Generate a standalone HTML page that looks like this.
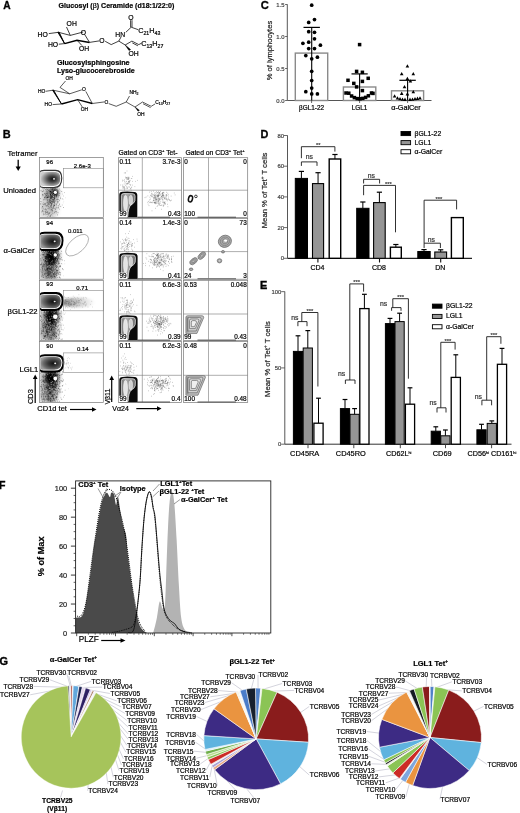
<!DOCTYPE html>
<html><head><meta charset="utf-8"><style>
html,body{margin:0;padding:0;background:#fff;width:520px;height:813px;overflow:hidden}
svg{display:block;filter:blur(0.35px)}
text{font-family:"Liberation Sans", sans-serif}
</style></head><body>
<svg width="520" height="813" viewBox="0 0 520 813">
<defs><filter id="gs" filterUnits="userSpaceOnUse" x="0" y="0" width="520" height="813"><feColorMatrix type="saturate" values="0"/></filter></defs>
<rect width="520" height="813" fill="#fff"/>
<path d="M58.50 32.30 L70.30 35.40 L83.20 32.00" fill="none" stroke="#000" stroke-width="0.75"/>
<line x1="84.70" y1="34.50" x2="89.50" y2="42.40" stroke="#000" stroke-width="0.75"/>
<path d="M89.50 42.40 L77.00 40.20 L64.60 43.60" fill="none" stroke="#000" stroke-width="1.5"/>
<path d="M64.6 43.6 L57.9 32.3 L59.1 32.3 Z" fill="#000" stroke="#000" stroke-width="1.0"/>
<path d="M70.30 35.40 L66.50 27.00" fill="none" stroke="#000" stroke-width="0.75"/>
<line x1="58.50" y1="32.30" x2="48.80" y2="33.60" stroke="#000" stroke-width="0.75"/>
<line x1="64.60" y1="43.60" x2="58.80" y2="44.20" stroke="#000" stroke-width="0.75"/>
<line x1="77.00" y1="40.20" x2="82.00" y2="45.60" stroke="#000" stroke-width="0.75"/>
<line x1="89.50" y1="42.40" x2="99.20" y2="40.90" stroke="#000" stroke-width="0.75"/>
<path d="M105.20 41.30 L111.20 44.60 L118.80 41.10" fill="none" stroke="#000" stroke-width="0.75"/>
<line x1="118.80" y1="41.10" x2="121.00" y2="37.00" stroke="#000" stroke-width="0.75"/>
<line x1="125.80" y1="32.30" x2="131.20" y2="27.20" stroke="#000" stroke-width="0.75"/>
<line x1="130.60" y1="27.20" x2="130.60" y2="20.20" stroke="#000" stroke-width="0.75"/>
<line x1="132.00" y1="27.20" x2="132.00" y2="20.20" stroke="#000" stroke-width="0.75"/>
<line x1="131.20" y1="27.20" x2="138.00" y2="29.60" stroke="#000" stroke-width="0.75"/>
<line x1="118.80" y1="41.10" x2="125.20" y2="45.00" stroke="#000" stroke-width="0.75"/>
<path d="M125.2 45.0 L129.0 50.5 L130.6 49.6 Z" fill="#000" stroke="#000" stroke-width="0.5"/>
<path d="M125.20 45.00 L131.90 41.10 L138.80 44.60 L141.50 43.20" fill="none" stroke="#000" stroke-width="0.75"/>
<line x1="132.30" y1="42.90" x2="137.90" y2="45.80" stroke="#000" stroke-width="0.75"/>
<path d="M53.10 90.20 L69.70 93.80 L81.80 89.80" fill="none" stroke="#000" stroke-width="0.65"/>
<line x1="85.80" y1="91.40" x2="92.30" y2="103.50" stroke="#000" stroke-width="0.65"/>
<path d="M92.30 103.50 L77.70 99.70 L61.50 104.00" fill="none" stroke="#000" stroke-width="1.3"/>
<path d="M61.5 104.0 L52.6 90.2 L53.6 90.2 Z" fill="#000" stroke="#000" stroke-width="0.9"/>
<path d="M69.70 93.80 L60.00 87.40 L65.50 81.00" fill="none" stroke="#000" stroke-width="0.65"/>
<line x1="53.10" y1="90.20" x2="45.60" y2="91.30" stroke="#000" stroke-width="0.65"/>
<line x1="61.50" y1="104.00" x2="52.60" y2="104.60" stroke="#000" stroke-width="0.65"/>
<line x1="77.70" y1="99.70" x2="82.30" y2="107.00" stroke="#000" stroke-width="0.65"/>
<line x1="92.30" y1="103.50" x2="104.50" y2="101.90" stroke="#000" stroke-width="0.65"/>
<path d="M108.70 103.60 L116.20 106.30 L126.20 102.00" fill="none" stroke="#000" stroke-width="0.65"/>
<line x1="126.20" y1="102.00" x2="129.50" y2="96.00" stroke="#000" stroke-width="0.65"/>
<line x1="126.20" y1="102.00" x2="135.00" y2="107.00" stroke="#000" stroke-width="0.65"/>
<path d="M135.0 107.0 L138.0 111.2 L139.4 110.3 Z" fill="#000" stroke="#000" stroke-width="0.4"/>
<path d="M135.00 107.00 L142.50 102.00 L151.20 106.30 L155.00 104.00" fill="none" stroke="#000" stroke-width="0.65"/>
<line x1="143.00" y1="103.70" x2="150.60" y2="107.60" stroke="#000" stroke-width="0.65"/>
<line x1="18.20" y1="159.80" x2="18.20" y2="167.50" stroke="#000" stroke-width="1.3"/>
<path d="M15.6 166.5 L20.8 166.5 L18.2 171.0 Z" fill="#000" stroke="none" stroke-width="0.8"/>
<defs><filter id="bl3" x="-50%" y="-50%" width="200%" height="200%"><feGaussianBlur stdDeviation="2.6"/></filter><filter id="bl1" x="-50%" y="-50%" width="200%" height="200%"><feGaussianBlur stdDeviation="0.9"/></filter><radialGradient id="blobg" cx="0.6" cy="0.5" r="0.62"><stop offset="0" stop-color="#111"/><stop offset="0.4" stop-color="#3a3a3a"/><stop offset="0.75" stop-color="#6a6a6a"/><stop offset="1" stop-color="#9a9a9a"/></radialGradient><radialGradient id="blobg1" cx="0.6" cy="0.5" r="0.6"><stop offset="0" stop-color="#111"/><stop offset="0.35" stop-color="#444"/><stop offset="0.75" stop-color="#999"/><stop offset="1" stop-color="#ccc"/></radialGradient><linearGradient id="c2g" x1="0" x2="1" y1="0" y2="0"><stop offset="0" stop-color="#7a7a7a"/><stop offset="0.4" stop-color="#a8a8a8"/><stop offset="1" stop-color="#6a6a6a"/></linearGradient></defs>
<clipPath id="cp0"><rect x="39.9" y="157.9" width="63.0" height="59.3"/></clipPath>
<g clip-path="url(#cp0)">
<ellipse cx="54.5" cy="192.5" rx="4" ry="3.5" fill="#000" opacity="0.7" filter="url(#bl1)"/>
<ellipse cx="51.5" cy="193.0" rx="7" ry="8" fill="#000" opacity="0.45" filter="url(#bl3)"/>
<ellipse cx="50" cy="207.0" rx="7.5" ry="13" fill="#000" opacity="0.23" filter="url(#bl3)"/>
<rect x="39.5" y="188.0" width="4" height="29.599999999999994" fill="#000" opacity="0.09" filter="url(#bl1)"/>
<path d="M49.8 200.6h0.6M50.0 191.5h0.6M46.8 192.7h0.6M56.0 199.7h0.6M55.7 197.7h0.6M52.8 197.0h0.6M43.5 204.4h0.6M53.3 200.5h0.6M47.0 189.8h0.6M52.4 194.5h0.6M53.3 187.9h0.6M52.4 199.3h0.6M48.0 213.9h0.6M53.5 208.2h0.6M49.5 193.8h0.6M53.8 197.7h0.6M48.7 208.4h0.6M47.4 197.7h0.6M51.2 209.4h0.6M41.9 191.5h0.6M53.2 194.3h0.6M44.4 204.1h0.6M54.0 205.4h0.6M57.5 199.0h0.6M53.8 188.3h0.6M46.6 189.2h0.6M44.4 197.6h0.6M57.5 201.4h0.6M46.0 205.8h0.6M56.0 196.7h0.6M52.1 199.8h0.6M58.2 201.8h0.6M53.3 201.0h0.6M43.9 209.1h0.6M55.3 200.8h0.6M42.1 188.0h0.6M50.2 206.2h0.6M45.1 212.7h0.6M53.5 193.3h0.6M52.5 202.1h0.6M51.5 207.6h0.6M48.0 190.4h0.6M55.7 195.3h0.6M47.0 205.4h0.6M57.6 190.1h0.6M44.8 193.5h0.6M50.3 191.7h0.6M47.5 201.9h0.6M56.1 204.4h0.6M52.6 196.6h0.6M51.7 201.3h0.6M50.2 198.1h0.6M53.6 195.0h0.6M54.4 201.2h0.6M60.0 198.6h0.6M49.1 190.9h0.6M50.9 205.2h0.6M49.5 199.2h0.6M45.9 197.7h0.6M52.8 197.6h0.6M49.1 202.2h0.6M52.3 189.3h0.6M61.9 198.9h0.6M48.5 193.9h0.6M50.0 194.3h0.6M50.7 205.5h0.6M54.9 211.4h0.6M43.3 191.1h0.6M49.5 201.9h0.6M51.8 208.1h0.6M50.3 197.1h0.6M54.6 196.6h0.6M50.6 211.9h0.6M55.7 191.8h0.6M55.1 192.1h0.6M51.6 202.8h0.6M52.0 202.0h0.6M56.7 203.2h0.6M54.4 212.5h0.6M47.0 212.2h0.6M55.4 193.0h0.6M42.1 210.5h0.6M50.6 188.4h0.6M52.8 199.5h0.6M56.1 211.4h0.6M57.5 193.0h0.6M47.7 206.2h0.6M51.5 196.4h0.6M57.4 192.1h0.6M40.7 190.7h0.6M42.7 204.0h0.6M52.4 188.3h0.6M51.0 204.2h0.6M51.4 209.6h0.6M50.7 206.4h0.6M57.7 212.7h0.6M48.0 204.7h0.6M42.2 206.8h0.6M45.5 194.9h0.6M50.1 194.7h0.6M48.3 197.6h0.6M59.1 195.5h0.6M53.4 206.0h0.6M48.5 206.8h0.6M43.6 188.4h0.6M55.5 203.7h0.6M51.0 203.9h0.6M44.0 188.0h0.6M55.2 188.8h0.6M44.1 193.7h0.6M45.7 199.0h0.6M40.4 198.6h0.6M54.3 192.0h0.6M52.3 190.0h0.6M54.5 203.2h0.6M54.0 198.6h0.6M57.0 202.3h0.6M55.0 209.4h0.6M49.7 189.8h0.6M46.8 202.6h0.6M59.5 193.7h0.6M53.5 204.9h0.6M46.9 194.0h0.6M52.3 204.1h0.6M50.8 192.9h0.6M46.4 191.1h0.6M55.0 196.1h0.6M63.0 207.5h0.6M53.8 200.3h0.6M58.6 199.7h0.6M50.7 200.7h0.6M42.3 206.4h0.6M52.5 187.3h0.6M57.0 214.9h0.6M44.7 187.7h0.6M52.3 197.0h0.6M60.5 206.4h0.6M58.7 205.9h0.6M59.2 203.9h0.6M47.1 197.9h0.6M50.7 200.8h0.6M47.7 193.6h0.6M53.1 199.1h0.6M53.9 197.3h0.6M49.5 203.7h0.6M48.2 195.0h0.6M50.5 196.7h0.6M51.0 196.9h0.6M52.9 206.6h0.6M53.0 192.9h0.6M42.5 195.7h0.6M46.8 203.1h0.6M46.3 212.4h0.6M47.6 200.7h0.6M53.2 196.9h0.6M57.7 202.8h0.6M50.9 201.6h0.6M58.4 205.7h0.6M50.3 203.0h0.6M49.7 206.8h0.6M53.7 205.0h0.6M56.6 192.6h0.6M49.5 204.6h0.6M55.4 195.1h0.6M45.7 197.1h0.6M52.6 207.4h0.6M54.5 195.3h0.6M54.8 200.9h0.6M51.9 195.6h0.6M49.9 202.5h0.6M46.3 188.1h0.6M47.9 201.3h0.6M53.5 194.4h0.6M59.2 200.7h0.6M54.5 205.3h0.6M42.5 194.4h0.6M51.1 197.7h0.6M53.9 202.7h0.6M57.8 207.8h0.6M45.1 189.4h0.6M50.6 195.1h0.6M45.4 194.7h0.6M50.1 191.6h0.6M54.2 198.9h0.6M50.6 187.6h0.6M46.6 195.4h0.6M44.2 197.2h0.6M49.9 191.5h0.6M53.1 201.7h0.6M50.4 194.3h0.6M54.3 198.2h0.6M46.0 193.7h0.6M48.8 196.2h0.6M53.4 190.5h0.6M61.5 191.5h0.6M56.0 196.3h0.6M47.6 197.7h0.6M52.5 209.1h0.6M54.4 205.4h0.6M53.3 193.3h0.6M50.0 195.2h0.6M56.2 195.3h0.6M47.4 197.8h0.6M53.6 202.8h0.6M47.5 214.3h0.6M58.5 195.2h0.6M52.2 190.3h0.6M57.4 187.2h0.6M54.0 189.7h0.6M47.9 202.9h0.6M57.0 194.9h0.6M48.0 203.9h0.6M50.8 198.4h0.6M57.9 207.4h0.6M51.0 203.6h0.6M48.1 194.5h0.6M43.1 214.7h0.6M56.3 189.9h0.6M50.7 191.6h0.6M50.7 198.4h0.6" stroke="#000" stroke-width="0.6" opacity="0.8" fill="none"/>
<path d="M51.8 201.2h0.6M43.6 205.9h0.6M53.6 202.6h0.6M46.2 195.6h0.6M43.4 199.8h0.6M50.8 210.2h0.6M44.8 204.2h0.6M45.9 206.0h0.6M49.9 208.9h0.6M47.6 208.4h0.6M49.3 213.3h0.6M49.0 191.6h0.6M42.7 211.5h0.6M45.1 211.6h0.6M53.5 207.7h0.6M52.0 202.7h0.6M40.5 203.6h0.6M51.7 197.6h0.6M48.4 213.0h0.6M43.7 211.7h0.6M60.2 197.3h0.6M49.9 202.2h0.6M58.2 207.8h0.6M54.4 195.7h0.6M48.9 203.9h0.6M53.5 202.4h0.6M51.7 208.4h0.6M40.0 201.5h0.6M58.0 197.1h0.6M42.9 187.7h0.6M41.7 208.0h0.6M59.2 209.2h0.6M45.9 195.9h0.6M52.2 210.6h0.6M42.9 190.0h0.6M50.7 207.0h0.6M41.2 201.6h0.6M45.7 209.5h0.6M48.3 203.0h0.6M46.9 216.6h0.6M57.3 199.6h0.6M54.1 194.9h0.6M49.4 213.0h0.6M58.1 199.4h0.6M48.6 206.4h0.6M40.0 204.2h0.6M44.9 208.5h0.6M49.2 207.1h0.6M45.7 214.7h0.6M47.4 196.7h0.6M44.9 203.8h0.6M54.1 202.0h0.6M50.9 196.1h0.6M45.1 204.2h0.6M50.0 216.3h0.6M52.6 213.5h0.6M50.2 207.0h0.6M54.6 208.4h0.6M59.0 189.1h0.6M53.9 199.5h0.6M49.0 200.9h0.6M46.0 193.9h0.6M45.2 211.7h0.6M49.2 204.8h0.6M48.0 215.0h0.6M52.0 202.3h0.6M53.0 202.2h0.6M51.8 192.5h0.6M55.5 208.1h0.6M51.0 214.7h0.6M50.2 202.2h0.6M49.2 200.6h0.6M51.1 204.9h0.6M53.1 199.5h0.6M46.5 212.1h0.6M57.0 199.6h0.6M47.0 212.8h0.6M59.1 204.5h0.6M56.4 195.5h0.6M50.2 203.1h0.6M63.3 196.0h0.6M45.5 210.0h0.6M42.7 210.0h0.6M52.4 200.7h0.6M44.8 197.3h0.6M46.6 214.3h0.6M49.5 199.2h0.6M49.0 208.4h0.6M56.4 207.2h0.6M48.8 209.0h0.6M54.8 212.0h0.6M47.4 191.4h0.6M49.6 216.4h0.6M42.5 191.7h0.6M47.4 198.8h0.6M51.7 195.6h0.6M43.7 199.3h0.6M48.7 196.0h0.6M49.1 213.0h0.6M44.3 199.0h0.6M44.7 203.6h0.6M52.1 187.7h0.6M51.8 203.7h0.6M53.8 206.5h0.6M51.8 209.3h0.6M56.8 201.3h0.6M54.2 199.1h0.6M53.4 194.2h0.6M51.7 202.1h0.6M42.1 194.5h0.6M50.2 215.3h0.6M51.6 210.3h0.6M46.7 197.4h0.6M54.3 204.8h0.6M47.3 197.1h0.6M47.5 211.5h0.6M51.1 189.5h0.6M51.6 206.1h0.6M43.0 213.3h0.6M47.3 200.0h0.6M44.9 209.3h0.6M45.1 213.7h0.6M46.4 210.0h0.6M48.4 196.0h0.6M61.9 205.0h0.6M45.5 205.7h0.6M56.6 205.4h0.6M56.1 212.9h0.6M44.1 214.3h0.6M52.0 211.8h0.6M54.4 212.8h0.6M50.0 209.9h0.6M64.3 192.6h0.6M47.0 204.4h0.6M54.3 198.7h0.6M55.9 194.5h0.6M50.6 197.7h0.6M49.9 195.7h0.6M50.8 197.3h0.6M50.2 215.9h0.6M43.1 202.7h0.6M52.2 210.3h0.6M56.5 207.9h0.6M49.1 200.7h0.6M50.6 198.9h0.6M42.9 195.1h0.6M45.4 196.7h0.6M42.0 211.6h0.6M41.1 211.9h0.6M42.9 208.2h0.6" stroke="#000" stroke-width="0.6" opacity="0.55" fill="none"/>
<path d="M65.5 197.8h0.5M57.1 196.4h0.5M57.6 197.5h0.5M58.1 196.7h0.5M62.9 202.9h0.5M63.6 201.3h0.5M58.8 195.8h0.5M58.9 193.2h0.5M58.7 195.8h0.5M56.1 195.8h0.5M62.1 194.5h0.5M50.0 197.2h0.5M62.1 193.3h0.5M63.4 199.3h0.5M60.1 190.7h0.5" stroke="#333" stroke-width="0.5" opacity="0.4" fill="none"/>
<path d="M55.2 197.1h0.7M53.1 196.9h0.7M40.8 201.7h0.7M53.0 209.5h0.7M47.6 201.7h0.7M55.1 203.5h0.7M56.6 210.1h0.7M48.9 194.9h0.7M56.4 192.9h0.7M42.9 192.0h0.7M48.6 194.7h0.7M53.2 194.5h0.7M58.6 201.2h0.7M46.6 215.1h0.7M49.1 204.2h0.7M51.9 198.9h0.7M53.6 195.1h0.7M45.7 194.4h0.7M51.9 202.6h0.7M54.8 203.2h0.7M48.0 194.9h0.7M41.4 200.3h0.7M54.4 207.3h0.7M51.4 200.3h0.7M56.7 202.2h0.7M55.7 207.8h0.7M53.1 215.1h0.7M49.1 198.4h0.7M48.0 194.0h0.7M52.1 207.7h0.7M57.9 210.1h0.7M58.0 189.4h0.7M48.8 206.5h0.7M59.2 203.0h0.7M47.7 198.5h0.7M48.7 193.4h0.7M59.5 195.7h0.7M57.9 205.4h0.7M48.9 206.1h0.7M60.1 208.2h0.7M58.3 203.0h0.7M54.6 200.0h0.7M54.1 215.0h0.7M44.8 201.4h0.7M53.2 196.3h0.7M50.5 209.9h0.7M62.0 208.3h0.7M61.6 202.8h0.7M51.8 190.8h0.7M51.7 191.0h0.7M52.4 206.7h0.7M52.2 204.8h0.7M47.7 216.3h0.7M51.1 194.4h0.7M47.0 198.5h0.7M53.5 190.2h0.7M51.3 216.3h0.7M55.4 200.5h0.7M52.6 200.8h0.7M51.8 209.3h0.7M51.9 193.1h0.7M55.3 195.9h0.7M46.8 190.8h0.7M42.6 205.6h0.7M44.6 208.2h0.7M48.1 198.3h0.7M53.7 215.6h0.7M61.7 212.3h0.7M52.7 203.8h0.7M61.0 216.3h0.7M50.4 206.6h0.7M53.4 202.5h0.7M49.5 188.7h0.7M58.1 207.4h0.7M46.0 216.0h0.7M61.2 210.1h0.7M62.3 189.7h0.7M54.7 206.2h0.7M53.0 203.7h0.7M57.3 187.1h0.7M45.8 188.1h0.7M49.2 195.9h0.7M53.8 204.7h0.7M52.2 195.2h0.7M49.8 211.5h0.7M55.8 203.0h0.7M49.0 208.5h0.7M57.8 199.3h0.7M56.1 190.8h0.7M57.1 204.0h0.7M44.1 208.7h0.7M47.5 214.8h0.7M48.6 200.4h0.7M53.4 198.7h0.7M53.3 196.5h0.7M55.4 202.1h0.7M57.8 202.3h0.7M43.1 203.0h0.7M54.3 212.7h0.7M51.3 208.8h0.7" stroke="#fff" stroke-width="0.7" opacity="0.6" fill="none"/>
<path d="M39.90 171.98 Q39.90 169.80 44.38 169.80 L55.58 169.80 Q62.30 169.80 62.30 177.99 Q62.30 188.00 54.46 188.00 L43.26 188.00 Q39.90 188.00 39.90 185.82 Z" fill="#333" stroke="none" stroke-width="0.8"/>
<path d="M40.20 172.82 Q40.20 170.90 44.40 170.90 L54.90 170.90 Q61.20 170.90 61.20 178.10 Q61.20 186.90 53.85 186.90 L43.35 186.90 Q40.20 186.90 40.20 184.98 Z" fill="#fff" stroke="none" stroke-width="0.8"/>
<path d="M40.50 173.50 Q40.50 171.80 44.46 171.80 L54.36 171.80 Q60.30 171.80 60.30 178.19 Q60.30 186.00 53.37 186.00 L43.47 186.00 Q40.50 186.00 40.50 184.30 Z" fill="url(#blobg1)" stroke="none" stroke-width="0.8"/>
<ellipse cx="53.98" cy="178.90" rx="1.0" ry="0.8" fill="#eee"/>
<circle cx="55.3" cy="192.30" r="1.6" fill="#fff"/>
</g>
<rect x="39.50" y="157.50" width="63.80" height="60.10" fill="none" stroke="#777" stroke-width="0.7"/>
<rect x="63.60" y="168.40" width="39.70" height="19.40" fill="none" stroke="#888" stroke-width="0.6"/>
<clipPath id="cp1"><rect x="39.9" y="219.0" width="63.0" height="59.8"/></clipPath>
<g clip-path="url(#cp1)">
<ellipse cx="51.5" cy="256.0" rx="7" ry="8" fill="#000" opacity="0.95" filter="url(#bl3)"/>
<ellipse cx="50" cy="270.0" rx="7.5" ry="13" fill="#000" opacity="0.47" filter="url(#bl3)"/>
<rect x="39.5" y="251.0" width="4" height="28.19999999999999" fill="#000" opacity="0.19" filter="url(#bl1)"/>
<path d="M55.9 268.0h0.6M57.9 267.4h0.6M48.1 250.6h0.6M47.3 264.4h0.6M52.5 255.0h0.6M51.8 256.4h0.6M52.0 266.3h0.6M55.3 250.5h0.6M44.2 273.7h0.6M51.5 270.2h0.6M43.6 254.4h0.6M48.7 266.0h0.6M55.9 275.5h0.6M53.3 268.3h0.6M54.5 266.7h0.6M53.5 252.6h0.6M52.4 266.7h0.6M52.5 263.3h0.6M51.1 267.8h0.6M48.4 257.1h0.6M49.6 264.3h0.6M58.2 255.2h0.6M60.2 274.8h0.6M54.6 264.5h0.6M59.0 256.0h0.6M53.1 272.8h0.6M53.4 262.7h0.6M50.1 259.9h0.6M44.6 269.5h0.6M54.8 269.6h0.6M44.9 268.2h0.6M55.0 251.6h0.6M48.1 261.8h0.6M48.6 272.3h0.6M54.8 264.6h0.6M48.7 251.9h0.6M46.6 263.6h0.6M47.7 250.2h0.6M53.7 272.6h0.6M56.5 261.3h0.6M55.2 274.3h0.6M56.1 253.1h0.6M55.7 266.5h0.6M44.1 253.5h0.6M44.6 256.8h0.6M41.7 272.3h0.6M52.7 274.2h0.6M45.0 269.7h0.6M50.1 261.0h0.6M50.3 269.0h0.6M55.7 259.0h0.6M44.9 266.2h0.6M48.9 264.9h0.6M52.2 275.9h0.6M56.1 253.0h0.6M52.6 277.4h0.6M48.6 262.8h0.6M56.4 271.8h0.6M45.3 260.7h0.6M47.1 270.5h0.6M47.3 259.8h0.6M48.8 256.3h0.6M53.1 251.0h0.6M48.5 263.9h0.6M48.4 261.2h0.6M58.2 258.3h0.6M50.3 266.1h0.6M49.4 269.9h0.6M45.2 264.8h0.6M58.9 265.2h0.6M56.4 274.0h0.6M50.5 256.6h0.6M62.1 260.0h0.6M49.1 251.1h0.6M53.0 261.6h0.6M51.8 276.9h0.6M49.5 263.2h0.6M55.7 278.2h0.6M53.2 274.0h0.6M43.7 254.5h0.6M42.4 266.6h0.6M47.7 255.1h0.6M51.2 264.0h0.6M49.4 258.2h0.6M48.5 259.3h0.6M45.7 258.7h0.6M42.3 252.6h0.6M59.6 258.9h0.6M45.3 260.8h0.6M47.7 266.1h0.6M52.7 256.9h0.6M57.1 260.7h0.6M45.8 257.2h0.6M51.9 256.3h0.6M46.3 276.6h0.6M47.6 267.3h0.6M43.4 255.0h0.6M52.2 269.4h0.6M45.9 264.5h0.6M47.4 257.8h0.6M49.1 266.4h0.6M49.2 271.9h0.6M58.0 262.4h0.6M54.6 260.9h0.6M53.9 258.3h0.6M56.4 250.9h0.6M49.7 251.1h0.6M51.2 252.9h0.6M51.5 260.7h0.6M47.8 254.8h0.6M49.5 268.9h0.6M49.0 268.6h0.6M56.5 262.8h0.6M53.2 259.4h0.6M55.3 252.1h0.6M55.4 259.0h0.6M56.1 256.5h0.6M49.2 260.7h0.6M49.1 252.0h0.6M51.5 259.6h0.6M57.8 258.5h0.6M59.5 277.8h0.6M58.7 269.7h0.6M51.6 259.5h0.6M50.7 251.0h0.6M58.4 263.9h0.6M50.8 253.4h0.6M40.9 264.3h0.6M50.9 256.4h0.6M57.5 259.5h0.6M51.8 253.9h0.6M48.3 274.5h0.6M55.5 276.9h0.6M49.4 258.3h0.6M47.0 268.6h0.6M44.7 264.2h0.6M55.9 273.5h0.6M46.8 270.0h0.6M45.0 270.7h0.6M58.4 251.5h0.6M47.6 254.3h0.6M62.3 269.0h0.6M48.0 271.1h0.6M59.4 255.1h0.6M47.9 252.4h0.6M42.5 268.0h0.6M46.1 269.7h0.6M54.5 258.1h0.6M45.7 264.8h0.6M59.2 263.5h0.6M47.8 254.2h0.6M49.9 261.8h0.6M43.4 251.5h0.6M53.3 275.4h0.6M54.0 254.7h0.6M48.0 259.6h0.6M50.8 276.3h0.6M57.9 268.4h0.6M51.5 250.1h0.6M45.1 260.2h0.6M52.1 264.7h0.6M53.9 273.5h0.6M47.2 268.8h0.6M46.6 265.6h0.6M51.8 260.7h0.6M55.4 257.8h0.6M56.0 267.6h0.6M51.6 251.8h0.6M47.6 252.2h0.6M50.1 257.7h0.6M47.8 254.5h0.6M58.3 251.8h0.6M51.0 261.1h0.6M51.9 264.6h0.6M52.3 259.8h0.6M42.5 250.2h0.6M40.5 264.9h0.6M52.4 255.9h0.6M47.3 251.6h0.6M59.3 277.0h0.6M50.7 272.2h0.6M48.5 260.1h0.6M51.2 261.0h0.6M50.8 268.2h0.6M51.7 255.1h0.6M53.4 260.1h0.6M54.1 264.0h0.6M50.9 263.7h0.6M48.3 258.8h0.6M51.2 264.1h0.6M50.7 256.4h0.6M50.4 250.9h0.6M61.1 263.7h0.6M54.1 267.2h0.6M59.5 272.5h0.6M47.1 261.0h0.6M49.3 253.6h0.6M51.3 261.7h0.6M56.6 275.6h0.6M50.5 269.3h0.6M53.0 265.3h0.6M53.6 269.1h0.6M60.4 278.1h0.6M60.0 266.2h0.6M49.5 251.4h0.6M47.3 259.3h0.6M50.9 265.4h0.6M61.2 257.7h0.6M54.0 263.2h0.6M52.2 255.7h0.6M51.8 257.7h0.6M51.2 258.5h0.6M52.9 268.8h0.6M53.7 253.9h0.6M48.8 255.4h0.6M54.3 275.1h0.6M50.3 250.9h0.6M52.7 260.2h0.6M50.5 265.4h0.6M51.5 261.9h0.6M50.7 254.3h0.6M50.2 258.1h0.6M55.3 251.3h0.6M53.5 251.8h0.6M54.3 277.1h0.6M49.2 262.9h0.6M46.8 268.7h0.6M56.4 258.4h0.6M45.9 262.4h0.6M56.2 270.0h0.6M47.9 273.6h0.6M45.5 270.4h0.6M59.5 266.4h0.6M56.0 254.3h0.6M45.5 256.9h0.6M50.1 257.5h0.6M54.1 256.4h0.6M51.9 262.7h0.6M51.0 278.3h0.6M53.0 258.9h0.6M50.1 251.1h0.6M57.0 259.7h0.6M46.1 251.8h0.6M50.4 253.1h0.6M53.2 259.6h0.6M45.7 258.5h0.6M50.6 263.5h0.6M49.0 261.3h0.6M54.5 269.5h0.6M50.9 251.4h0.6M47.4 265.4h0.6M42.5 274.0h0.6M51.2 267.9h0.6M56.1 262.4h0.6M61.1 251.3h0.6M51.0 269.5h0.6M48.1 250.2h0.6M49.3 257.2h0.6M46.1 263.3h0.6M53.4 258.8h0.6M58.7 254.4h0.6M56.9 252.0h0.6M51.9 256.1h0.6M48.8 251.3h0.6M49.4 250.1h0.6M41.1 251.4h0.6M48.5 252.2h0.6M46.2 256.5h0.6M54.5 255.2h0.6M48.8 272.9h0.6M55.4 268.1h0.6M56.2 254.4h0.6M50.4 270.2h0.6M48.5 256.7h0.6M52.7 262.1h0.6M49.8 268.8h0.6M50.2 266.0h0.6M55.8 265.3h0.6M45.1 251.2h0.6M53.1 274.5h0.6M45.5 261.4h0.6M49.8 265.6h0.6M52.0 271.0h0.6M46.6 267.8h0.6M55.2 258.8h0.6M53.1 251.8h0.6M46.1 253.5h0.6M48.8 276.2h0.6M51.9 261.4h0.6M55.1 262.1h0.6M44.2 264.6h0.6M53.5 263.0h0.6M58.1 253.4h0.6M53.3 266.2h0.6M46.9 271.2h0.6M53.0 255.1h0.6M51.3 257.3h0.6M46.8 253.0h0.6M47.6 251.3h0.6M46.2 261.6h0.6M46.6 266.9h0.6M48.0 264.4h0.6M46.1 258.0h0.6M52.5 266.6h0.6M54.6 269.4h0.6M49.3 255.7h0.6M54.5 253.3h0.6M53.9 256.1h0.6M42.1 268.8h0.6M52.4 258.2h0.6M46.2 252.9h0.6M45.6 256.5h0.6M47.2 269.5h0.6M54.5 264.2h0.6M46.3 266.2h0.6M56.1 255.2h0.6M45.1 263.7h0.6M55.1 257.8h0.6M42.9 254.2h0.6M52.9 266.5h0.6M59.3 255.2h0.6M48.8 257.6h0.6M54.6 250.6h0.6M53.1 265.6h0.6M45.7 257.0h0.6M52.1 264.5h0.6M50.1 255.6h0.6M44.3 268.2h0.6M48.6 273.8h0.6M54.8 258.2h0.6M49.5 251.7h0.6M45.3 258.2h0.6M50.3 273.8h0.6M46.9 252.9h0.6M52.9 262.4h0.6M51.1 252.8h0.6M53.2 262.0h0.6M42.7 255.1h0.6M51.7 258.7h0.6M52.7 265.6h0.6M58.9 271.9h0.6M47.4 253.0h0.6M46.8 261.4h0.6M59.9 265.8h0.6M45.2 263.7h0.6M51.0 261.3h0.6M40.0 258.8h0.6M51.2 268.9h0.6M50.4 250.4h0.6M43.1 259.9h0.6M51.1 264.8h0.6M49.2 263.5h0.6M54.7 256.4h0.6M48.9 256.0h0.6M46.7 255.7h0.6M49.6 260.3h0.6M57.0 272.4h0.6M49.0 264.6h0.6M52.3 266.4h0.6M51.1 260.9h0.6M54.9 272.3h0.6M54.0 262.8h0.6M52.2 253.0h0.6M43.0 265.3h0.6M51.9 251.9h0.6M46.7 272.1h0.6M42.9 277.4h0.6M47.8 257.8h0.6M48.7 259.7h0.6M48.7 264.1h0.6M48.6 253.2h0.6M52.6 254.0h0.6M45.4 256.9h0.6M50.0 276.8h0.6M46.1 268.7h0.6M47.5 254.1h0.6M49.5 261.0h0.6M54.9 277.2h0.6M48.1 272.6h0.6M55.5 266.9h0.6M47.6 267.9h0.6M50.5 261.9h0.6M49.8 265.3h0.6M56.0 270.4h0.6M50.1 268.9h0.6M53.4 264.5h0.6M57.7 261.1h0.6M45.4 266.4h0.6M49.9 250.1h0.6M49.0 253.0h0.6M58.4 274.1h0.6M52.2 258.8h0.6M52.6 264.2h0.6M49.6 268.2h0.6M54.8 260.3h0.6M49.2 252.7h0.6M44.7 264.6h0.6M50.9 258.4h0.6M50.7 261.2h0.6M54.2 260.4h0.6M57.1 270.5h0.6M51.0 253.3h0.6M50.6 262.7h0.6M55.5 254.2h0.6M57.2 250.8h0.6M57.6 263.7h0.6M46.1 263.7h0.6M53.1 255.5h0.6M51.1 254.7h0.6M50.6 271.8h0.6M57.3 255.0h0.6M47.7 255.7h0.6M54.9 261.8h0.6M48.4 261.9h0.6M50.1 263.5h0.6M51.3 266.2h0.6M46.1 256.8h0.6M54.9 254.0h0.6M54.6 269.0h0.6M46.9 275.5h0.6M43.7 252.4h0.6M54.2 272.2h0.6M46.9 250.9h0.6M53.8 264.0h0.6M49.0 263.7h0.6M54.4 261.3h0.6M53.3 274.2h0.6M48.9 259.7h0.6M48.7 269.0h0.6M49.2 263.1h0.6M51.6 258.7h0.6M58.5 257.1h0.6M57.2 266.8h0.6M56.8 256.2h0.6M55.0 266.0h0.6M48.3 260.9h0.6M50.4 257.6h0.6M56.7 250.3h0.6M49.0 251.1h0.6M51.1 264.0h0.6M58.6 261.3h0.6M53.0 250.2h0.6M53.5 272.4h0.6M54.9 274.8h0.6M49.7 264.2h0.6M47.1 268.2h0.6M45.2 273.2h0.6M51.1 261.2h0.6M45.2 251.7h0.6M45.7 258.5h0.6M53.1 265.8h0.6M49.4 255.8h0.6M50.0 251.9h0.6M52.1 259.7h0.6M48.3 260.7h0.6M50.9 257.2h0.6M49.6 273.8h0.6M46.3 256.9h0.6M48.4 268.0h0.6M53.2 254.3h0.6M49.6 269.4h0.6M47.2 254.1h0.6M51.6 262.4h0.6M48.8 268.9h0.6M60.7 253.7h0.6M57.1 254.4h0.6M51.6 254.4h0.6M49.3 271.7h0.6M55.9 254.3h0.6M48.7 250.6h0.6M45.8 277.1h0.6M53.9 259.2h0.6M56.7 266.2h0.6M46.9 268.4h0.6M46.2 264.8h0.6M46.8 253.6h0.6M53.1 262.6h0.6M57.8 272.2h0.6M51.0 262.9h0.6M47.6 256.4h0.6M45.3 258.9h0.6M51.9 272.2h0.6M55.1 266.6h0.6M49.4 255.6h0.6M49.5 260.3h0.6M42.7 266.1h0.6M44.2 252.6h0.6M51.1 252.6h0.6M58.2 257.0h0.6M57.8 270.4h0.6M48.9 262.2h0.6M56.6 254.5h0.6M51.4 252.1h0.6M51.3 254.3h0.6M51.4 268.6h0.6M57.0 259.4h0.6M51.9 267.0h0.6M54.7 273.8h0.6M46.8 273.7h0.6M54.1 265.4h0.6M50.8 254.8h0.6M49.4 254.9h0.6M43.3 252.0h0.6M58.8 274.3h0.6M49.4 250.5h0.6M52.7 269.2h0.6M51.7 259.5h0.6M57.2 270.6h0.6M53.3 270.8h0.6M49.3 274.2h0.6M49.2 262.2h0.6M51.7 257.4h0.6M49.6 263.3h0.6M41.9 257.8h0.6M51.4 255.2h0.6M54.4 276.5h0.6M48.4 259.0h0.6M54.6 262.5h0.6M49.9 256.3h0.6M53.1 267.1h0.6M45.2 260.9h0.6M47.8 264.7h0.6M56.9 258.5h0.6M50.5 259.9h0.6M53.4 259.7h0.6M49.3 250.3h0.6M50.2 270.8h0.6M50.6 272.2h0.6M52.2 257.9h0.6M43.8 251.0h0.6M48.6 264.8h0.6M57.3 251.7h0.6M48.5 275.6h0.6M48.2 250.3h0.6M46.6 254.5h0.6M54.8 261.7h0.6M46.7 259.2h0.6M51.1 266.0h0.6M49.6 262.8h0.6M60.1 259.0h0.6M46.3 261.5h0.6M47.5 254.1h0.6M51.8 261.6h0.6M49.8 267.0h0.6M54.8 254.2h0.6M56.2 251.1h0.6M53.5 261.3h0.6M46.2 272.9h0.6M42.8 267.6h0.6M55.7 263.2h0.6" stroke="#000" stroke-width="0.6" opacity="0.8" fill="none"/>
<path d="M52.9 261.3h0.6M48.9 269.6h0.6M51.4 275.1h0.6M47.8 258.9h0.6M45.8 271.7h0.6M46.6 260.6h0.6M47.0 264.1h0.6M47.2 272.5h0.6M55.1 254.9h0.6M52.7 263.1h0.6M45.4 257.2h0.6M46.6 257.2h0.6M54.8 271.4h0.6M57.1 271.7h0.6M45.2 261.7h0.6M48.0 267.5h0.6M55.9 260.0h0.6M51.0 266.7h0.6M41.7 254.4h0.6M47.7 271.7h0.6M50.9 272.5h0.6M49.3 261.8h0.6M51.5 255.4h0.6M41.2 263.2h0.6M40.7 261.1h0.6M44.7 260.6h0.6M48.7 257.7h0.6M49.8 256.8h0.6M44.4 269.8h0.6M49.5 268.2h0.6M40.3 269.7h0.6M49.9 255.7h0.6M53.3 266.4h0.6M49.1 261.8h0.6M52.2 268.1h0.6M55.6 272.2h0.6M45.4 264.4h0.6M54.3 262.8h0.6M51.2 273.0h0.6M49.8 269.5h0.6M49.8 258.2h0.6M56.0 265.4h0.6M45.4 258.7h0.6M51.1 254.3h0.6M56.9 273.9h0.6M56.2 272.7h0.6M56.9 261.3h0.6M49.7 276.0h0.6M49.5 275.0h0.6M52.2 260.1h0.6M47.9 277.5h0.6M43.6 259.4h0.6M51.5 261.2h0.6M48.6 269.6h0.6M62.2 268.6h0.6M52.0 271.2h0.6M47.9 262.2h0.6M50.5 266.6h0.6M48.4 263.9h0.6M44.6 266.7h0.6M46.4 269.4h0.6M54.0 276.5h0.6M53.2 276.6h0.6M46.1 267.0h0.6M44.7 278.2h0.6M53.9 261.6h0.6M56.2 254.0h0.6M48.5 274.4h0.6M48.8 271.5h0.6M55.9 270.8h0.6M42.6 275.4h0.6M48.4 268.3h0.6M45.7 250.8h0.6M41.7 262.9h0.6M55.7 253.4h0.6M44.8 273.2h0.6M44.5 274.7h0.6M46.2 270.6h0.6M49.6 267.0h0.6M45.8 273.2h0.6M49.9 272.7h0.6M50.6 264.9h0.6M47.2 257.0h0.6M44.4 255.0h0.6M58.9 267.1h0.6M53.3 255.6h0.6M48.8 255.3h0.6M47.6 255.3h0.6M40.8 264.3h0.6M46.7 257.5h0.6M43.8 256.1h0.6M42.2 265.1h0.6M49.6 273.5h0.6M55.6 260.5h0.6M41.7 264.8h0.6M50.7 258.8h0.6M40.7 271.2h0.6M50.2 264.4h0.6M50.3 261.4h0.6M51.6 274.5h0.6M53.5 273.8h0.6M51.4 253.2h0.6M46.5 268.5h0.6M46.8 254.7h0.6M49.2 260.2h0.6M46.6 256.6h0.6M44.6 265.9h0.6M45.2 274.9h0.6M48.2 268.5h0.6M52.5 269.7h0.6M48.0 257.6h0.6M47.0 275.0h0.6M50.3 262.5h0.6M51.2 250.9h0.6M47.8 269.6h0.6M43.6 271.1h0.6M47.8 257.2h0.6M41.7 276.5h0.6M51.1 256.6h0.6M43.1 277.4h0.6M52.5 263.4h0.6M58.3 263.6h0.6M47.9 271.0h0.6M49.2 255.3h0.6M42.1 264.7h0.6M57.2 255.3h0.6M56.9 269.6h0.6M42.5 270.1h0.6M52.3 256.5h0.6M42.5 272.1h0.6M47.6 269.0h0.6M45.7 253.2h0.6M52.1 272.7h0.6M58.8 277.3h0.6M51.1 270.1h0.6M49.2 251.5h0.6M57.5 273.1h0.6M47.3 253.6h0.6M57.7 273.2h0.6M42.1 274.8h0.6M60.1 266.7h0.6M51.3 262.2h0.6M48.3 276.2h0.6M47.2 275.5h0.6M53.8 255.2h0.6M42.8 266.1h0.6M53.9 270.2h0.6M56.2 251.0h0.6M51.9 259.7h0.6M49.6 270.7h0.6M43.3 264.3h0.6M42.2 270.1h0.6M44.0 261.2h0.6M50.3 259.4h0.6M55.7 259.6h0.6M53.9 270.3h0.6M43.0 264.5h0.6M44.1 262.8h0.6M51.6 251.8h0.6M55.0 271.5h0.6M47.8 264.1h0.6M50.5 263.5h0.6M45.9 262.7h0.6M55.8 259.8h0.6M51.2 253.6h0.6M44.9 251.0h0.6M47.9 274.9h0.6M50.8 261.3h0.6M52.6 263.0h0.6M51.2 270.2h0.6M41.4 276.0h0.6M47.6 260.6h0.6M57.7 273.5h0.6M60.0 272.9h0.6M47.8 275.4h0.6M44.4 261.8h0.6M45.8 264.4h0.6M53.5 261.4h0.6M50.9 261.2h0.6M47.8 269.0h0.6M54.6 274.4h0.6M48.1 254.4h0.6M47.7 261.7h0.6M50.4 261.6h0.6M55.8 261.6h0.6M47.6 277.7h0.6M49.0 252.9h0.6M51.4 264.7h0.6M42.9 258.4h0.6M51.8 270.5h0.6M51.4 259.9h0.6M50.4 265.6h0.6M47.9 263.8h0.6M45.7 278.4h0.6M48.3 271.3h0.6M46.5 265.0h0.6M43.5 259.5h0.6M56.0 270.0h0.6M56.1 276.9h0.6M54.3 278.6h0.6M45.5 276.3h0.6M47.1 260.9h0.6M53.8 257.2h0.6M50.6 271.3h0.6M51.2 262.9h0.6M41.6 267.4h0.6M54.0 276.1h0.6M43.3 266.5h0.6M51.0 278.6h0.6M49.9 273.0h0.6M63.3 269.7h0.6M40.7 259.1h0.6M51.7 274.7h0.6M54.9 269.3h0.6M44.0 265.9h0.6M50.9 263.8h0.6M45.1 262.9h0.6M40.3 255.2h0.6M48.5 262.8h0.6M50.7 266.6h0.6M42.2 254.5h0.6M51.2 256.9h0.6M51.5 254.6h0.6M49.8 266.2h0.6M54.8 262.5h0.6M46.9 269.8h0.6M47.5 260.8h0.6M47.2 272.5h0.6M50.4 275.0h0.6M59.6 266.6h0.6M42.0 268.8h0.6M57.0 277.5h0.6M46.9 272.8h0.6M57.8 263.2h0.6M48.9 260.5h0.6M57.2 255.8h0.6M43.6 260.1h0.6M52.5 259.7h0.6M56.2 263.4h0.6M51.8 265.0h0.6M59.4 262.8h0.6M49.4 274.9h0.6M44.7 269.3h0.6M59.5 259.0h0.6M46.9 269.8h0.6M56.0 267.4h0.6M51.9 267.6h0.6M51.4 255.4h0.6M43.8 258.9h0.6M46.9 274.2h0.6M45.3 260.2h0.6M53.1 272.0h0.6M47.0 254.6h0.6M59.8 272.8h0.6M50.9 275.7h0.6M54.5 264.0h0.6M43.4 275.7h0.6M55.9 263.1h0.6M52.9 266.4h0.6M50.7 260.8h0.6M48.8 266.9h0.6M49.0 278.2h0.6M55.1 276.0h0.6M53.7 256.0h0.6M56.0 256.0h0.6M56.5 274.7h0.6M45.1 258.4h0.6M40.1 264.5h0.6M54.9 259.2h0.6M59.7 275.0h0.6M45.9 253.0h0.6M56.5 254.7h0.6M49.0 263.8h0.6M47.5 272.8h0.6M61.1 259.6h0.6M47.4 265.3h0.6M45.9 259.4h0.6M49.4 257.1h0.6M43.0 263.6h0.6M57.6 264.6h0.6M52.0 250.0h0.6M48.4 274.0h0.6M50.5 256.3h0.6M53.6 278.1h0.6M51.6 262.0h0.6M48.7 259.7h0.6M48.2 270.7h0.6M47.3 278.3h0.6M64.0 260.7h0.6M51.0 276.5h0.6M52.7 264.2h0.6M46.2 278.6h0.6M52.6 272.9h0.6M44.3 274.3h0.6M53.6 264.9h0.6M42.2 251.2h0.6M47.6 273.3h0.6M49.3 253.5h0.6M40.7 260.5h0.6M49.1 257.4h0.6" stroke="#000" stroke-width="0.6" opacity="0.55" fill="none"/>
<path d="M54.2 274.3h0.5M56.8 257.6h0.5M57.9 253.9h0.5M60.2 256.4h0.5M54.2 276.0h0.5M59.7 265.7h0.5M64.6 263.8h0.5M53.8 267.5h0.5M62.6 264.0h0.5M60.6 250.1h0.5M66.1 253.6h0.5M57.8 266.5h0.5M61.3 251.2h0.5M63.2 275.8h0.5M55.2 256.8h0.5" stroke="#333" stroke-width="0.5" opacity="0.4" fill="none"/>
<path d="M55.0 271.8h0.7M56.7 269.2h0.7M42.2 264.7h0.7M48.8 253.6h0.7M46.6 272.4h0.7M56.3 277.1h0.7M52.2 253.2h0.7M60.6 252.2h0.7M57.3 276.5h0.7M50.0 251.8h0.7M51.7 268.7h0.7M44.6 253.7h0.7M51.5 271.9h0.7M52.4 269.4h0.7M53.5 256.1h0.7M51.4 261.3h0.7M54.3 257.5h0.7M59.0 265.3h0.7M54.6 271.1h0.7M57.1 268.9h0.7M43.5 258.9h0.7M61.1 269.6h0.7M54.7 269.6h0.7M48.9 258.4h0.7M48.8 276.3h0.7M54.2 253.4h0.7M60.5 268.3h0.7M57.8 267.1h0.7M50.4 266.7h0.7M46.5 253.3h0.7M47.6 259.9h0.7M45.4 264.0h0.7M61.0 264.5h0.7M56.3 262.8h0.7M53.9 264.7h0.7M49.3 265.7h0.7M44.7 269.3h0.7M50.6 254.4h0.7M50.2 270.4h0.7M48.7 269.7h0.7M46.7 263.9h0.7M53.3 272.4h0.7M44.8 259.3h0.7M60.2 262.2h0.7M62.6 257.8h0.7M55.1 267.6h0.7M61.9 266.6h0.7M50.8 251.1h0.7M51.6 274.3h0.7M55.7 277.1h0.7M56.3 264.5h0.7M55.0 266.7h0.7M53.8 254.6h0.7M53.9 267.8h0.7M59.6 255.6h0.7M42.8 267.8h0.7M53.7 268.5h0.7M46.5 260.4h0.7M53.0 272.4h0.7M62.8 267.9h0.7M57.3 263.7h0.7M51.5 255.2h0.7M52.5 266.2h0.7M53.5 277.9h0.7M51.5 265.9h0.7M50.6 265.7h0.7M56.7 257.1h0.7M56.0 268.8h0.7M44.6 250.3h0.7M44.9 266.4h0.7M53.0 272.2h0.7M56.1 259.5h0.7M57.3 273.1h0.7M54.3 269.8h0.7M45.6 268.6h0.7M46.9 253.2h0.7M50.3 266.4h0.7M51.7 261.7h0.7M47.0 266.9h0.7M48.3 251.0h0.7M50.0 254.4h0.7M50.5 262.9h0.7M52.7 274.9h0.7M46.5 252.7h0.7M54.2 266.1h0.7M60.9 262.3h0.7M53.5 265.7h0.7M58.5 259.0h0.7M55.4 261.2h0.7M52.5 266.6h0.7M52.1 260.3h0.7M59.8 262.4h0.7M55.1 275.2h0.7M58.9 275.8h0.7M60.6 250.8h0.7M61.8 265.3h0.7M43.3 258.6h0.7M45.0 264.8h0.7M44.6 255.0h0.7M53.5 266.6h0.7" stroke="#fff" stroke-width="0.7" opacity="0.6" fill="none"/>
<path d="M39.90 234.10 Q39.90 231.80 44.62 231.80 L56.42 231.80 Q63.50 231.80 63.50 240.44 Q63.50 251.00 55.24 251.00 L43.44 251.00 Q39.90 251.00 39.90 248.70 Z" fill="#000" stroke="none" stroke-width="0.8"/>
<path d="M40.20 235.55 Q40.20 233.70 44.48 233.70 L55.18 233.70 Q61.60 233.70 61.60 240.63 Q61.60 249.10 54.11 249.10 L43.41 249.10 Q40.20 249.10 40.20 247.25 Z" fill="#fff" stroke="none" stroke-width="0.8"/>
<path d="M40.50 236.23 Q40.50 234.60 44.54 234.60 L54.64 234.60 Q60.70 234.60 60.70 240.72 Q60.70 248.20 53.63 248.20 L43.53 248.20 Q40.50 248.20 40.50 246.57 Z" fill="url(#blobg)" stroke="none" stroke-width="0.8"/>
<ellipse cx="54.70" cy="241.40" rx="1.0" ry="0.8" fill="#eee"/>
<circle cx="55.3" cy="255.00" r="1.7" fill="#fff"/>
</g>
<rect x="39.50" y="218.60" width="63.80" height="60.60" fill="none" stroke="#777" stroke-width="0.7"/>
<clipPath id="cp2"><rect x="39.9" y="280.7" width="63.0" height="59.39999999999999"/></clipPath>
<g clip-path="url(#cp2)">
<ellipse cx="51.5" cy="316.0" rx="7" ry="8" fill="#000" opacity="0.95" filter="url(#bl3)"/>
<ellipse cx="50" cy="330.0" rx="7.5" ry="13" fill="#000" opacity="0.47" filter="url(#bl3)"/>
<rect x="39.5" y="311.0" width="4" height="29.5" fill="#000" opacity="0.19" filter="url(#bl1)"/>
<path d="M47.4 315.4h0.6M50.6 318.8h0.6M51.0 315.6h0.6M48.8 319.5h0.6M49.2 311.9h0.6M49.0 320.3h0.6M56.6 316.0h0.6M49.8 321.9h0.6M52.2 313.9h0.6M48.4 324.9h0.6M51.2 311.8h0.6M51.1 316.7h0.6M53.0 320.5h0.6M46.1 316.5h0.6M45.8 326.3h0.6M50.8 315.3h0.6M42.6 327.5h0.6M44.4 324.2h0.6M50.9 327.3h0.6M48.7 325.9h0.6M55.0 324.7h0.6M57.5 316.1h0.6M57.9 310.3h0.6M51.0 329.3h0.6M54.2 319.0h0.6M47.3 334.6h0.6M57.6 330.6h0.6M48.5 332.2h0.6M47.2 328.1h0.6M53.6 316.6h0.6M44.6 314.9h0.6M40.7 311.8h0.6M42.7 331.4h0.6M53.6 322.1h0.6M54.5 318.7h0.6M53.2 328.6h0.6M51.0 326.5h0.6M57.8 320.9h0.6M51.9 326.2h0.6M57.3 314.5h0.6M50.5 321.8h0.6M51.7 318.8h0.6M49.4 322.7h0.6M55.0 326.4h0.6M57.7 314.8h0.6M49.9 336.6h0.6M51.9 322.5h0.6M49.5 328.7h0.6M50.7 313.1h0.6M54.8 313.8h0.6M51.6 315.6h0.6M52.5 311.1h0.6M49.3 310.2h0.6M53.9 318.4h0.6M53.2 314.4h0.6M49.5 312.1h0.6M52.3 321.9h0.6M55.4 316.8h0.6M51.3 322.0h0.6M59.8 320.0h0.6M58.9 338.6h0.6M46.3 331.3h0.6M56.1 332.8h0.6M51.0 328.5h0.6M48.8 317.2h0.6M51.1 337.6h0.6M50.0 328.5h0.6M51.3 310.2h0.6M52.1 325.3h0.6M47.8 325.0h0.6M52.0 315.4h0.6M51.1 320.7h0.6M48.9 320.1h0.6M44.1 322.3h0.6M52.9 321.1h0.6M48.2 318.9h0.6M51.6 329.8h0.6M52.2 320.8h0.6M47.7 327.5h0.6M56.3 312.6h0.6M53.9 321.4h0.6M52.4 313.9h0.6M56.1 313.4h0.6M51.2 324.7h0.6M53.1 312.3h0.6M54.1 322.3h0.6M55.4 312.4h0.6M50.8 313.7h0.6M47.2 320.8h0.6M52.8 333.6h0.6M49.5 322.3h0.6M56.1 316.7h0.6M51.3 319.5h0.6M56.0 319.9h0.6M51.5 330.9h0.6M56.0 333.7h0.6M58.0 311.9h0.6M53.3 314.0h0.6M51.9 332.7h0.6M52.5 315.4h0.6M51.3 320.9h0.6M48.7 320.3h0.6M53.7 335.1h0.6M45.5 327.6h0.6M61.9 320.1h0.6M51.5 330.5h0.6M40.1 316.0h0.6M48.7 312.7h0.6M52.5 311.6h0.6M56.0 318.0h0.6M49.0 328.1h0.6M47.3 331.6h0.6M55.3 319.5h0.6M55.4 335.6h0.6M57.2 318.0h0.6M50.8 330.1h0.6M44.4 311.4h0.6M53.2 324.2h0.6M59.3 337.2h0.6M52.4 322.8h0.6M45.1 316.0h0.6M52.2 315.5h0.6M51.3 324.6h0.6M46.8 311.8h0.6M43.1 330.5h0.6M54.4 315.7h0.6M55.3 314.0h0.6M60.5 325.8h0.6M51.7 319.3h0.6M50.1 326.8h0.6M59.9 313.4h0.6M46.2 324.5h0.6M53.5 323.5h0.6M53.9 316.3h0.6M59.5 328.8h0.6M48.4 315.0h0.6M49.8 310.1h0.6M51.4 328.5h0.6M44.3 315.5h0.6M57.6 326.1h0.6M56.1 318.8h0.6M49.3 312.5h0.6M58.6 313.0h0.6M51.5 329.6h0.6M54.0 316.0h0.6M41.3 333.2h0.6M53.6 313.3h0.6M53.2 323.6h0.6M51.8 326.4h0.6M53.4 319.3h0.6M47.1 324.4h0.6M56.3 324.8h0.6M56.5 312.9h0.6M46.7 331.5h0.6M48.4 320.6h0.6M50.2 318.2h0.6M49.8 312.2h0.6M43.1 338.6h0.6M53.5 335.7h0.6M49.9 326.0h0.6M48.5 314.1h0.6M56.5 319.3h0.6M51.4 318.5h0.6M54.2 333.0h0.6M54.3 318.2h0.6M50.3 335.3h0.6M51.9 317.8h0.6M58.9 334.9h0.6M53.5 316.8h0.6M48.2 329.5h0.6M49.0 328.3h0.6M47.6 319.1h0.6M52.8 319.6h0.6M52.0 322.1h0.6M50.4 337.4h0.6M48.1 318.4h0.6M56.2 311.9h0.6M53.5 320.0h0.6M50.3 310.2h0.6M56.0 326.2h0.6M53.5 334.1h0.6M51.2 322.8h0.6M52.9 323.5h0.6M49.1 315.4h0.6M48.8 311.9h0.6M50.7 329.5h0.6M43.9 314.3h0.6M58.1 321.4h0.6M51.7 327.0h0.6M52.1 327.1h0.6M49.2 310.7h0.6M52.8 324.6h0.6M48.1 334.1h0.6M56.8 323.2h0.6M52.2 319.9h0.6M48.4 317.5h0.6M48.1 319.7h0.6M54.9 326.9h0.6M46.8 316.6h0.6M51.3 312.9h0.6M55.0 322.6h0.6M47.6 318.9h0.6M49.4 311.2h0.6M48.9 329.4h0.6M47.6 326.6h0.6M49.4 314.5h0.6M44.8 322.3h0.6M50.8 321.0h0.6M60.8 315.2h0.6M54.5 326.9h0.6M48.2 311.7h0.6M57.8 325.7h0.6M54.9 323.6h0.6M60.6 333.8h0.6M54.5 320.9h0.6M51.3 312.1h0.6M52.4 320.6h0.6M53.9 329.6h0.6M52.4 312.2h0.6M54.5 334.6h0.6M47.3 322.5h0.6M53.4 323.7h0.6M53.2 317.0h0.6M50.6 336.0h0.6M48.1 312.5h0.6M44.0 321.8h0.6M50.8 312.2h0.6M57.5 330.6h0.6M49.2 325.0h0.6M50.8 330.4h0.6M53.5 317.6h0.6M53.4 310.3h0.6M54.5 334.1h0.6M49.4 323.9h0.6M43.7 328.0h0.6M58.6 319.2h0.6M54.8 315.1h0.6M50.6 328.4h0.6M48.0 325.3h0.6M49.4 321.7h0.6M45.6 326.3h0.6M52.3 310.2h0.6M52.3 313.0h0.6M47.0 315.6h0.6M52.8 313.8h0.6M57.9 311.1h0.6M59.7 324.6h0.6M46.3 314.4h0.6M46.8 334.3h0.6M51.9 327.8h0.6M51.0 323.1h0.6M50.5 320.2h0.6M51.9 310.4h0.6M52.5 319.8h0.6M50.8 310.7h0.6M46.6 320.6h0.6M48.7 332.5h0.6M55.0 310.4h0.6M47.5 338.7h0.6M49.1 315.7h0.6M45.9 316.5h0.6M43.0 329.4h0.6M49.4 311.5h0.6M48.2 326.0h0.6M57.7 313.6h0.6M58.1 335.2h0.6M56.9 321.2h0.6M44.5 325.2h0.6M49.2 320.1h0.6M42.8 315.0h0.6M52.3 335.9h0.6M52.0 310.7h0.6M47.0 322.4h0.6M52.1 326.9h0.6M47.5 333.7h0.6M53.2 330.8h0.6M44.3 318.0h0.6M58.0 339.6h0.6M56.8 318.0h0.6M51.8 311.3h0.6M55.8 310.6h0.6M44.4 337.1h0.6M51.3 320.3h0.6M41.4 317.6h0.6M40.6 316.3h0.6M48.7 315.7h0.6M45.6 324.9h0.6M50.8 326.8h0.6M46.3 324.3h0.6M49.1 319.0h0.6M55.1 318.4h0.6M51.3 326.4h0.6M48.2 317.3h0.6M52.8 331.9h0.6M49.8 338.8h0.6M52.3 316.4h0.6M55.6 313.9h0.6M52.5 320.2h0.6M54.1 327.5h0.6M47.0 334.1h0.6M51.1 325.3h0.6M53.4 327.6h0.6M48.2 311.7h0.6M52.7 324.6h0.6M53.5 321.7h0.6M48.9 329.9h0.6M53.1 329.5h0.6M40.2 320.3h0.6M48.1 319.3h0.6M48.9 314.6h0.6M51.9 321.8h0.6M47.5 323.9h0.6M47.3 322.6h0.6M56.2 336.0h0.6M50.5 317.5h0.6M47.1 330.3h0.6M55.0 312.6h0.6M47.5 321.8h0.6M44.7 312.6h0.6M53.6 326.3h0.6M46.7 314.6h0.6M51.9 323.0h0.6M54.9 319.6h0.6M45.8 319.6h0.6M44.8 335.7h0.6M47.7 329.0h0.6M56.8 311.3h0.6M47.0 319.4h0.6M46.3 327.8h0.6M47.9 325.9h0.6M44.5 336.4h0.6M47.5 315.9h0.6M46.9 335.7h0.6M54.7 332.2h0.6M53.9 319.0h0.6M58.6 325.3h0.6M53.0 324.3h0.6M54.3 321.0h0.6M41.4 310.2h0.6M59.7 331.4h0.6M48.3 320.9h0.6M49.5 321.2h0.6M52.5 318.9h0.6M51.7 319.6h0.6M53.0 322.2h0.6M53.6 331.7h0.6M46.9 322.4h0.6M50.9 326.0h0.6M50.2 311.4h0.6M52.1 323.7h0.6M46.6 332.5h0.6M56.2 322.9h0.6M50.5 315.4h0.6M43.6 325.2h0.6M46.6 312.5h0.6M48.7 327.4h0.6M59.4 310.4h0.6M56.0 310.8h0.6M52.7 323.3h0.6M45.9 329.3h0.6M59.1 318.6h0.6M59.0 318.7h0.6M45.3 326.4h0.6M44.4 310.5h0.6M41.4 333.1h0.6M60.9 311.0h0.6M48.1 311.6h0.6M48.5 324.1h0.6M57.9 317.0h0.6M47.8 334.8h0.6M50.5 333.1h0.6M55.8 336.2h0.6M47.4 318.6h0.6M52.7 315.9h0.6M57.9 310.1h0.6M55.5 333.0h0.6M46.9 312.0h0.6M52.8 316.1h0.6M51.4 312.9h0.6M50.6 323.3h0.6M55.3 325.4h0.6M50.4 310.5h0.6M48.9 310.7h0.6M44.1 336.0h0.6M45.7 324.4h0.6M42.4 324.0h0.6M42.0 333.7h0.6M48.8 318.9h0.6M51.0 311.8h0.6M50.4 314.7h0.6M56.6 317.0h0.6M50.9 312.2h0.6M51.0 338.2h0.6M56.0 320.6h0.6M58.5 329.2h0.6M51.9 316.2h0.6M46.1 320.7h0.6M45.2 339.3h0.6M52.0 323.5h0.6M51.9 312.9h0.6M53.1 329.9h0.6M49.6 323.6h0.6M55.6 312.7h0.6M53.7 313.9h0.6M58.6 314.6h0.6M59.1 332.1h0.6M50.9 310.0h0.6M42.8 322.7h0.6M60.9 312.1h0.6M54.6 332.1h0.6M46.7 314.3h0.6M52.2 323.2h0.6M45.8 320.4h0.6M50.5 328.5h0.6M43.8 311.8h0.6M48.7 314.5h0.6M54.3 311.1h0.6M63.3 310.2h0.6M54.8 329.2h0.6M55.3 315.8h0.6M47.3 315.2h0.6M54.0 319.3h0.6M53.6 324.3h0.6M57.5 312.7h0.6M43.9 338.5h0.6M47.1 329.5h0.6M51.6 318.6h0.6M48.1 315.6h0.6M48.7 317.7h0.6M57.8 317.2h0.6M50.9 317.4h0.6M55.5 321.5h0.6M54.8 316.2h0.6M50.5 317.4h0.6M42.6 330.0h0.6M54.0 318.6h0.6M54.7 336.8h0.6M59.4 333.2h0.6M47.0 317.1h0.6M55.5 315.7h0.6M50.5 314.1h0.6M56.7 329.7h0.6M50.7 324.2h0.6M46.6 330.2h0.6M57.3 317.4h0.6M49.5 312.6h0.6M44.9 336.3h0.6M50.9 324.1h0.6M52.4 323.2h0.6M53.8 329.0h0.6M45.8 311.6h0.6M46.2 325.2h0.6M52.5 318.4h0.6M48.1 321.8h0.6M52.5 310.7h0.6M55.3 324.9h0.6M47.9 324.5h0.6M51.3 310.2h0.6M45.9 321.8h0.6M56.4 311.1h0.6M51.7 321.8h0.6M54.5 322.9h0.6M56.5 326.4h0.6M47.6 322.4h0.6M40.5 316.0h0.6M51.1 324.4h0.6M49.6 327.2h0.6M48.6 320.9h0.6M53.2 319.6h0.6M54.5 330.8h0.6M56.0 322.7h0.6M49.9 322.4h0.6M48.3 317.6h0.6M50.0 313.9h0.6M51.3 317.5h0.6M51.8 328.9h0.6M51.6 322.5h0.6M49.2 325.5h0.6M49.5 311.1h0.6M45.4 327.8h0.6M48.6 320.7h0.6M56.1 323.9h0.6M61.1 316.5h0.6M55.3 325.6h0.6M48.1 318.5h0.6M48.6 319.0h0.6M48.7 318.6h0.6M57.8 322.9h0.6M51.7 312.9h0.6M50.3 321.3h0.6M47.0 331.8h0.6M46.2 330.9h0.6M50.6 318.4h0.6M57.1 327.6h0.6M56.1 336.5h0.6M50.5 312.7h0.6M46.1 329.2h0.6M52.3 318.1h0.6M45.4 335.8h0.6M54.9 317.8h0.6M57.3 315.0h0.6M56.5 313.4h0.6M52.8 330.6h0.6M46.9 319.1h0.6M47.2 327.4h0.6M48.3 313.9h0.6M50.1 330.8h0.6M46.3 317.7h0.6M49.5 312.0h0.6M47.5 316.2h0.6M46.6 317.3h0.6M49.9 328.8h0.6M43.8 319.9h0.6M52.1 329.7h0.6M48.6 325.3h0.6M46.2 332.2h0.6M50.7 310.5h0.6M51.8 337.2h0.6M50.8 321.9h0.6M50.3 320.2h0.6M56.3 314.8h0.6M52.1 310.5h0.6M49.9 322.5h0.6M46.7 318.8h0.6M50.4 330.6h0.6M46.6 322.3h0.6M52.1 323.9h0.6M53.4 310.1h0.6M48.4 321.2h0.6M58.1 334.2h0.6M46.8 322.1h0.6M48.1 313.2h0.6M55.4 319.4h0.6M50.5 319.1h0.6M45.7 331.4h0.6M47.6 332.4h0.6M48.9 313.0h0.6M57.7 320.1h0.6M48.1 312.1h0.6M53.7 338.6h0.6M53.8 313.7h0.6M46.0 310.6h0.6M50.5 320.7h0.6M48.1 332.1h0.6M46.7 310.1h0.6M53.2 323.3h0.6M49.2 328.6h0.6M44.7 336.0h0.6M60.8 339.5h0.6M51.5 339.6h0.6" stroke="#000" stroke-width="0.6" opacity="0.8" fill="none"/>
<path d="M47.8 329.3h0.6M54.5 330.9h0.6M43.3 323.4h0.6M49.9 321.6h0.6M54.6 334.2h0.6M49.1 327.8h0.6M51.2 329.9h0.6M44.7 336.4h0.6M44.0 326.5h0.6M46.9 313.2h0.6M52.6 326.2h0.6M42.0 326.1h0.6M45.6 335.5h0.6M43.2 316.8h0.6M48.5 331.9h0.6M54.5 323.8h0.6M55.6 338.6h0.6M43.8 324.9h0.6M45.7 337.6h0.6M54.5 324.0h0.6M46.1 331.1h0.6M44.4 311.9h0.6M43.2 331.1h0.6M53.2 328.5h0.6M57.8 322.5h0.6M45.8 314.4h0.6M45.1 328.4h0.6M47.4 318.3h0.6M47.0 321.9h0.6M46.2 322.2h0.6M43.8 326.4h0.6M45.9 325.0h0.6M40.7 328.7h0.6M52.4 334.7h0.6M45.7 313.4h0.6M41.2 313.0h0.6M45.2 323.3h0.6M44.7 336.9h0.6M60.0 322.8h0.6M47.4 322.3h0.6M47.8 325.0h0.6M63.7 314.1h0.6M48.4 317.6h0.6M51.1 320.8h0.6M52.4 314.2h0.6M61.6 329.5h0.6M46.2 313.3h0.6M51.6 320.9h0.6M53.4 320.5h0.6M54.4 328.8h0.6M51.1 328.9h0.6M46.8 322.7h0.6M51.7 335.4h0.6M59.0 313.4h0.6M55.4 326.2h0.6M50.4 317.7h0.6M58.8 317.2h0.6M48.5 318.4h0.6M41.2 321.7h0.6M51.2 321.9h0.6M46.9 314.3h0.6M50.5 314.1h0.6M51.2 319.1h0.6M47.0 315.7h0.6M49.7 335.3h0.6M54.5 323.7h0.6M41.9 326.1h0.6M58.9 330.3h0.6M46.4 333.4h0.6M45.7 316.7h0.6M45.6 325.9h0.6M54.9 320.4h0.6M53.0 332.4h0.6M44.5 316.6h0.6M43.4 338.0h0.6M50.3 339.6h0.6M59.7 327.3h0.6M41.3 321.8h0.6M46.8 322.6h0.6M49.8 317.2h0.6M55.9 311.0h0.6M40.7 334.0h0.6M52.7 324.7h0.6M54.0 334.3h0.6M45.6 326.6h0.6M46.4 331.4h0.6M51.5 339.7h0.6M42.7 324.0h0.6M62.8 329.9h0.6M49.5 330.2h0.6M49.9 311.5h0.6M44.9 325.0h0.6M50.0 316.9h0.6M48.4 318.5h0.6M41.2 319.3h0.6M44.3 336.9h0.6M56.9 333.9h0.6M47.8 320.5h0.6M50.3 324.2h0.6M49.0 332.0h0.6M49.0 332.1h0.6M44.5 327.6h0.6M46.9 339.7h0.6M48.5 321.2h0.6M49.1 328.5h0.6M47.6 332.0h0.6M53.1 326.8h0.6M58.8 331.6h0.6M44.9 333.5h0.6M62.1 339.9h0.6M42.6 326.0h0.6M52.3 315.1h0.6M51.7 338.0h0.6M53.8 319.2h0.6M44.9 314.0h0.6M41.4 330.8h0.6M50.6 323.3h0.6M50.0 326.7h0.6M43.1 314.8h0.6M52.7 315.7h0.6M52.4 334.4h0.6M44.1 312.4h0.6M55.4 328.8h0.6M47.4 332.4h0.6M46.6 318.3h0.6M50.3 317.1h0.6M56.3 339.9h0.6M61.8 338.7h0.6M58.5 330.0h0.6M46.4 332.5h0.6M43.4 335.7h0.6M46.4 330.1h0.6M44.0 325.6h0.6M54.8 324.6h0.6M45.0 330.4h0.6M54.2 324.9h0.6M41.1 339.5h0.6M48.5 332.7h0.6M55.3 330.4h0.6M51.8 321.2h0.6M48.4 333.8h0.6M42.7 325.5h0.6M60.9 317.3h0.6M47.6 328.6h0.6M48.5 322.8h0.6M51.6 324.4h0.6M54.8 328.4h0.6M53.8 336.7h0.6M52.4 327.7h0.6M49.4 331.9h0.6M52.3 331.3h0.6M45.8 326.3h0.6M51.7 315.8h0.6M48.9 335.9h0.6M50.0 323.9h0.6M48.9 321.6h0.6M54.8 322.8h0.6M50.8 329.6h0.6M46.2 312.0h0.6M48.1 317.5h0.6M45.1 327.2h0.6M44.5 330.8h0.6M44.7 321.8h0.6M58.3 338.0h0.6M44.7 327.2h0.6M54.4 336.5h0.6M44.7 335.8h0.6M52.7 321.0h0.6M61.6 324.0h0.6M63.3 325.2h0.6M45.9 321.8h0.6M57.7 326.7h0.6M51.8 312.7h0.6M59.5 338.5h0.6M51.1 335.3h0.6M46.1 321.7h0.6M56.3 337.0h0.6M54.4 335.3h0.6M43.6 312.2h0.6M52.8 329.1h0.6M54.8 324.0h0.6M43.8 332.3h0.6M45.4 317.1h0.6M42.5 320.9h0.6M59.1 322.4h0.6M55.7 326.4h0.6M51.4 319.5h0.6M59.5 318.4h0.6M52.4 320.5h0.6M50.6 313.7h0.6M46.8 337.6h0.6M54.0 312.2h0.6M50.7 333.1h0.6M45.2 323.6h0.6M47.6 331.8h0.6M47.5 336.0h0.6M48.3 328.1h0.6M43.6 331.6h0.6M60.9 328.9h0.6M48.9 327.2h0.6M53.2 324.9h0.6M49.0 329.7h0.6M56.7 338.1h0.6M42.8 320.0h0.6M49.1 336.9h0.6M54.7 324.8h0.6M61.5 325.3h0.6M58.4 329.5h0.6M53.2 339.3h0.6M48.4 339.1h0.6M43.4 315.3h0.6M58.7 316.7h0.6M44.1 322.7h0.6M54.2 321.9h0.6M53.3 333.5h0.6M43.6 313.0h0.6M58.6 319.0h0.6M42.7 331.5h0.6M49.3 316.5h0.6M55.4 337.6h0.6M50.6 318.6h0.6M51.3 331.7h0.6M43.6 327.5h0.6M46.5 321.5h0.6M52.7 325.7h0.6M54.8 333.1h0.6M55.8 328.5h0.6M50.5 311.3h0.6M49.4 337.2h0.6M43.0 327.6h0.6M44.7 315.7h0.6M53.0 326.8h0.6M48.5 328.6h0.6M50.7 329.3h0.6M53.1 313.4h0.6M48.2 326.1h0.6M45.5 333.2h0.6M47.4 324.0h0.6M43.4 323.9h0.6M42.9 327.6h0.6M56.8 338.7h0.6M51.5 311.6h0.6M55.1 337.8h0.6M49.1 323.3h0.6M55.4 314.7h0.6M45.4 333.9h0.6M49.6 310.4h0.6M56.0 320.2h0.6M55.6 319.0h0.6M50.5 326.9h0.6M41.6 330.8h0.6M44.1 317.4h0.6M44.1 315.9h0.6M54.3 327.9h0.6M50.5 324.0h0.6M49.4 324.1h0.6M49.4 338.7h0.6M40.9 324.1h0.6M59.0 321.1h0.6M53.3 324.3h0.6M43.1 325.8h0.6M53.7 328.1h0.6M43.0 336.1h0.6M51.0 325.1h0.6M47.3 333.1h0.6M52.4 334.6h0.6M46.6 311.9h0.6M45.7 326.7h0.6M50.6 319.0h0.6M61.1 327.2h0.6M50.3 322.2h0.6M41.4 310.1h0.6M54.3 326.0h0.6M44.6 323.1h0.6M52.4 321.3h0.6M46.1 310.0h0.6M49.5 316.8h0.6M53.0 332.6h0.6M49.9 313.7h0.6M50.4 320.5h0.6M53.4 333.9h0.6M51.6 322.1h0.6M58.0 335.9h0.6M56.5 336.7h0.6M52.9 331.5h0.6M43.5 334.1h0.6M54.4 329.1h0.6M53.1 335.5h0.6M47.7 336.4h0.6M48.7 318.7h0.6M46.8 335.7h0.6M54.6 314.1h0.6M43.2 328.4h0.6M61.5 313.6h0.6M41.6 331.8h0.6M52.0 320.0h0.6M48.8 332.6h0.6M52.5 337.6h0.6M55.9 326.2h0.6M53.5 319.7h0.6" stroke="#000" stroke-width="0.6" opacity="0.55" fill="none"/>
<path d="M64.1 328.0h0.5M58.2 312.5h0.5M56.7 318.3h0.5M55.8 322.4h0.5M64.1 314.4h0.5M62.1 317.9h0.5M65.0 312.9h0.5M62.9 312.3h0.5M60.9 318.9h0.5M54.7 331.0h0.5M61.5 333.6h0.5M56.0 320.8h0.5M62.4 334.2h0.5M59.8 315.1h0.5M62.8 318.1h0.5" stroke="#333" stroke-width="0.5" opacity="0.4" fill="none"/>
<path d="M48.3 332.3h0.7M42.7 315.3h0.7M58.7 320.2h0.7M50.4 328.6h0.7M57.5 330.1h0.7M47.3 319.6h0.7M57.1 323.9h0.7M48.9 333.4h0.7M46.7 318.2h0.7M48.6 328.4h0.7M49.7 335.7h0.7M48.9 322.4h0.7M54.8 326.9h0.7M47.1 339.4h0.7M54.8 320.3h0.7M53.0 314.4h0.7M46.0 322.1h0.7M53.8 326.0h0.7M48.2 311.7h0.7M53.8 317.3h0.7M57.8 330.2h0.7M50.0 319.1h0.7M57.6 328.1h0.7M60.0 328.5h0.7M49.1 319.3h0.7M48.6 327.4h0.7M53.2 330.8h0.7M54.2 314.9h0.7M51.0 316.0h0.7M54.4 312.4h0.7M49.2 316.8h0.7M49.0 322.5h0.7M59.4 322.5h0.7M45.0 322.1h0.7M55.6 330.3h0.7M57.4 325.9h0.7M57.9 312.2h0.7M51.2 316.7h0.7M47.0 338.7h0.7M43.8 316.9h0.7M56.9 324.1h0.7M52.7 324.9h0.7M52.9 323.3h0.7M47.2 322.2h0.7M52.5 316.4h0.7M44.0 319.8h0.7M50.6 325.2h0.7M52.5 318.0h0.7M51.8 325.1h0.7M51.6 339.8h0.7M52.6 310.8h0.7M44.4 330.7h0.7M50.3 319.1h0.7M45.4 322.0h0.7M51.6 318.4h0.7M50.3 333.5h0.7M55.8 330.2h0.7M51.2 312.0h0.7M55.8 339.4h0.7M58.2 336.2h0.7M53.3 328.6h0.7M51.9 337.0h0.7M55.8 321.9h0.7M48.4 322.1h0.7M63.9 317.2h0.7M56.5 325.7h0.7M50.6 331.0h0.7M42.3 334.1h0.7M61.4 327.8h0.7M51.7 326.5h0.7M55.2 320.3h0.7M52.6 329.8h0.7M50.3 328.7h0.7M53.6 331.9h0.7M47.2 319.9h0.7M49.9 336.5h0.7M53.6 312.6h0.7M47.6 326.4h0.7M50.2 322.1h0.7M61.3 315.6h0.7M59.6 328.3h0.7M52.5 337.4h0.7M54.3 317.0h0.7M44.6 325.2h0.7M54.5 338.1h0.7M55.0 339.6h0.7M55.9 327.0h0.7M54.1 328.8h0.7M49.0 323.9h0.7M52.6 320.7h0.7M44.9 311.1h0.7M54.5 330.0h0.7M52.5 313.8h0.7M56.1 321.2h0.7M54.6 320.8h0.7M40.6 318.2h0.7M59.2 338.1h0.7M50.2 322.3h0.7M54.2 323.8h0.7M48.9 338.9h0.7" stroke="#fff" stroke-width="0.7" opacity="0.6" fill="none"/>
<defs><linearGradient id="tailg" x1="0" x2="1" y1="0" y2="0"><stop offset="0" stop-color="#000" stop-opacity="0.45"/><stop offset="0.5" stop-color="#000" stop-opacity="0.2"/><stop offset="1" stop-color="#000" stop-opacity="0"/></linearGradient></defs>
<ellipse cx="78" cy="302.5" rx="17" ry="4.8" fill="url(#tailg)" filter="url(#bl1)"/>
<path d="M90.2 304.4h0.6M66.4 306.1h0.6M80.3 303.0h0.6M85.7 305.3h0.6M65.8 299.7h0.6M91.5 301.3h0.6M73.6 302.2h0.6M65.9 297.9h0.6M68.7 302.2h0.6M78.6 301.0h0.6M69.7 303.2h0.6M76.3 301.4h0.6M74.7 302.9h0.6M84.8 302.3h0.6M71.3 304.1h0.6M80.7 299.8h0.6M65.9 301.7h0.6M79.4 302.6h0.6M87.7 307.0h0.6M77.9 298.4h0.6M83.4 303.7h0.6M76.6 305.3h0.6M71.5 301.0h0.6M76.7 300.3h0.6M69.3 304.7h0.6M76.3 302.4h0.6M78.0 302.8h0.6M68.2 303.9h0.6M67.9 302.9h0.6M79.1 300.9h0.6M80.1 299.3h0.6M68.1 297.5h0.6M65.4 307.1h0.6M73.1 306.2h0.6M74.1 304.9h0.6M77.3 297.7h0.6M74.5 302.3h0.6M71.1 303.9h0.6M67.6 297.6h0.6M81.4 300.4h0.6M63.3 299.2h0.6M65.8 301.8h0.6M61.6 303.9h0.6M64.2 304.8h0.6M62.2 303.8h0.6M73.9 302.3h0.6M84.3 303.0h0.6M62.2 304.5h0.6M62.8 300.9h0.6M70.1 303.0h0.6M84.9 297.4h0.6M67.7 305.8h0.6M68.6 303.4h0.6M83.4 298.9h0.6M70.4 304.8h0.6M64.9 297.4h0.6M71.7 307.8h0.6M81.6 298.0h0.6M79.1 305.2h0.6M84.2 302.1h0.6M65.1 302.9h0.6M83.6 304.3h0.6M84.9 304.8h0.6M64.8 299.6h0.6M86.2 298.1h0.6M66.9 301.6h0.6M62.0 300.8h0.6M70.1 309.4h0.6M69.4 301.0h0.6M71.1 305.2h0.6M62.8 301.3h0.6M76.0 306.9h0.6M77.7 301.7h0.6M66.6 301.6h0.6M64.7 300.4h0.6M74.5 302.8h0.6M64.9 301.8h0.6M65.7 306.4h0.6M78.8 300.4h0.6M69.6 306.5h0.6M67.5 307.7h0.6M73.9 304.4h0.6M73.0 304.2h0.6M74.2 304.0h0.6M65.5 305.1h0.6M70.6 299.5h0.6M72.9 296.1h0.6M64.7 304.1h0.6M82.4 307.2h0.6M71.5 304.3h0.6M63.0 306.4h0.6M69.4 302.4h0.6M67.7 299.4h0.6M76.3 303.5h0.6M74.0 307.9h0.6M62.4 301.7h0.6M70.1 305.0h0.6M68.4 305.2h0.6M74.0 297.4h0.6M64.0 296.6h0.6M67.5 301.3h0.6M75.2 303.0h0.6M69.4 306.2h0.6M75.2 298.9h0.6M63.9 303.5h0.6M85.0 301.9h0.6M68.5 303.3h0.6M76.9 302.2h0.6M72.6 301.3h0.6M65.2 300.2h0.6M75.8 300.9h0.6M74.8 303.7h0.6M78.6 294.7h0.6M61.5 298.9h0.6M68.6 304.8h0.6M92.3 307.0h0.6M81.9 303.6h0.6M66.6 304.1h0.6M70.1 304.3h0.6M64.3 302.4h0.6M73.1 301.5h0.6M73.1 304.5h0.6M78.0 300.4h0.6M86.4 304.0h0.6M77.8 302.8h0.6M77.6 305.7h0.6M70.9 301.0h0.6M65.2 308.1h0.6M68.4 301.2h0.6M63.8 297.6h0.6M65.6 303.4h0.6M65.7 300.3h0.6M73.6 303.8h0.6M66.2 303.4h0.6M71.2 301.3h0.6M83.3 297.4h0.6M71.1 298.8h0.6M72.7 298.7h0.6M75.1 304.1h0.6M85.0 306.0h0.6" stroke="#000" stroke-width="0.6" opacity="0.35" fill="none"/>
<path d="M39.90 294.28 Q39.90 292.00 44.62 292.00 L56.42 292.00 Q63.50 292.00 63.50 300.55 Q63.50 311.00 55.24 311.00 L43.44 311.00 Q39.90 311.00 39.90 308.72 Z" fill="#000" stroke="none" stroke-width="0.8"/>
<path d="M40.20 295.72 Q40.20 293.90 44.48 293.90 L55.18 293.90 Q61.60 293.90 61.60 300.74 Q61.60 309.10 54.11 309.10 L43.41 309.10 Q40.20 309.10 40.20 307.28 Z" fill="#fff" stroke="none" stroke-width="0.8"/>
<path d="M40.50 296.41 Q40.50 294.80 44.54 294.80 L54.64 294.80 Q60.70 294.80 60.70 300.83 Q60.70 308.20 53.63 308.20 L43.53 308.20 Q40.50 308.20 40.50 306.59 Z" fill="url(#blobg)" stroke="none" stroke-width="0.8"/>
<ellipse cx="54.70" cy="301.50" rx="1.0" ry="0.8" fill="#eee"/>
<circle cx="55.3" cy="316.80" r="2.3" fill="#fff"/>
</g>
<rect x="39.50" y="280.30" width="63.80" height="60.20" fill="none" stroke="#777" stroke-width="0.7"/>
<rect x="63.60" y="290.60" width="39.70" height="20.20" fill="none" stroke="#888" stroke-width="0.6"/>
<clipPath id="cp3"><rect x="39.9" y="341.9" width="63.0" height="60.09999999999998"/></clipPath>
<g clip-path="url(#cp3)">
<ellipse cx="51.5" cy="377.5" rx="7" ry="8" fill="#000" opacity="0.95" filter="url(#bl3)"/>
<ellipse cx="50" cy="391.5" rx="7.5" ry="13" fill="#000" opacity="0.47" filter="url(#bl3)"/>
<rect x="39.5" y="372.5" width="4" height="29.899999999999977" fill="#000" opacity="0.19" filter="url(#bl1)"/>
<path d="M49.0 389.6h0.6M49.0 378.3h0.6M50.0 385.1h0.6M48.1 386.8h0.6M55.8 396.6h0.6M43.0 384.4h0.6M48.9 387.7h0.6M43.6 378.0h0.6M54.1 372.6h0.6M47.0 375.9h0.6M53.6 383.2h0.6M52.2 378.8h0.6M45.7 374.9h0.6M46.1 387.0h0.6M59.5 392.7h0.6M53.0 383.1h0.6M52.3 378.0h0.6M54.3 380.0h0.6M51.5 373.3h0.6M43.4 375.8h0.6M54.1 390.7h0.6M46.9 387.0h0.6M48.6 396.3h0.6M43.0 381.1h0.6M44.9 396.7h0.6M43.5 371.9h0.6M60.6 380.6h0.6M52.5 374.4h0.6M47.3 394.3h0.6M57.5 378.9h0.6M53.2 381.1h0.6M56.2 386.1h0.6M49.5 387.2h0.6M49.3 380.9h0.6M46.4 375.2h0.6M48.8 393.5h0.6M58.0 374.7h0.6M51.8 375.6h0.6M54.0 386.6h0.6M54.3 387.7h0.6M59.5 377.7h0.6M54.1 377.5h0.6M51.2 381.9h0.6M50.8 383.2h0.6M47.3 377.9h0.6M47.9 374.2h0.6M47.4 381.5h0.6M55.9 382.6h0.6M48.8 374.8h0.6M48.2 380.0h0.6M50.0 397.3h0.6M53.2 379.0h0.6M55.2 379.9h0.6M47.5 391.5h0.6M57.6 393.2h0.6M45.8 400.0h0.6M49.2 387.7h0.6M56.2 384.8h0.6M52.9 377.5h0.6M51.0 382.0h0.6M54.3 376.6h0.6M47.0 375.6h0.6M59.7 372.1h0.6M50.6 399.9h0.6M55.6 380.8h0.6M54.2 376.6h0.6M47.0 390.3h0.6M51.6 396.7h0.6M49.8 375.5h0.6M52.5 377.5h0.6M52.1 383.0h0.6M59.1 379.2h0.6M43.3 384.5h0.6M61.1 374.8h0.6M47.5 377.7h0.6M42.8 371.8h0.6M53.8 400.2h0.6M56.5 381.6h0.6M48.7 376.7h0.6M55.3 373.9h0.6M52.8 389.9h0.6M47.0 373.2h0.6M53.0 379.6h0.6M50.5 373.8h0.6M50.7 399.5h0.6M51.2 380.5h0.6M50.4 381.1h0.6M48.0 382.9h0.6M51.4 383.7h0.6M50.3 374.6h0.6M51.8 391.2h0.6M55.0 378.6h0.6M48.9 390.9h0.6M53.4 389.0h0.6M51.8 372.8h0.6M56.1 388.7h0.6M41.4 386.7h0.6M56.9 390.7h0.6M55.3 390.4h0.6M44.3 382.4h0.6M47.4 372.2h0.6M53.0 390.8h0.6M41.9 372.3h0.6M56.7 379.0h0.6M49.5 386.4h0.6M51.1 396.3h0.6M55.5 379.4h0.6M55.5 375.1h0.6M52.2 389.2h0.6M52.6 379.1h0.6M49.2 391.2h0.6M57.1 372.5h0.6M52.7 379.5h0.6M55.7 382.2h0.6M56.4 381.8h0.6M49.0 374.0h0.6M55.1 376.9h0.6M50.4 398.6h0.6M54.4 379.7h0.6M47.0 400.0h0.6M49.8 379.5h0.6M49.1 393.9h0.6M51.8 374.6h0.6M46.3 377.8h0.6M51.8 381.8h0.6M48.3 372.5h0.6M50.1 379.1h0.6M48.8 388.1h0.6M62.3 392.0h0.6M55.7 379.8h0.6M56.5 390.9h0.6M51.6 374.1h0.6M53.0 379.9h0.6M47.7 378.7h0.6M52.4 375.1h0.6M50.9 380.1h0.6M55.6 378.3h0.6M52.8 378.5h0.6M51.0 371.6h0.6M49.1 388.5h0.6M52.6 379.2h0.6M48.8 381.8h0.6M56.3 379.3h0.6M44.6 388.9h0.6M47.8 399.4h0.6M46.1 387.3h0.6M52.8 381.8h0.6M50.1 384.7h0.6M57.8 384.8h0.6M53.0 396.4h0.6M51.8 393.5h0.6M48.2 384.8h0.6M56.4 397.2h0.6M52.7 387.1h0.6M49.4 379.3h0.6M49.2 392.5h0.6M41.2 382.3h0.6M45.3 372.2h0.6M50.9 379.8h0.6M58.9 377.1h0.6M52.5 383.3h0.6M52.1 395.4h0.6M51.6 381.1h0.6M50.5 379.5h0.6M50.8 390.3h0.6M51.1 380.2h0.6M50.8 387.7h0.6M48.9 389.7h0.6M48.5 387.0h0.6M59.5 382.0h0.6M54.3 379.6h0.6M55.0 372.4h0.6M53.3 399.1h0.6M52.8 376.0h0.6M45.2 379.4h0.6M53.9 386.0h0.6M49.8 382.4h0.6M59.5 381.6h0.6M57.8 388.2h0.6M53.0 388.4h0.6M53.7 400.3h0.6M43.2 397.0h0.6M50.6 393.8h0.6M49.5 372.4h0.6M49.5 382.9h0.6M51.8 372.8h0.6M53.4 386.2h0.6M42.3 376.2h0.6M51.0 372.0h0.6M48.3 378.1h0.6M51.1 385.7h0.6M54.7 384.3h0.6M53.7 383.6h0.6M46.4 372.1h0.6M53.0 380.3h0.6M45.4 373.5h0.6M57.8 388.7h0.6M51.4 394.1h0.6M47.0 377.6h0.6M55.3 375.8h0.6M46.0 385.9h0.6M62.6 372.1h0.6M51.2 371.8h0.6M46.6 374.6h0.6M51.9 398.6h0.6M52.3 396.5h0.6M46.3 380.3h0.6M55.6 375.1h0.6M50.4 381.5h0.6M45.5 382.0h0.6M50.2 384.3h0.6M49.3 379.9h0.6M53.3 390.0h0.6M47.9 390.1h0.6M46.6 377.4h0.6M51.6 381.1h0.6M50.2 389.5h0.6M47.9 395.9h0.6M43.0 380.3h0.6M53.4 379.7h0.6M52.2 389.7h0.6M47.4 385.9h0.6M55.7 377.0h0.6M62.0 385.7h0.6M45.2 376.4h0.6M57.8 386.9h0.6M46.5 390.8h0.6M48.5 386.0h0.6M53.5 374.7h0.6M50.3 392.1h0.6M53.2 378.8h0.6M53.0 398.5h0.6M55.1 384.7h0.6M51.6 374.2h0.6M54.3 372.9h0.6M55.0 371.6h0.6M50.9 385.8h0.6M49.6 379.6h0.6M55.7 398.7h0.6M54.0 389.7h0.6M48.9 380.5h0.6M56.8 375.3h0.6M59.7 386.4h0.6M52.7 386.5h0.6M54.5 389.5h0.6M46.7 373.4h0.6M48.6 380.6h0.6M47.9 398.9h0.6M52.7 379.1h0.6M47.2 387.2h0.6M50.7 397.6h0.6M53.0 376.1h0.6M54.8 371.8h0.6M54.9 386.9h0.6M43.1 377.4h0.6M52.4 387.7h0.6M51.7 379.3h0.6M49.5 376.3h0.6M53.9 376.0h0.6M53.3 374.0h0.6M52.8 380.9h0.6M55.0 384.5h0.6M55.1 377.7h0.6M50.8 376.7h0.6M45.4 378.1h0.6M55.8 387.9h0.6M47.2 382.8h0.6M52.6 383.1h0.6M54.3 382.3h0.6M59.8 375.2h0.6M56.7 393.2h0.6M57.1 379.1h0.6M53.3 384.7h0.6M55.2 390.5h0.6M51.6 379.6h0.6M54.5 378.0h0.6M50.2 401.5h0.6M57.1 392.1h0.6M50.6 378.7h0.6M53.4 384.6h0.6M50.0 375.8h0.6M53.7 384.7h0.6M43.8 401.7h0.6M48.1 375.5h0.6M47.7 388.1h0.6M49.2 374.2h0.6M47.6 374.7h0.6M44.0 382.4h0.6M56.3 381.2h0.6M48.6 393.2h0.6M48.5 372.9h0.6M50.8 392.6h0.6M47.9 377.9h0.6M48.9 386.1h0.6M54.1 376.4h0.6M56.7 386.2h0.6M59.8 382.9h0.6M44.6 385.5h0.6M53.3 388.4h0.6M49.2 376.9h0.6M51.7 387.8h0.6M57.3 382.6h0.6M45.7 382.1h0.6M50.0 391.6h0.6M55.8 374.6h0.6M55.2 379.6h0.6M53.0 394.1h0.6M45.9 378.8h0.6M52.0 380.9h0.6M55.8 382.2h0.6M53.2 381.1h0.6M55.7 371.7h0.6M54.6 394.3h0.6M55.3 385.9h0.6M56.6 396.8h0.6M50.8 378.2h0.6M56.3 385.0h0.6M57.0 375.1h0.6M52.5 375.9h0.6M48.5 376.3h0.6M49.7 384.9h0.6M49.7 380.3h0.6M59.1 389.6h0.6M40.8 372.6h0.6M49.1 379.7h0.6M50.2 373.0h0.6M56.6 378.1h0.6M55.3 372.1h0.6M47.9 393.9h0.6M50.2 390.8h0.6M50.3 371.8h0.6M53.8 390.1h0.6M50.1 376.1h0.6M50.2 398.3h0.6M50.3 383.9h0.6M42.0 381.4h0.6M51.2 376.1h0.6M44.4 381.3h0.6M48.2 378.5h0.6M50.2 374.1h0.6M47.8 399.5h0.6M46.1 374.0h0.6M46.7 388.8h0.6M55.1 380.9h0.6M55.8 397.6h0.6M49.3 399.0h0.6M50.9 390.8h0.6M49.8 382.9h0.6M45.4 380.4h0.6M52.2 376.6h0.6M46.7 392.5h0.6M45.8 376.7h0.6M50.8 387.3h0.6M54.6 377.9h0.6M48.9 379.0h0.6M49.9 382.8h0.6M59.2 386.4h0.6M52.0 376.2h0.6M57.2 374.7h0.6M47.4 386.9h0.6M50.7 380.8h0.6M50.0 375.9h0.6M59.6 390.3h0.6M47.7 388.9h0.6M53.9 378.3h0.6M49.9 376.6h0.6M44.2 372.7h0.6M55.2 395.0h0.6M59.3 375.5h0.6M52.8 388.5h0.6M46.9 398.9h0.6M52.6 379.4h0.6M54.7 383.2h0.6M60.7 392.1h0.6M48.2 388.0h0.6M40.1 386.3h0.6M50.1 392.7h0.6M48.5 380.3h0.6M54.2 389.9h0.6M60.8 388.8h0.6M57.1 396.9h0.6M57.3 384.0h0.6M53.1 386.3h0.6M44.3 388.2h0.6M46.7 384.0h0.6M46.5 387.2h0.6M51.9 385.0h0.6M47.0 376.4h0.6M50.8 376.4h0.6M54.4 375.4h0.6M47.4 383.4h0.6M47.4 377.6h0.6M45.5 383.3h0.6M49.3 381.5h0.6M52.9 383.5h0.6M52.2 385.9h0.6M53.8 375.1h0.6M51.1 386.5h0.6M55.2 392.6h0.6M48.0 375.5h0.6M45.5 386.0h0.6M54.6 385.2h0.6M55.1 376.0h0.6M49.8 375.9h0.6M48.0 387.1h0.6M47.6 378.8h0.6M51.6 385.1h0.6M62.1 371.8h0.6M51.5 377.4h0.6M59.4 401.3h0.6M48.8 382.3h0.6M47.6 376.9h0.6M57.6 394.9h0.6M49.4 393.4h0.6M49.6 399.9h0.6M52.7 394.9h0.6M47.2 376.2h0.6M55.6 385.6h0.6M42.8 376.6h0.6M51.8 386.2h0.6M48.2 398.1h0.6M51.7 395.0h0.6M52.8 380.4h0.6M54.9 387.6h0.6M55.2 375.5h0.6M46.6 375.5h0.6M49.7 379.4h0.6M48.9 386.9h0.6M51.4 382.2h0.6M50.8 373.0h0.6M50.2 378.7h0.6M53.7 380.4h0.6M57.6 378.6h0.6M50.3 379.3h0.6M56.0 376.2h0.6M51.8 377.0h0.6M52.0 390.5h0.6M56.3 386.1h0.6M52.4 396.3h0.6M54.2 394.4h0.6M54.6 376.7h0.6M61.8 374.3h0.6M46.6 396.9h0.6M44.7 391.5h0.6M51.8 377.5h0.6M56.0 380.5h0.6M58.1 391.6h0.6M58.9 391.5h0.6M51.4 385.3h0.6M45.9 387.4h0.6M45.4 378.8h0.6M46.5 382.2h0.6M50.2 374.5h0.6M49.8 383.5h0.6M55.7 387.0h0.6M54.0 396.2h0.6M52.8 374.0h0.6M48.2 390.9h0.6M48.1 400.4h0.6M47.3 386.7h0.6M51.9 392.0h0.6M62.5 381.6h0.6M49.7 392.9h0.6M54.0 377.6h0.6M53.8 382.4h0.6M56.0 397.1h0.6M49.7 379.2h0.6M50.3 392.5h0.6M52.8 387.9h0.6M55.0 372.8h0.6M51.6 394.3h0.6M55.1 388.2h0.6M49.8 375.7h0.6M47.3 376.7h0.6M52.2 385.9h0.6M55.3 383.9h0.6M50.0 391.6h0.6M49.9 394.5h0.6M47.4 388.3h0.6M44.4 376.4h0.6M55.2 397.8h0.6M53.1 387.6h0.6M43.6 399.6h0.6M61.9 385.9h0.6M51.4 382.3h0.6M51.2 373.0h0.6M51.0 378.2h0.6M54.0 386.8h0.6M55.4 385.8h0.6M46.8 394.3h0.6M52.5 373.9h0.6M45.9 374.2h0.6M52.9 388.0h0.6M51.6 386.6h0.6M48.0 373.1h0.6M51.9 375.3h0.6M48.8 373.5h0.6M53.4 386.7h0.6M51.0 377.5h0.6M45.9 381.3h0.6M51.0 375.2h0.6M47.5 379.0h0.6M48.0 375.0h0.6M51.9 387.2h0.6M54.4 373.1h0.6M50.3 393.4h0.6M61.4 380.9h0.6M49.5 375.6h0.6M45.8 378.0h0.6M49.2 371.5h0.6M58.5 388.5h0.6M53.9 373.3h0.6M52.3 376.7h0.6M52.8 372.4h0.6M41.5 384.6h0.6M56.7 375.8h0.6M46.7 387.1h0.6M47.9 379.1h0.6M50.4 400.7h0.6M45.0 372.3h0.6M55.9 380.0h0.6M54.0 378.1h0.6M49.2 380.4h0.6M50.7 400.0h0.6M58.9 383.5h0.6M47.6 388.2h0.6M56.4 375.3h0.6M50.1 374.7h0.6M54.5 379.8h0.6M57.6 392.1h0.6M49.7 373.0h0.6M49.2 378.8h0.6M49.7 384.4h0.6M47.6 395.6h0.6M48.8 377.2h0.6M51.3 392.0h0.6M52.4 379.8h0.6M48.7 381.3h0.6M52.8 375.8h0.6M48.8 392.1h0.6M57.2 378.7h0.6M41.7 399.1h0.6M49.3 390.2h0.6M48.4 394.1h0.6M52.3 375.3h0.6M55.7 384.3h0.6M50.3 394.4h0.6M47.0 386.8h0.6M45.2 376.0h0.6M53.8 373.8h0.6" stroke="#000" stroke-width="0.6" opacity="0.8" fill="none"/>
<path d="M48.4 396.1h0.6M51.7 385.5h0.6M54.1 388.0h0.6M53.2 392.2h0.6M47.9 388.5h0.6M47.6 382.2h0.6M52.8 396.0h0.6M51.6 391.8h0.6M57.6 401.5h0.6M50.3 386.1h0.6M46.0 380.3h0.6M50.1 384.0h0.6M63.3 397.1h0.6M49.0 384.8h0.6M56.2 398.2h0.6M47.0 380.8h0.6M44.9 389.7h0.6M54.8 376.2h0.6M46.0 372.9h0.6M60.6 397.8h0.6M50.3 374.3h0.6M43.1 381.0h0.6M49.3 373.7h0.6M49.1 389.7h0.6M48.2 380.4h0.6M41.1 387.7h0.6M43.2 382.1h0.6M54.3 378.7h0.6M52.4 394.8h0.6M46.8 398.8h0.6M44.0 389.1h0.6M58.8 388.2h0.6M52.1 385.3h0.6M50.7 378.6h0.6M44.2 394.1h0.6M59.5 372.0h0.6M49.4 381.1h0.6M48.5 389.5h0.6M50.7 398.9h0.6M52.0 400.7h0.6M54.9 401.4h0.6M45.2 393.3h0.6M46.9 378.7h0.6M60.3 391.9h0.6M47.7 397.5h0.6M47.9 382.1h0.6M57.5 384.9h0.6M47.1 387.3h0.6M47.7 400.8h0.6M52.3 387.7h0.6M47.0 385.9h0.6M58.8 384.9h0.6M50.9 396.6h0.6M56.4 392.2h0.6M52.4 392.3h0.6M50.2 379.0h0.6M52.5 387.2h0.6M52.7 397.6h0.6M49.9 383.4h0.6M50.8 373.9h0.6M50.6 378.1h0.6M51.6 389.9h0.6M47.8 374.4h0.6M49.3 380.5h0.6M48.2 396.6h0.6M54.5 373.4h0.6M55.5 391.7h0.6M49.6 391.9h0.6M43.1 374.3h0.6M60.4 389.8h0.6M53.5 381.7h0.6M40.4 386.4h0.6M56.8 380.7h0.6M47.5 388.7h0.6M43.1 384.9h0.6M45.9 398.8h0.6M49.9 398.7h0.6M54.1 398.8h0.6M46.2 393.2h0.6M57.0 384.5h0.6M45.8 379.4h0.6M54.9 398.7h0.6M41.9 380.6h0.6M50.0 393.4h0.6M46.7 380.5h0.6M57.8 399.5h0.6M57.4 389.9h0.6M46.7 387.5h0.6M41.2 397.2h0.6M50.6 384.9h0.6M54.1 384.4h0.6M49.9 395.0h0.6M50.2 400.8h0.6M41.1 396.3h0.6M55.2 388.5h0.6M52.2 389.4h0.6M50.1 383.0h0.6M47.5 388.0h0.6M55.9 400.0h0.6M46.8 391.5h0.6M43.3 390.1h0.6M50.9 388.5h0.6M50.0 392.8h0.6M49.5 382.7h0.6M43.5 385.7h0.6M58.3 385.8h0.6M45.3 382.9h0.6M42.2 394.2h0.6M43.4 399.2h0.6M54.3 395.2h0.6M55.0 387.5h0.6M42.1 401.3h0.6M52.9 389.3h0.6M51.5 398.5h0.6M48.9 386.0h0.6M50.9 384.8h0.6M62.9 379.5h0.6M40.4 373.3h0.6M55.1 383.8h0.6M50.0 386.0h0.6M49.6 381.8h0.6M55.3 395.8h0.6M41.8 377.2h0.6M53.5 386.7h0.6M46.0 377.1h0.6M43.1 395.1h0.6M50.7 391.8h0.6M48.3 395.8h0.6M53.6 381.8h0.6M54.5 377.6h0.6M59.2 373.2h0.6M47.4 375.8h0.6M57.2 393.0h0.6M45.7 399.1h0.6M54.6 388.0h0.6M63.4 380.6h0.6M41.4 386.0h0.6M56.4 380.6h0.6M46.4 374.3h0.6M53.5 398.3h0.6M52.5 391.4h0.6M54.8 387.1h0.6M53.2 398.1h0.6M56.6 394.5h0.6M49.6 396.8h0.6M58.5 390.1h0.6M43.0 381.7h0.6M48.2 389.4h0.6M44.6 400.2h0.6M42.0 389.2h0.6M50.7 383.5h0.6M49.2 390.4h0.6M42.4 389.2h0.6M62.3 380.9h0.6M43.2 396.3h0.6M56.9 400.8h0.6M45.4 387.6h0.6M50.3 386.0h0.6M51.4 401.3h0.6M52.3 388.4h0.6M53.4 389.5h0.6M56.2 399.3h0.6M49.7 384.9h0.6M44.8 389.4h0.6M52.2 394.7h0.6M48.3 372.9h0.6M52.4 395.7h0.6M61.5 399.5h0.6M49.2 374.9h0.6M50.2 397.4h0.6M43.0 380.3h0.6M50.1 373.9h0.6M50.8 387.3h0.6M45.7 389.1h0.6M48.9 375.7h0.6M53.7 373.4h0.6M56.6 384.5h0.6M50.8 378.2h0.6M61.5 399.1h0.6M57.1 381.3h0.6M56.8 383.3h0.6M48.8 372.4h0.6M49.4 393.3h0.6M48.7 375.4h0.6M54.4 399.3h0.6M48.6 397.8h0.6M54.9 376.8h0.6M42.9 393.6h0.6M43.9 393.2h0.6M49.2 390.0h0.6M48.0 378.1h0.6M44.6 392.4h0.6M43.7 398.7h0.6M44.1 386.8h0.6M56.9 394.7h0.6M52.1 389.2h0.6M56.6 390.3h0.6M44.7 387.3h0.6M48.5 388.3h0.6M64.0 395.4h0.6M50.7 385.5h0.6M45.0 376.6h0.6M49.2 376.6h0.6M56.0 393.8h0.6M40.3 380.6h0.6M48.5 376.8h0.6M44.0 399.2h0.6M48.4 398.3h0.6M42.2 399.4h0.6M47.8 390.0h0.6M43.1 398.8h0.6M43.3 381.6h0.6M53.4 390.1h0.6M52.2 400.8h0.6M46.3 375.1h0.6M49.0 371.7h0.6M56.6 397.3h0.6M54.2 384.2h0.6M51.6 381.5h0.6M48.6 387.5h0.6M52.0 376.9h0.6M42.2 392.5h0.6M46.0 394.7h0.6M46.0 372.7h0.6M53.5 391.7h0.6M53.4 384.4h0.6M52.1 387.8h0.6M49.6 395.8h0.6M44.4 391.8h0.6M50.2 389.7h0.6M52.9 395.2h0.6M53.3 398.0h0.6M41.4 396.7h0.6M54.6 400.7h0.6M58.3 371.8h0.6M51.3 394.1h0.6M56.6 377.8h0.6M49.2 384.0h0.6M48.1 386.8h0.6M48.8 389.3h0.6M44.8 380.6h0.6M54.6 386.3h0.6M43.2 394.2h0.6M55.7 387.0h0.6M52.7 378.9h0.6M58.9 384.8h0.6M62.0 374.0h0.6M43.2 386.2h0.6M56.3 389.1h0.6M48.9 388.8h0.6M54.1 388.1h0.6M50.0 387.6h0.6M44.8 372.6h0.6M46.4 388.9h0.6M41.4 390.6h0.6M51.3 375.3h0.6M42.2 390.6h0.6M42.6 401.2h0.6M58.7 380.9h0.6M44.9 396.1h0.6M41.5 395.1h0.6M56.4 391.7h0.6M51.0 386.6h0.6M55.1 378.6h0.6M58.6 388.2h0.6M46.4 391.4h0.6M48.2 380.2h0.6M41.8 388.6h0.6M44.4 399.0h0.6M52.1 384.4h0.6M49.8 376.8h0.6M42.7 379.6h0.6M48.7 378.4h0.6M46.5 378.1h0.6M50.4 374.8h0.6M48.9 389.7h0.6M54.8 379.6h0.6M53.6 381.0h0.6M55.0 387.5h0.6M44.9 398.0h0.6M45.3 396.7h0.6M50.9 373.6h0.6M45.8 380.6h0.6M43.8 398.0h0.6M49.9 397.4h0.6M54.1 374.7h0.6M40.9 394.1h0.6M49.2 389.5h0.6M44.1 400.8h0.6M46.9 396.8h0.6M48.6 377.2h0.6M47.9 390.6h0.6M53.2 375.8h0.6M41.0 379.7h0.6M64.8 390.2h0.6M44.4 380.3h0.6M59.6 374.5h0.6M48.3 387.6h0.6M44.6 379.8h0.6M47.3 397.0h0.6" stroke="#000" stroke-width="0.6" opacity="0.55" fill="none"/>
<path d="M61.8 381.5h0.5M59.5 391.5h0.5M62.3 378.5h0.5M59.1 388.9h0.5M57.6 374.0h0.5M58.9 376.0h0.5M65.1 383.7h0.5M59.6 375.7h0.5M65.7 384.5h0.5M68.4 388.7h0.5M59.1 375.5h0.5M58.9 382.1h0.5M63.2 384.9h0.5M55.9 375.1h0.5M57.4 371.7h0.5" stroke="#333" stroke-width="0.5" opacity="0.4" fill="none"/>
<path d="M44.4 397.9h0.7M50.4 396.2h0.7M49.0 395.3h0.7M49.2 390.5h0.7M46.6 400.5h0.7M54.2 397.0h0.7M50.6 399.3h0.7M52.4 381.6h0.7M48.8 387.0h0.7M47.4 374.5h0.7M52.7 393.6h0.7M50.5 394.9h0.7M59.9 373.8h0.7M53.3 376.8h0.7M48.8 388.3h0.7M40.1 392.6h0.7M56.2 391.9h0.7M50.2 397.5h0.7M59.3 391.4h0.7M43.1 384.9h0.7M51.7 394.1h0.7M50.7 384.7h0.7M59.4 380.3h0.7M47.3 386.9h0.7M57.6 392.4h0.7M52.4 381.6h0.7M58.2 395.4h0.7M43.3 389.8h0.7M55.1 380.2h0.7M45.5 383.5h0.7M43.2 392.2h0.7M51.9 398.4h0.7M45.6 382.9h0.7M61.1 388.3h0.7M49.2 388.4h0.7M55.9 376.4h0.7M56.2 389.6h0.7M55.7 398.7h0.7M52.2 388.9h0.7M54.0 391.2h0.7M46.7 383.7h0.7M51.2 386.8h0.7M48.2 385.2h0.7M53.4 388.4h0.7M55.0 394.7h0.7M54.8 396.2h0.7M56.2 400.5h0.7M55.1 380.3h0.7M63.7 397.8h0.7M58.3 393.8h0.7M52.2 375.0h0.7M54.2 382.9h0.7M59.8 374.8h0.7M46.5 391.2h0.7M54.8 378.5h0.7M52.0 389.0h0.7M52.8 391.8h0.7M55.9 382.8h0.7M50.1 376.6h0.7M55.8 392.4h0.7M40.2 399.3h0.7M51.8 389.6h0.7M53.6 384.2h0.7M53.6 373.4h0.7M40.8 377.9h0.7M56.4 382.4h0.7M51.4 384.7h0.7M52.8 390.7h0.7M57.7 391.7h0.7M59.6 398.5h0.7M51.5 376.0h0.7M54.2 396.1h0.7M44.2 374.1h0.7M55.4 380.9h0.7M59.3 388.7h0.7M49.2 373.2h0.7M45.5 373.3h0.7M50.9 382.6h0.7M55.5 399.0h0.7M51.0 397.8h0.7M40.1 386.0h0.7M50.9 373.7h0.7M61.8 379.6h0.7M52.0 373.9h0.7M55.4 388.4h0.7M50.5 382.5h0.7M49.1 379.3h0.7M44.9 398.6h0.7M56.5 372.5h0.7M46.1 390.6h0.7M63.4 384.4h0.7M50.4 384.0h0.7M53.2 384.7h0.7M57.4 396.3h0.7M50.8 381.0h0.7M53.8 375.8h0.7M51.3 382.6h0.7M46.6 397.7h0.7M50.0 391.0h0.7M49.3 388.0h0.7" stroke="#fff" stroke-width="0.7" opacity="0.6" fill="none"/>
<path d="M65.6 363.7h0.6M66.7 360.7h0.6M68.3 362.7h0.6M64.1 359.2h0.6M68.3 368.7h0.6M63.0 361.7h0.6M68.4 367.6h0.6M69.1 358.6h0.6M67.1 367.0h0.6M67.7 362.5h0.6M63.4 364.1h0.6M66.8 363.5h0.6M71.5 368.2h0.6M64.6 364.3h0.6M66.1 363.8h0.6M71.9 367.1h0.6M67.1 360.8h0.6M66.5 364.9h0.6M65.5 367.8h0.6M67.1 358.7h0.6M66.2 362.9h0.6M70.0 367.9h0.6M71.4 369.7h0.6M68.0 363.9h0.6M70.1 363.3h0.6M63.2 361.6h0.6M69.0 365.9h0.6M63.7 368.2h0.6M67.9 357.4h0.6M68.4 367.4h0.6" stroke="#000" stroke-width="0.6" opacity="0.35" fill="none"/>
<path d="M39.90 356.48 Q39.90 354.30 44.78 354.30 L56.98 354.30 Q64.30 354.30 64.30 362.49 Q64.30 372.50 55.76 372.50 L43.56 372.50 Q39.90 372.50 39.90 370.32 Z" fill="#000" stroke="none" stroke-width="0.8"/>
<path d="M40.20 357.93 Q40.20 356.20 44.64 356.20 L55.74 356.20 Q62.40 356.20 62.40 362.68 Q62.40 370.60 54.63 370.60 L43.53 370.60 Q40.20 370.60 40.20 368.87 Z" fill="#fff" stroke="none" stroke-width="0.8"/>
<path d="M40.50 358.61 Q40.50 357.10 44.70 357.10 L55.20 357.10 Q61.50 357.10 61.50 362.77 Q61.50 369.70 54.15 369.70 L43.65 369.70 Q40.50 369.70 40.50 368.19 Z" fill="url(#blobg)" stroke="none" stroke-width="0.8"/>
<ellipse cx="55.18" cy="363.40" rx="1.0" ry="0.8" fill="#eee"/>
<circle cx="55.3" cy="378.50" r="1.9" fill="#fff"/>
</g>
<rect x="39.50" y="341.50" width="63.80" height="60.90" fill="none" stroke="#777" stroke-width="0.7"/>
<rect x="63.60" y="352.90" width="39.70" height="19.40" fill="none" stroke="#888" stroke-width="0.6"/>
<ellipse cx="77.1" cy="245.2" rx="14.0" ry="7.2" transform="rotate(-42 77.1 245.2)" fill="none" stroke="#888" stroke-width="0.6"/>
<line x1="35.20" y1="403.00" x2="35.20" y2="378.00" stroke="#000" stroke-width="1.2"/>
<path d="M32.9 379.0 L37.5 379.0 L35.2 374.6 Z" fill="#000" stroke="none" stroke-width="0.8"/>
<line x1="70.00" y1="409.50" x2="93.00" y2="409.50" stroke="#000" stroke-width="1.2"/>
<path d="M92.0 407.2 L92.0 411.8 L96.5 409.5 Z" fill="#000" stroke="none" stroke-width="0.8"/>
<path d="M129.1 181.6h0.6M123.8 188.8h0.6M127.9 183.2h0.6M125.4 178.0h0.6M131.5 187.0h0.6M126.1 178.1h0.6M130.9 190.1h0.6M125.4 177.1h0.6M126.7 171.0h0.6M128.1 179.5h0.6M129.8 180.7h0.6M132.1 181.4h0.6M135.2 181.4h0.6M127.8 178.5h0.6M121.9 184.9h0.6M128.4 178.3h0.6M129.3 181.1h0.6M124.8 182.8h0.6M128.6 186.8h0.6M132.0 185.1h0.6M124.1 179.8h0.6M128.5 177.2h0.6M126.3 181.3h0.6M126.6 184.1h0.6M130.5 188.3h0.6M122.7 188.4h0.6M132.2 176.4h0.6M137.1 180.4h0.6M127.3 179.2h0.6M124.7 188.6h0.6M128.0 181.3h0.6M131.6 178.5h0.6M123.6 180.4h0.6M124.0 186.7h0.6M126.1 177.9h0.6M125.2 173.2h0.6M127.7 183.7h0.6M129.4 182.0h0.6M128.6 178.5h0.6M127.1 184.0h0.6M122.1 186.1h0.6M127.6 183.5h0.6M127.0 179.4h0.6M123.6 186.2h0.6M126.2 179.2h0.6M124.1 187.9h0.6M127.3 188.5h0.6M126.9 177.3h0.6M130.5 184.8h0.6M124.4 181.6h0.6M123.1 187.4h0.6M125.3 185.6h0.6M128.0 181.9h0.6M128.5 182.0h0.6M122.3 181.1h0.6M122.3 187.0h0.6M129.6 180.3h0.6M129.5 184.4h0.6M130.9 178.5h0.6M127.1 178.2h0.6M124.3 190.0h0.6M129.0 187.1h0.6M123.9 173.0h0.6M120.1 185.0h0.6M131.4 187.7h0.6M124.1 190.0h0.6M126.2 186.3h0.6M124.9 172.5h0.6M125.7 184.1h0.6M128.1 179.6h0.6M126.1 177.5h0.6M126.1 183.6h0.6M128.7 177.4h0.6M127.3 183.2h0.6M123.0 186.8h0.6M134.6 186.6h0.6M130.1 188.5h0.6M126.5 188.1h0.6M123.8 184.1h0.6M129.8 189.7h0.6M125.8 181.7h0.6M128.9 182.8h0.6M127.5 187.2h0.6M123.9 187.6h0.6M128.5 181.9h0.6M122.0 180.1h0.6M126.8 187.9h0.6M127.8 177.6h0.6M130.4 185.2h0.6M128.7 178.3h0.6" stroke="#555" stroke-width="0.6" opacity="0.75" fill="none"/>
<path d="M152.9 202.3h0.6M166.7 199.8h0.6M157.9 196.2h0.6M149.6 202.6h0.6M158.5 203.7h0.6M155.1 202.9h0.6M155.1 200.8h0.6M166.5 195.0h0.6M164.0 198.2h0.6M153.9 199.1h0.6M162.5 195.0h0.6M157.5 195.7h0.6M154.8 197.3h0.6M163.5 196.0h0.6M165.8 196.5h0.6M155.2 203.0h0.6M166.7 195.3h0.6M162.2 193.0h0.6M156.8 196.5h0.6M162.9 192.6h0.6M156.2 195.1h0.6M159.5 192.7h0.6M151.7 210.8h0.6M160.2 191.5h0.6M163.5 192.3h0.6M148.7 205.6h0.6M165.8 194.5h0.6M153.1 200.3h0.6M170.1 200.9h0.6M162.6 192.9h0.6M149.3 199.9h0.6M164.5 198.8h0.6M159.0 204.4h0.6M154.4 203.1h0.6M163.5 195.4h0.6M159.7 198.7h0.6M162.2 193.9h0.6M157.7 198.6h0.6M159.2 198.3h0.6M160.4 197.3h0.6M156.3 202.8h0.6M155.5 196.8h0.6M154.2 193.1h0.6M161.4 198.0h0.6M158.3 200.2h0.6M158.1 201.2h0.6M168.8 199.7h0.6M157.6 205.5h0.6M166.2 199.1h0.6M163.6 193.1h0.6M154.4 195.3h0.6M162.0 193.2h0.6M155.2 202.4h0.6M155.5 198.7h0.6M158.5 197.7h0.6M151.2 202.5h0.6M163.4 202.1h0.6M156.2 193.1h0.6M158.5 198.9h0.6M158.1 195.6h0.6M153.6 194.9h0.6M158.5 196.0h0.6M168.0 197.0h0.6M161.4 196.1h0.6M158.0 193.9h0.6M156.4 191.6h0.6M147.8 204.1h0.6M153.3 200.1h0.6M158.3 195.7h0.6M162.9 195.7h0.6M161.3 196.6h0.6M164.2 202.4h0.6M159.3 203.0h0.6M161.7 205.1h0.6M158.3 191.4h0.6M160.1 199.2h0.6M157.0 197.3h0.6M157.5 192.7h0.6M168.3 194.8h0.6M153.2 191.2h0.6M154.4 198.0h0.6M166.9 200.8h0.6M155.1 192.7h0.6M153.0 197.8h0.6M163.7 196.1h0.6M167.6 206.7h0.6M164.9 197.8h0.6M162.6 202.5h0.6M153.6 198.5h0.6M159.9 194.9h0.6M162.7 197.6h0.6M156.8 206.5h0.6M159.9 205.4h0.6M158.2 202.8h0.6M154.9 198.8h0.6M161.9 197.0h0.6M164.8 199.0h0.6M158.6 192.5h0.6M174.8 194.9h0.6M157.2 195.0h0.6M157.4 199.2h0.6M151.8 202.8h0.6M157.6 200.8h0.6M147.6 195.9h0.6M157.4 196.5h0.6M155.4 199.6h0.6M161.2 193.9h0.6M148.4 201.4h0.6M157.3 202.9h0.6M163.7 197.7h0.6M151.3 196.6h0.6M155.1 203.7h0.6M149.9 202.2h0.6M150.7 195.7h0.6M151.4 195.1h0.6M156.6 199.8h0.6M155.8 201.2h0.6M168.4 198.9h0.6M152.8 197.4h0.6M158.4 196.6h0.6M165.2 203.3h0.6M169.7 200.5h0.6M144.7 197.6h0.6M162.6 194.6h0.6M155.7 202.2h0.6M159.7 193.2h0.6M159.0 192.8h0.6M158.7 193.0h0.6M154.0 195.9h0.6M173.9 193.0h0.6M152.6 195.8h0.6M164.7 201.7h0.6M162.7 196.8h0.6M159.7 194.8h0.6M158.0 194.6h0.6M151.2 193.8h0.6M169.3 199.9h0.6M154.9 197.7h0.6M156.5 203.6h0.6M158.8 195.4h0.6M162.6 199.6h0.6M155.3 194.8h0.6M154.1 202.6h0.6M163.6 203.1h0.6M156.6 195.6h0.6M157.5 196.1h0.6M165.8 197.2h0.6M166.2 195.1h0.6M161.0 205.3h0.6M155.0 195.3h0.6M157.4 195.3h0.6M170.8 196.1h0.6M147.5 202.3h0.6M164.1 198.0h0.6M160.5 201.3h0.6M155.9 198.4h0.6M159.7 205.5h0.6M166.5 198.9h0.6M151.8 202.1h0.6M158.7 203.3h0.6M159.2 199.0h0.6M162.5 195.0h0.6M155.4 208.3h0.6M154.3 202.3h0.6M162.6 201.8h0.6M166.3 192.3h0.6M159.2 199.7h0.6M164.5 203.0h0.6M153.9 197.0h0.6M158.1 195.1h0.6M154.5 195.3h0.6M165.1 204.2h0.6M163.0 205.6h0.6M159.4 193.4h0.6M155.4 199.1h0.6M164.4 203.5h0.6M154.1 202.4h0.6M156.1 200.8h0.6M163.8 204.7h0.6M156.1 199.3h0.6M161.2 196.3h0.6M159.4 200.8h0.6M150.1 195.3h0.6M171.3 200.2h0.6M153.8 200.5h0.6M162.6 200.2h0.6M162.1 195.5h0.6M167.5 193.2h0.6M161.7 197.0h0.6M149.8 202.2h0.6M157.5 201.3h0.6M165.7 198.9h0.6M155.4 197.2h0.6M158.6 204.6h0.6M163.5 205.2h0.6M163.0 194.8h0.6M163.9 202.5h0.6M158.3 200.2h0.6M157.2 192.6h0.6M158.4 201.6h0.6M154.6 203.0h0.6M160.1 203.1h0.6M154.9 196.3h0.6M153.6 194.8h0.6M161.7 198.8h0.6M156.3 199.5h0.6M151.9 196.5h0.6M150.9 191.6h0.6M151.7 193.3h0.6M167.4 204.3h0.6M165.7 195.6h0.6M162.3 193.2h0.6M156.0 199.3h0.6M150.4 199.1h0.6M145.8 197.0h0.6M158.3 198.8h0.6M152.9 200.7h0.6M159.6 195.0h0.6M167.7 199.3h0.6M162.9 206.4h0.6M156.3 197.2h0.6M149.6 197.2h0.6M161.3 209.3h0.6M161.9 199.1h0.6M152.2 194.4h0.6M149.0 192.1h0.6M159.5 199.5h0.6M154.0 197.2h0.6M154.6 200.9h0.6M162.3 195.7h0.6" stroke="#333" stroke-width="0.6" opacity="0.7" fill="none"/>
<path d="M119.3 217.6 L119.3 194.7 Q119.3 192.0 122.5 191.79999999999998 L127.3 191.39999999999998 L134.3 191.89999999999998 Q137.3 192.1 137.3 195.2 L137.3 217.6 Z" fill="#0a0a0a" stroke="none" stroke-width="0.8"/>
<path d="M121.3 212.6 L121.3 195.7 Q121.3 193.6 123.8 193.5 L132.8 193.7 Q135.10000000000002 193.79999999999998 135.10000000000002 196.2 L134.9 200.7 Q134.3 203.2 130.8 205.2 Q128.3 207.2 127.80000000000001 216.6 L121.3 216.6 Z" fill="url(#c2g)" stroke="#fff" stroke-width="0.7"/>
<ellipse cx="125.50" cy="203.20" rx="2.0" ry="8" fill="#e4e4e4" stroke="#fff" stroke-width="0.5"/>
<ellipse cx="130.80" cy="200.20" rx="1.8" ry="5" fill="#d0d0d0" stroke="#f4f4f4" stroke-width="0.5"/>
<rect x="118.50" y="157.70" width="63.00" height="59.90" fill="none" stroke="#777" stroke-width="0.7"/>
<line x1="142.30" y1="157.70" x2="142.30" y2="217.60" stroke="#777" stroke-width="0.6"/>
<line x1="118.50" y1="190.20" x2="181.50" y2="190.20" stroke="#777" stroke-width="0.6"/>
<rect x="118.90" y="211.00" width="8.20" height="6.30" fill="#fff" stroke="none" stroke-width="0.8"/>
<line x1="137.50" y1="217.20" x2="170.00" y2="217.20" stroke="#444" stroke-width="0.9"/>
<rect x="183.40" y="157.70" width="64.30" height="59.90" fill="none" stroke="#777" stroke-width="0.7"/>
<line x1="197.50" y1="217.20" x2="236.00" y2="217.20" stroke="#444" stroke-width="0.9"/>
<line x1="208.50" y1="157.70" x2="208.50" y2="217.60" stroke="#777" stroke-width="0.6"/>
<line x1="183.40" y1="190.20" x2="247.70" y2="190.20" stroke="#777" stroke-width="0.6"/>
<path d="M125.2 238.6h0.6M126.9 248.8h0.6M125.7 240.1h0.6M131.0 249.1h0.6M124.4 250.0h0.6M126.9 244.4h0.6M134.1 247.2h0.6M128.2 243.0h0.6M127.7 249.8h0.6M128.7 240.9h0.6M128.7 244.0h0.6M128.1 243.6h0.6M125.4 233.7h0.6M129.6 242.3h0.6M128.2 233.5h0.6M127.9 249.5h0.6M127.7 238.1h0.6M130.7 242.0h0.6M124.7 245.6h0.6M128.7 238.5h0.6M126.9 244.9h0.6M132.5 250.9h0.6M136.9 241.3h0.6M123.4 246.4h0.6M133.2 239.6h0.6M125.6 240.9h0.6M129.0 246.6h0.6M126.8 247.9h0.6M123.9 242.7h0.6M126.8 244.9h0.6M132.1 245.0h0.6M132.0 245.8h0.6M131.4 245.5h0.6M123.3 240.4h0.6M134.2 243.0h0.6M136.7 239.1h0.6M123.6 249.2h0.6M121.0 249.1h0.6M128.4 247.7h0.6M122.2 246.5h0.6M130.6 244.3h0.6M131.0 244.7h0.6M128.3 243.0h0.6M121.6 243.8h0.6M128.9 240.8h0.6M132.1 243.5h0.6M123.9 250.8h0.6M126.3 237.1h0.6M125.2 240.2h0.6M126.2 240.1h0.6M127.2 246.9h0.6M124.7 243.6h0.6M126.3 248.7h0.6M124.1 248.3h0.6M131.8 243.6h0.6M123.1 243.1h0.6M120.0 241.9h0.6M122.3 243.8h0.6M125.5 247.2h0.6M127.4 246.7h0.6M126.8 246.0h0.6M122.5 247.9h0.6M132.0 250.1h0.6M121.7 246.7h0.6M120.6 248.4h0.6M126.1 242.3h0.6M124.0 243.4h0.6M126.9 239.8h0.6M127.2 245.9h0.6M129.0 244.4h0.6M130.9 246.2h0.6M121.5 247.7h0.6M129.2 231.3h0.6M126.3 246.5h0.6M127.1 245.1h0.6M126.3 251.5h0.6M128.4 243.2h0.6M123.6 242.0h0.6M128.2 245.3h0.6M128.1 251.4h0.6M131.4 246.7h0.6M127.1 244.3h0.6M126.0 249.6h0.6M122.0 239.4h0.6M125.1 239.8h0.6M124.1 250.6h0.6M121.8 243.4h0.6M124.7 239.6h0.6M121.1 245.0h0.6M125.4 250.1h0.6" stroke="#555" stroke-width="0.6" opacity="0.75" fill="none"/>
<path d="M169.0 258.3h0.6M154.6 258.3h0.6M161.5 263.8h0.6M153.8 261.7h0.6M158.8 264.7h0.6M156.7 258.7h0.6M154.3 253.6h0.6M160.4 262.8h0.6M165.0 260.8h0.6M156.4 255.5h0.6M152.6 256.3h0.6M160.8 260.0h0.6M146.5 259.1h0.6M157.4 254.9h0.6M158.8 262.0h0.6M153.3 253.5h0.6M157.2 260.8h0.6M157.5 266.6h0.6M159.7 255.1h0.6M163.2 256.7h0.6M162.7 260.0h0.6M165.6 255.1h0.6M162.9 261.5h0.6M154.0 262.8h0.6M171.3 261.2h0.6M154.8 258.9h0.6M166.0 260.8h0.6M167.0 256.7h0.6M158.0 258.3h0.6M156.3 265.1h0.6M155.7 261.2h0.6M169.0 263.3h0.6M156.7 256.3h0.6M148.0 261.3h0.6M163.8 264.6h0.6M160.3 269.3h0.6M154.1 263.2h0.6M156.8 263.4h0.6M172.9 256.2h0.6M171.0 259.2h0.6M150.9 260.0h0.6M163.9 257.0h0.6M167.6 255.7h0.6M157.9 263.8h0.6M157.8 257.1h0.6M158.9 262.6h0.6M168.4 265.7h0.6M169.2 259.5h0.6M149.9 259.4h0.6M156.7 255.1h0.6M156.1 259.3h0.6M159.3 263.7h0.6M154.0 264.8h0.6M159.2 262.9h0.6M165.8 254.0h0.6M167.7 256.4h0.6M161.2 264.5h0.6M159.9 264.7h0.6M158.3 259.2h0.6M159.4 267.0h0.6M156.0 255.4h0.6M152.9 257.2h0.6M157.7 261.2h0.6M150.4 262.7h0.6M162.9 253.5h0.6M171.7 262.3h0.6M149.9 261.9h0.6M158.8 257.6h0.6M157.0 258.6h0.6M158.4 255.5h0.6M155.9 262.1h0.6M161.9 253.6h0.6M156.3 266.7h0.6M162.9 267.0h0.6M151.6 254.9h0.6M156.9 254.9h0.6M153.0 256.5h0.6M158.0 263.4h0.6M167.2 258.1h0.6M153.5 259.5h0.6M156.8 253.3h0.6M167.6 257.0h0.6M155.7 262.0h0.6M168.2 261.8h0.6M154.0 261.6h0.6M165.1 261.3h0.6M162.6 257.4h0.6M155.0 254.5h0.6M159.0 266.3h0.6M146.6 253.7h0.6M153.9 259.2h0.6M165.4 256.1h0.6M154.7 265.1h0.6M161.0 262.0h0.6M163.6 256.3h0.6M160.2 256.6h0.6M155.0 260.2h0.6M161.4 253.9h0.6M154.8 262.4h0.6M159.9 262.6h0.6M157.3 256.0h0.6M163.3 262.3h0.6M143.3 263.5h0.6M154.8 262.6h0.6M167.7 258.3h0.6M153.6 260.8h0.6M159.5 262.2h0.6M151.3 260.7h0.6M163.9 262.8h0.6M162.5 265.0h0.6M154.4 265.1h0.6M160.1 255.1h0.6M157.4 260.8h0.6M160.8 265.7h0.6M160.1 257.3h0.6M171.1 258.1h0.6M154.5 263.8h0.6M156.7 256.0h0.6M153.1 265.0h0.6M153.1 260.1h0.6M156.5 258.7h0.6M154.5 260.3h0.6M162.3 264.4h0.6M157.0 254.3h0.6M150.8 259.6h0.6M145.3 265.6h0.6M159.2 260.2h0.6M151.3 256.7h0.6M154.9 262.7h0.6M156.7 262.4h0.6M157.7 265.3h0.6M156.2 260.2h0.6M158.3 254.1h0.6M171.0 259.0h0.6M162.5 257.6h0.6M166.7 264.8h0.6M165.5 263.9h0.6M162.9 265.9h0.6M161.2 260.2h0.6M163.5 255.6h0.6M145.0 263.3h0.6M159.8 256.5h0.6M157.5 255.3h0.6M154.4 260.5h0.6M159.7 263.4h0.6M158.5 262.5h0.6M162.8 256.5h0.6M149.7 256.5h0.6M157.6 257.2h0.6M171.2 256.6h0.6M161.6 256.2h0.6M162.8 254.0h0.6M164.3 260.5h0.6M156.8 254.3h0.6M168.2 257.0h0.6M152.4 267.8h0.6M168.8 259.7h0.6M164.5 262.4h0.6M157.0 260.2h0.6M152.7 253.6h0.6M159.7 262.9h0.6M159.9 254.1h0.6M163.7 260.0h0.6M163.1 258.3h0.6M157.5 264.4h0.6M166.6 254.2h0.6M152.9 264.0h0.6M161.0 259.9h0.6M153.6 264.2h0.6M160.0 260.6h0.6M161.1 257.3h0.6M161.2 260.2h0.6M163.0 261.4h0.6M151.9 256.5h0.6M157.5 264.9h0.6M155.4 264.7h0.6M165.0 263.6h0.6M171.4 259.6h0.6M160.8 265.1h0.6M161.2 264.1h0.6M158.3 266.0h0.6M165.0 258.8h0.6M154.1 258.3h0.6M157.4 264.8h0.6M160.8 259.3h0.6M158.9 255.6h0.6M155.5 257.6h0.6M157.7 254.4h0.6M156.8 264.2h0.6M161.5 259.7h0.6M160.9 258.6h0.6M152.5 263.6h0.6M171.4 262.0h0.6M162.8 270.7h0.6M152.3 262.0h0.6M157.1 258.4h0.6M149.9 259.3h0.6M157.8 257.5h0.6M153.5 262.5h0.6M168.1 261.5h0.6M164.7 263.1h0.6M158.6 262.3h0.6M166.3 257.8h0.6M158.2 253.5h0.6M148.7 256.0h0.6M163.9 261.3h0.6M160.4 265.5h0.6M149.2 265.8h0.6M159.5 263.1h0.6M166.6 256.0h0.6M154.2 261.5h0.6M158.7 257.1h0.6M158.3 256.4h0.6M159.7 257.9h0.6M168.4 255.0h0.6M162.2 260.0h0.6M167.7 255.3h0.6M156.4 267.4h0.6M155.4 258.0h0.6M156.8 255.3h0.6M165.7 266.4h0.6M158.2 256.3h0.6M151.5 262.6h0.6M156.1 262.1h0.6M145.7 257.8h0.6M162.5 261.5h0.6M159.7 259.6h0.6M157.1 257.7h0.6M159.8 261.9h0.6M164.1 258.7h0.6" stroke="#333" stroke-width="0.6" opacity="0.7" fill="none"/>
<path d="M119.3 279.2 L119.3 256.1 Q119.3 253.4 122.5 253.2 L127.3 252.79999999999998 L134.6 253.29999999999998 Q137.6 253.5 137.6 256.6 L137.6 279.2 Z" fill="#0a0a0a" stroke="none" stroke-width="0.8"/>
<path d="M121.3 274.2 L121.3 257.1 Q121.3 255.0 123.8 254.9 L133.1 255.1 Q135.4 255.2 135.4 257.6 L135.2 262.1 Q134.6 264.6 131.1 266.6 Q128.6 268.6 128.1 278.2 L121.3 278.2 Z" fill="url(#c2g)" stroke="#fff" stroke-width="0.7"/>
<ellipse cx="125.50" cy="264.60" rx="2.0" ry="8" fill="#e4e4e4" stroke="#fff" stroke-width="0.5"/>
<ellipse cx="130.80" cy="261.60" rx="1.8" ry="5" fill="#d0d0d0" stroke="#f4f4f4" stroke-width="0.5"/>
<rect x="118.50" y="218.60" width="63.00" height="60.60" fill="none" stroke="#777" stroke-width="0.7"/>
<line x1="142.30" y1="218.60" x2="142.30" y2="279.20" stroke="#777" stroke-width="0.6"/>
<line x1="118.50" y1="251.60" x2="181.50" y2="251.60" stroke="#777" stroke-width="0.6"/>
<rect x="118.90" y="272.60" width="8.20" height="6.30" fill="#fff" stroke="none" stroke-width="0.8"/>
<line x1="137.50" y1="278.80" x2="170.00" y2="278.80" stroke="#444" stroke-width="0.9"/>
<rect x="183.40" y="218.60" width="64.30" height="60.60" fill="none" stroke="#777" stroke-width="0.7"/>
<line x1="197.50" y1="278.80" x2="236.00" y2="278.80" stroke="#444" stroke-width="0.9"/>
<line x1="208.50" y1="218.60" x2="208.50" y2="279.20" stroke="#777" stroke-width="0.6"/>
<line x1="183.40" y1="251.60" x2="247.70" y2="251.60" stroke="#777" stroke-width="0.6"/>
<path d="M131.9 302.4h0.6M134.7 311.8h0.6M122.2 306.5h0.6M128.9 312.3h0.6M127.3 300.6h0.6M131.9 306.2h0.6M128.8 305.5h0.6M126.5 300.3h0.6M129.7 304.0h0.6M119.9 309.1h0.6M126.9 311.8h0.6M130.3 301.1h0.6M126.3 307.1h0.6M127.4 301.8h0.6M127.3 311.9h0.6M130.0 294.6h0.6M125.9 304.4h0.6M130.7 307.0h0.6M128.4 309.5h0.6M126.1 313.9h0.6M134.3 311.1h0.6M124.8 308.3h0.6M130.9 310.6h0.6M124.2 311.8h0.6M129.9 309.9h0.6M125.3 306.9h0.6M125.2 305.6h0.6M125.9 305.5h0.6M127.3 307.5h0.6M124.5 306.4h0.6M126.6 309.5h0.6M128.8 305.3h0.6M123.7 298.9h0.6M122.0 309.1h0.6M126.4 305.1h0.6M126.4 304.4h0.6M124.5 307.4h0.6M121.2 307.7h0.6M126.6 302.6h0.6M131.1 308.8h0.6M131.4 303.8h0.6M122.0 301.2h0.6M120.7 297.7h0.6M133.3 304.7h0.6M127.8 304.4h0.6M120.0 302.2h0.6M127.5 302.6h0.6M129.8 313.4h0.6M130.6 310.8h0.6M126.3 312.0h0.6M123.8 301.2h0.6M126.0 305.8h0.6M131.9 302.2h0.6M131.6 303.2h0.6M121.9 298.7h0.6M126.9 299.9h0.6M127.9 307.3h0.6M125.4 297.5h0.6M124.9 309.2h0.6M119.8 310.5h0.6M127.1 304.4h0.6M127.8 310.3h0.6M126.9 303.2h0.6M130.2 303.7h0.6M128.5 311.9h0.6M131.1 307.8h0.6M126.2 308.0h0.6M129.6 303.0h0.6M133.1 299.2h0.6M131.0 300.7h0.6M122.6 304.6h0.6M125.9 300.4h0.6M129.5 306.5h0.6M132.4 302.0h0.6M119.7 310.4h0.6M126.1 311.9h0.6M122.1 297.6h0.6M133.3 300.3h0.6M124.6 297.9h0.6M123.6 302.3h0.6M128.7 312.7h0.6M136.6 305.3h0.6M130.3 308.1h0.6M128.2 311.3h0.6M129.0 306.6h0.6M124.2 305.0h0.6M127.1 305.1h0.6M125.6 303.5h0.6M130.4 305.8h0.6M126.5 305.9h0.6" stroke="#555" stroke-width="0.6" opacity="0.75" fill="none"/>
<path d="M166.2 319.6h0.6M166.8 318.2h0.6M167.4 324.7h0.6M156.3 324.1h0.6M165.3 317.8h0.6M157.8 323.4h0.6M157.9 320.7h0.6M159.1 323.4h0.6M163.3 328.6h0.6M157.2 335.1h0.6M157.2 329.9h0.6M158.3 315.6h0.6M156.6 320.5h0.6M155.5 321.4h0.6M162.6 323.8h0.6M163.7 321.3h0.6M157.7 327.4h0.6M168.5 323.7h0.6M159.9 318.2h0.6M170.6 323.8h0.6M162.3 332.8h0.6M158.1 321.1h0.6M167.5 321.2h0.6M163.7 330.7h0.6M152.6 318.3h0.6M162.8 322.5h0.6M159.2 321.3h0.6M159.7 323.6h0.6M156.4 320.8h0.6M160.3 317.2h0.6M162.5 321.5h0.6M152.6 328.0h0.6M152.6 331.2h0.6M155.0 327.4h0.6M158.7 329.2h0.6M157.8 326.6h0.6M161.2 324.1h0.6M161.2 329.5h0.6M155.0 315.6h0.6M160.4 318.9h0.6M158.5 322.0h0.6M154.5 326.9h0.6M158.4 330.0h0.6M160.4 326.7h0.6M157.4 319.1h0.6M156.1 318.1h0.6M161.5 322.6h0.6M153.1 315.2h0.6M154.2 315.3h0.6M162.9 316.9h0.6M155.8 321.5h0.6M159.2 323.9h0.6M163.2 324.9h0.6M157.1 327.6h0.6M161.1 318.9h0.6M167.2 316.7h0.6M161.6 327.6h0.6M159.7 323.6h0.6M159.7 325.0h0.6M160.3 322.0h0.6M160.4 320.7h0.6M169.7 323.3h0.6M155.4 324.9h0.6M156.9 316.7h0.6M157.5 324.3h0.6M165.5 326.7h0.6M160.3 321.3h0.6M160.1 327.4h0.6M158.3 327.2h0.6M154.7 322.0h0.6M163.2 325.1h0.6M160.1 319.7h0.6M149.3 320.1h0.6M154.4 320.2h0.6M167.6 318.6h0.6M163.6 321.9h0.6M153.0 322.5h0.6M163.1 316.7h0.6M152.7 320.3h0.6M163.0 319.3h0.6M161.3 324.1h0.6M159.1 324.0h0.6M165.9 321.2h0.6M160.8 317.3h0.6M155.1 321.6h0.6M163.4 319.0h0.6M151.5 326.1h0.6M153.3 322.6h0.6M161.7 317.8h0.6M160.8 326.9h0.6M157.5 325.3h0.6M159.7 317.9h0.6M155.7 319.3h0.6M166.2 327.2h0.6M160.3 315.1h0.6M156.4 320.2h0.6M148.6 321.9h0.6M160.6 316.1h0.6M156.7 320.0h0.6M169.0 325.0h0.6M163.2 322.4h0.6M152.1 326.1h0.6M163.0 320.5h0.6M159.0 324.3h0.6M157.8 323.8h0.6M166.0 320.6h0.6M157.1 322.1h0.6M162.5 320.2h0.6M159.5 319.0h0.6M158.6 324.4h0.6M154.6 321.2h0.6M151.2 318.9h0.6M159.4 324.4h0.6M153.5 321.6h0.6M154.0 323.4h0.6M160.4 324.0h0.6M157.9 315.7h0.6M156.0 316.1h0.6M155.4 321.8h0.6M164.8 319.1h0.6M154.9 322.9h0.6M147.9 330.8h0.6M150.7 326.5h0.6M164.3 326.3h0.6M158.5 325.3h0.6M157.2 326.3h0.6M155.5 318.4h0.6M161.1 320.0h0.6M162.6 318.2h0.6M160.5 317.7h0.6M158.5 331.5h0.6M153.2 316.5h0.6M150.4 321.0h0.6M167.7 320.0h0.6M164.0 321.2h0.6M155.6 330.9h0.6M153.8 323.8h0.6M162.5 321.0h0.6M160.7 324.4h0.6M157.1 326.4h0.6M154.5 325.4h0.6M163.9 322.9h0.6M157.2 321.9h0.6M147.1 323.1h0.6M163.1 318.0h0.6M160.9 322.2h0.6M149.6 318.0h0.6M157.6 324.1h0.6M159.4 316.4h0.6M156.2 322.5h0.6M152.2 320.1h0.6M168.2 325.9h0.6M156.5 326.2h0.6M153.4 328.8h0.6M157.0 322.6h0.6M155.9 322.4h0.6M160.8 322.1h0.6M154.6 325.4h0.6M162.0 322.0h0.6M164.6 318.7h0.6M165.8 321.3h0.6M167.1 320.0h0.6M157.7 322.9h0.6M164.8 328.4h0.6M156.6 318.8h0.6M163.1 327.5h0.6M162.8 320.5h0.6M165.8 321.9h0.6M159.9 324.8h0.6M160.2 325.2h0.6M161.3 324.4h0.6M159.9 326.6h0.6M159.6 328.6h0.6M159.3 325.5h0.6M156.1 323.3h0.6M161.3 322.6h0.6M167.2 322.2h0.6M165.0 323.6h0.6M164.8 318.0h0.6M157.1 326.3h0.6M154.7 323.7h0.6M162.0 322.9h0.6M161.3 324.4h0.6M157.8 323.8h0.6M156.3 320.0h0.6M150.6 321.5h0.6M150.0 322.1h0.6M160.1 317.2h0.6M159.4 323.3h0.6M157.1 318.0h0.6M158.4 323.8h0.6M163.9 330.6h0.6M148.5 323.5h0.6M161.3 319.2h0.6M160.7 331.3h0.6M159.6 328.1h0.6M164.7 320.0h0.6M146.7 327.2h0.6M158.0 318.9h0.6M160.1 322.3h0.6M165.1 319.4h0.6M160.2 333.9h0.6M158.5 324.8h0.6M163.8 320.4h0.6M148.8 322.9h0.6M156.4 324.5h0.6M146.2 321.2h0.6M150.5 316.0h0.6M161.2 327.1h0.6M165.2 319.1h0.6M151.1 324.4h0.6M156.9 317.5h0.6M149.1 321.0h0.6M153.4 327.0h0.6M148.8 319.2h0.6M159.4 327.0h0.6M158.6 330.1h0.6M158.8 321.5h0.6M161.4 323.6h0.6M151.0 317.8h0.6M157.8 323.5h0.6M152.5 318.8h0.6M155.0 323.5h0.6M156.7 324.7h0.6M161.1 317.9h0.6M157.4 316.5h0.6M159.6 325.6h0.6M161.8 320.7h0.6M158.9 324.1h0.6M161.0 326.1h0.6" stroke="#333" stroke-width="0.6" opacity="0.7" fill="none"/>
<path d="M119.3 340.5 L119.3 318.5 Q119.3 315.8 122.5 315.6 L127.3 315.2 L134.6 315.7 Q137.6 315.9 137.6 319.0 L137.6 340.5 Z" fill="#0a0a0a" stroke="none" stroke-width="0.8"/>
<path d="M121.3 335.5 L121.3 319.5 Q121.3 317.4 123.8 317.3 L133.1 317.5 Q135.4 317.6 135.4 320.0 L135.2 324.5 Q134.6 327.0 131.1 329.0 Q128.6 331.0 128.1 339.5 L121.3 339.5 Z" fill="url(#c2g)" stroke="#fff" stroke-width="0.7"/>
<ellipse cx="125.50" cy="327.00" rx="2.0" ry="8" fill="#e4e4e4" stroke="#fff" stroke-width="0.5"/>
<ellipse cx="130.80" cy="324.00" rx="1.8" ry="5" fill="#d0d0d0" stroke="#f4f4f4" stroke-width="0.5"/>
<rect x="118.50" y="280.30" width="63.00" height="60.20" fill="none" stroke="#777" stroke-width="0.7"/>
<line x1="142.30" y1="280.30" x2="142.30" y2="340.50" stroke="#777" stroke-width="0.6"/>
<line x1="118.50" y1="314.00" x2="181.50" y2="314.00" stroke="#777" stroke-width="0.6"/>
<rect x="118.90" y="333.90" width="8.20" height="6.30" fill="#fff" stroke="none" stroke-width="0.8"/>
<line x1="137.50" y1="340.10" x2="170.00" y2="340.10" stroke="#444" stroke-width="0.9"/>
<rect x="183.40" y="280.30" width="64.30" height="60.20" fill="none" stroke="#777" stroke-width="0.7"/>
<line x1="197.50" y1="340.10" x2="236.00" y2="340.10" stroke="#444" stroke-width="0.9"/>
<line x1="208.50" y1="280.30" x2="208.50" y2="340.50" stroke="#777" stroke-width="0.6"/>
<line x1="183.40" y1="314.00" x2="247.70" y2="314.00" stroke="#777" stroke-width="0.6"/>
<path d="M125.2 357.4h0.6M125.1 366.8h0.6M125.4 370.3h0.6M126.0 374.7h0.6M124.5 368.3h0.6M123.3 363.3h0.6M125.5 372.1h0.6M127.1 367.4h0.6M121.3 358.0h0.6M126.2 367.1h0.6M133.9 370.1h0.6M128.7 373.1h0.6M123.5 362.2h0.6M130.9 365.4h0.6M122.2 372.9h0.6M131.3 362.9h0.6M133.3 364.5h0.6M129.9 367.3h0.6M125.7 365.3h0.6M129.7 371.4h0.6M130.1 366.9h0.6M133.7 367.3h0.6M127.5 368.6h0.6M130.3 370.0h0.6M119.6 371.5h0.6M123.2 368.7h0.6M126.3 369.6h0.6M136.1 366.2h0.6M130.5 371.4h0.6M128.2 365.8h0.6M129.5 369.7h0.6M132.7 372.4h0.6M124.2 353.8h0.6M132.9 370.7h0.6M127.7 365.3h0.6M136.8 375.0h0.6M127.4 366.5h0.6M129.3 375.1h0.6M129.0 373.0h0.6M128.0 370.1h0.6M122.0 368.9h0.6M127.2 367.9h0.6M126.1 369.8h0.6M124.7 367.3h0.6M123.5 362.3h0.6M124.9 366.2h0.6M122.8 356.1h0.6M133.5 373.4h0.6M125.5 371.1h0.6M122.6 360.2h0.6M128.3 371.2h0.6M124.3 368.3h0.6M131.2 369.1h0.6M127.7 371.2h0.6M122.0 369.5h0.6M124.5 358.9h0.6M130.5 367.4h0.6M120.5 361.9h0.6M128.6 370.1h0.6M129.7 371.6h0.6M122.0 372.0h0.6M130.9 366.3h0.6M123.4 365.9h0.6M124.7 370.9h0.6M130.1 368.4h0.6M125.8 359.5h0.6M125.3 363.3h0.6M124.8 370.0h0.6M123.5 365.6h0.6M122.5 367.0h0.6M125.9 373.3h0.6M129.6 365.7h0.6M124.3 369.3h0.6M129.1 367.5h0.6M126.4 368.4h0.6M122.7 369.7h0.6M129.3 368.6h0.6M122.5 368.3h0.6M126.6 369.9h0.6M125.3 372.4h0.6M131.3 372.4h0.6M127.9 374.4h0.6M126.8 367.5h0.6M121.3 368.4h0.6M131.8 363.6h0.6M130.1 362.0h0.6M127.2 362.5h0.6M128.1 367.6h0.6M130.1 365.7h0.6M120.1 365.9h0.6" stroke="#555" stroke-width="0.6" opacity="0.75" fill="none"/>
<path d="M162.2 387.9h0.6M160.5 383.4h0.6M162.7 382.4h0.6M156.5 384.3h0.6M165.0 381.1h0.6M161.7 380.5h0.6M155.0 384.1h0.6M151.7 379.5h0.6M152.5 380.6h0.6M154.0 393.6h0.6M162.3 383.6h0.6M161.4 380.5h0.6M164.7 381.6h0.6M151.8 380.5h0.6M150.6 377.1h0.6M162.9 381.0h0.6M162.7 380.8h0.6M157.7 380.9h0.6M156.0 380.4h0.6M167.1 383.1h0.6M148.3 390.8h0.6M165.8 388.3h0.6M158.4 382.6h0.6M156.3 383.9h0.6M161.5 383.3h0.6M154.5 379.1h0.6M168.1 390.7h0.6M152.2 380.5h0.6M158.7 385.9h0.6M158.3 384.4h0.6M160.9 388.3h0.6M151.8 388.1h0.6M161.4 385.7h0.6M150.7 382.3h0.6M157.5 386.1h0.6M162.7 386.3h0.6M151.9 388.8h0.6M159.3 387.4h0.6M158.9 380.2h0.6M173.3 386.2h0.6M163.1 381.3h0.6M157.7 388.2h0.6M161.4 391.0h0.6M165.5 378.6h0.6M150.5 388.4h0.6M162.2 382.2h0.6M157.3 380.9h0.6M168.8 382.6h0.6M151.4 387.3h0.6M158.5 384.9h0.6M156.8 383.1h0.6M148.6 385.7h0.6M155.2 381.7h0.6M160.7 388.9h0.6M147.1 382.7h0.6M161.9 387.7h0.6M153.9 384.7h0.6M161.1 387.4h0.6M155.5 382.5h0.6M156.1 388.3h0.6M164.9 381.4h0.6M158.2 384.3h0.6M154.0 382.8h0.6M163.7 386.7h0.6M155.2 380.5h0.6M158.3 377.0h0.6M160.6 383.8h0.6M151.6 382.3h0.6M155.3 382.2h0.6M154.1 389.2h0.6M153.6 386.6h0.6M160.0 389.6h0.6M158.6 383.3h0.6M172.1 382.4h0.6M157.2 378.5h0.6M158.2 390.3h0.6M154.8 385.2h0.6M164.6 387.4h0.6M161.1 385.8h0.6M157.1 381.5h0.6M168.5 376.5h0.6M156.1 380.7h0.6M150.3 380.4h0.6M154.5 388.7h0.6M149.3 377.4h0.6M160.3 376.7h0.6M147.9 380.7h0.6M152.3 379.2h0.6M158.0 385.3h0.6M155.4 382.2h0.6M162.8 382.7h0.6M162.9 380.8h0.6M161.6 388.8h0.6M151.3 396.2h0.6M157.1 381.9h0.6M158.0 385.3h0.6M152.3 383.5h0.6M155.7 389.5h0.6M149.4 386.1h0.6M157.2 380.2h0.6M159.6 382.3h0.6M159.1 384.4h0.6M165.5 381.6h0.6M168.9 388.5h0.6M167.5 384.2h0.6M160.5 379.0h0.6M166.2 378.4h0.6M154.5 383.4h0.6M160.2 384.8h0.6M152.5 381.9h0.6M161.6 388.4h0.6M163.1 385.1h0.6M157.5 381.0h0.6M156.1 383.0h0.6M161.8 381.2h0.6M170.2 379.1h0.6M163.4 382.5h0.6M158.1 381.7h0.6M167.3 382.1h0.6M161.9 383.9h0.6M163.0 385.9h0.6M168.0 380.2h0.6M154.4 390.6h0.6M165.9 383.7h0.6M157.3 384.4h0.6M166.0 380.1h0.6M166.9 383.1h0.6M156.9 381.7h0.6M147.4 384.7h0.6M151.7 381.0h0.6M154.0 384.4h0.6M162.9 383.5h0.6M159.9 385.1h0.6M167.7 385.8h0.6M167.5 383.1h0.6M160.8 380.6h0.6M162.2 379.7h0.6M161.5 380.7h0.6M157.0 388.5h0.6M159.7 386.7h0.6M167.0 382.6h0.6M155.3 387.4h0.6M152.7 380.2h0.6M165.2 380.4h0.6M165.1 382.1h0.6M157.7 383.7h0.6M156.2 387.9h0.6M164.9 383.7h0.6M162.2 385.7h0.6M168.1 376.6h0.6M164.5 387.2h0.6M157.2 383.4h0.6M157.0 388.6h0.6M152.6 385.9h0.6M165.9 385.8h0.6M156.3 381.4h0.6M147.3 379.0h0.6M164.9 379.4h0.6M149.9 382.3h0.6M150.7 385.3h0.6M154.1 387.4h0.6M158.3 377.4h0.6M154.7 380.6h0.6M154.3 388.6h0.6M153.4 384.9h0.6M155.7 385.9h0.6M151.1 376.7h0.6M161.7 389.4h0.6M151.3 382.0h0.6M156.1 379.4h0.6M164.2 383.6h0.6M151.3 382.5h0.6M166.2 380.4h0.6M156.1 379.9h0.6M159.8 381.0h0.6M163.8 379.9h0.6M150.9 385.3h0.6M160.4 384.4h0.6M155.7 381.5h0.6M154.5 382.6h0.6M156.4 385.7h0.6M159.0 385.7h0.6M167.9 382.2h0.6M157.3 385.0h0.6M170.4 381.9h0.6M168.2 388.4h0.6M143.9 379.2h0.6M153.5 385.1h0.6M166.2 383.6h0.6M159.8 392.6h0.6M160.9 392.5h0.6M154.0 390.4h0.6M154.4 381.4h0.6M158.7 386.6h0.6M162.7 385.6h0.6M154.8 390.9h0.6M165.5 383.5h0.6M155.8 383.2h0.6M157.7 380.4h0.6M158.9 380.6h0.6M162.4 380.6h0.6M161.6 384.7h0.6M159.8 385.6h0.6M153.3 394.3h0.6M155.1 386.5h0.6M159.0 381.5h0.6M168.5 388.1h0.6M157.4 385.8h0.6M162.7 390.1h0.6M164.5 382.7h0.6M157.5 378.4h0.6M160.4 387.0h0.6M156.8 386.2h0.6M159.6 381.4h0.6M152.2 388.1h0.6M172.8 385.7h0.6M153.0 379.0h0.6M160.3 386.1h0.6M169.1 384.1h0.6M159.7 385.0h0.6M157.0 382.2h0.6M158.3 385.8h0.6M149.9 382.7h0.6M167.3 385.0h0.6M162.8 386.4h0.6M160.2 384.9h0.6M154.5 382.5h0.6M169.1 378.1h0.6M158.0 378.0h0.6M156.0 380.1h0.6" stroke="#333" stroke-width="0.6" opacity="0.7" fill="none"/>
<path d="M119.3 402.4 L119.3 379.8 Q119.3 377.1 122.5 376.90000000000003 L127.3 376.5 L134.6 377.0 Q137.6 377.2 137.6 380.3 L137.6 402.4 Z" fill="#0a0a0a" stroke="none" stroke-width="0.8"/>
<path d="M121.3 397.4 L121.3 380.8 Q121.3 378.7 123.8 378.6 L133.1 378.8 Q135.4 378.90000000000003 135.4 381.3 L135.2 385.8 Q134.6 388.3 131.1 390.3 Q128.6 392.3 128.1 401.4 L121.3 401.4 Z" fill="url(#c2g)" stroke="#fff" stroke-width="0.7"/>
<ellipse cx="125.50" cy="388.30" rx="2.0" ry="8" fill="#e4e4e4" stroke="#fff" stroke-width="0.5"/>
<ellipse cx="130.80" cy="385.30" rx="1.8" ry="5" fill="#d0d0d0" stroke="#f4f4f4" stroke-width="0.5"/>
<rect x="118.50" y="341.50" width="63.00" height="60.90" fill="none" stroke="#777" stroke-width="0.7"/>
<line x1="142.30" y1="341.50" x2="142.30" y2="402.40" stroke="#777" stroke-width="0.6"/>
<line x1="118.50" y1="375.30" x2="181.50" y2="375.30" stroke="#777" stroke-width="0.6"/>
<rect x="118.90" y="395.80" width="8.20" height="6.30" fill="#fff" stroke="none" stroke-width="0.8"/>
<line x1="137.50" y1="402.00" x2="170.00" y2="402.00" stroke="#444" stroke-width="0.9"/>
<rect x="183.40" y="341.50" width="64.30" height="60.90" fill="none" stroke="#777" stroke-width="0.7"/>
<line x1="197.50" y1="402.00" x2="236.00" y2="402.00" stroke="#444" stroke-width="0.9"/>
<line x1="208.50" y1="341.50" x2="208.50" y2="402.40" stroke="#777" stroke-width="0.6"/>
<line x1="183.40" y1="375.30" x2="247.70" y2="375.30" stroke="#777" stroke-width="0.6"/>
<ellipse cx="190.5" cy="198.8" rx="2.0" ry="3.2" transform="rotate(15 190.5 198.8)" fill="none" stroke="#111" stroke-width="1.5"/>
<circle cx="195.9" cy="196.4" r="1.3" fill="none" stroke="#222" stroke-width="0.9"/>
<ellipse cx="224.9" cy="241.3" rx="6.6" ry="6.0" transform="rotate(-20 224.9 241.3)" fill="#aaa" stroke="#666" stroke-width="0.7"/>
<ellipse cx="224.9" cy="241.3" rx="4.62" ry="4.20" transform="rotate(-20 224.9 241.3)" fill="none" stroke="#777" stroke-width="0.6"/>
<ellipse cx="224.9" cy="241.3" rx="2.77" ry="2.52" transform="rotate(-20 224.9 241.3)" fill="none" stroke="#777" stroke-width="0.6"/>
<ellipse cx="201.8" cy="255.6" rx="4.6" ry="2.6" transform="rotate(-45 201.8 255.6)" fill="#bbb" stroke="#666" stroke-width="0.7"/>
<ellipse cx="201.8" cy="255.6" rx="3.22" ry="1.82" transform="rotate(-45 201.8 255.6)" fill="none" stroke="#777" stroke-width="0.6"/>
<ellipse cx="201.8" cy="255.6" rx="1.93" ry="1.09" transform="rotate(-45 201.8 255.6)" fill="none" stroke="#777" stroke-width="0.6"/>
<ellipse cx="193.6" cy="261.2" rx="4.4" ry="2.6" transform="rotate(-40 193.6 261.2)" fill="#bbb" stroke="#666" stroke-width="0.7"/>
<ellipse cx="193.6" cy="261.2" rx="3.08" ry="1.82" transform="rotate(-40 193.6 261.2)" fill="none" stroke="#777" stroke-width="0.6"/>
<ellipse cx="193.6" cy="261.2" rx="1.85" ry="1.09" transform="rotate(-40 193.6 261.2)" fill="none" stroke="#777" stroke-width="0.6"/>
<ellipse cx="191.1" cy="269.3" rx="1.8" ry="1.3" transform="rotate(0 191.1 269.3)" fill="#ccc" stroke="#666" stroke-width="0.7"/>
<ellipse cx="191.1" cy="269.3" rx="1.26" ry="0.91" transform="rotate(0 191.1 269.3)" fill="none" stroke="#777" stroke-width="0.6"/>
<ellipse cx="219.5" cy="260.8" rx="2.3" ry="2.1" transform="rotate(0 219.5 260.8)" fill="#ccc" stroke="#666" stroke-width="0.7"/>
<ellipse cx="219.5" cy="260.8" rx="1.61" ry="1.47" transform="rotate(0 219.5 260.8)" fill="none" stroke="#777" stroke-width="0.6"/>
<ellipse cx="223.0" cy="251.8" rx="1.6" ry="1.2" transform="rotate(0 223.0 251.8)" fill="#ccc" stroke="#666" stroke-width="0.7"/>
<ellipse cx="223.0" cy="251.8" rx="1.12" ry="0.84" transform="rotate(0 223.0 251.8)" fill="none" stroke="#777" stroke-width="0.6"/>
<ellipse cx="225.6" cy="240.6" rx="1.6" ry="1.2" fill="#fff"/>
<path d="M185.9 317.3 Q185.9 315.8 187.4 315.8 L202.20000000000002 315.8 Q203.70000000000002 315.8 203.70000000000002 317.6 L196.936 333.40000000000003 L185.9 333.40000000000003 Z" fill="#c4c4c4" stroke="#666" stroke-width="0.7"/>
<path d="M187.70000000000002 318.90000000000003 Q187.70000000000002 317.40000000000003 189.20000000000002 317.40000000000003 L199.8 317.40000000000003 Q201.3 317.40000000000003 201.3 319.20000000000005 L196.132 331.00000000000006 L187.70000000000002 331.00000000000006 Z" fill="#d2d2d2" stroke="#666" stroke-width="0.7"/>
<path d="M189.5 320.5 Q189.5 319.0 191.0 319.0 L197.4 319.0 Q198.9 319.0 198.9 320.8 L195.328 328.6 L189.5 328.6 Z" fill="#e0e0e0" stroke="#666" stroke-width="0.7"/>
<path d="M191.3 322.1 Q191.3 320.6 192.8 320.6 L195.0 320.6 Q196.5 320.6 196.5 322.40000000000003 L194.524 326.70000000000005 L191.3 326.70000000000005 Z" fill="#efefef" stroke="#666" stroke-width="0.7"/>
<rect x="186.4" y="316.8" width="2.0" height="15.600000000000001" fill="#666" opacity="0.5"/>
<path d="M185.9 377.1 Q185.9 375.6 187.4 375.6 L203.9 375.6 Q205.4 375.6 205.4 377.40000000000003 L197.99 395.20000000000005 L185.9 395.20000000000005 Z" fill="#c4c4c4" stroke="#666" stroke-width="0.7"/>
<path d="M187.70000000000002 378.70000000000005 Q187.70000000000002 377.20000000000005 189.20000000000002 377.20000000000005 L201.50000000000003 377.20000000000005 Q203.00000000000003 377.20000000000005 203.00000000000003 379.00000000000006 L197.186 392.80000000000007 L187.70000000000002 392.80000000000007 Z" fill="#d2d2d2" stroke="#666" stroke-width="0.7"/>
<path d="M189.5 380.3 Q189.5 378.8 191.0 378.8 L199.1 378.8 Q200.6 378.8 200.6 380.6 L196.382 390.40000000000003 L189.5 390.40000000000003 Z" fill="#e0e0e0" stroke="#666" stroke-width="0.7"/>
<path d="M191.3 381.90000000000003 Q191.3 380.40000000000003 192.8 380.40000000000003 L196.70000000000002 380.40000000000003 Q198.20000000000002 380.40000000000003 198.20000000000002 382.20000000000005 L195.578 388.50000000000006 L191.3 388.50000000000006 Z" fill="#efefef" stroke="#666" stroke-width="0.7"/>
<rect x="186.4" y="376.6" width="2.0" height="17.6" fill="#666" opacity="0.5"/>
<line x1="111.70" y1="402.00" x2="111.70" y2="379.00" stroke="#000" stroke-width="1.2"/>
<path d="M109.4 380.0 L114.0 380.0 L111.7 375.4 Z" fill="#000" stroke="none" stroke-width="0.8"/>
<line x1="136.30" y1="408.60" x2="158.00" y2="408.60" stroke="#000" stroke-width="1.2"/>
<path d="M157.0 406.3 L157.0 410.9 L161.5 408.6 Z" fill="#000" stroke="none" stroke-width="0.8"/>
<line x1="287.30" y1="4.30" x2="287.30" y2="100.50" stroke="#444" stroke-width="0.9"/>
<line x1="287.30" y1="100.50" x2="431.50" y2="100.50" stroke="#555" stroke-width="1.1"/>
<line x1="285.10" y1="4.50" x2="287.30" y2="4.50" stroke="#444" stroke-width="0.8"/>
<line x1="285.10" y1="36.50" x2="287.30" y2="36.50" stroke="#444" stroke-width="0.8"/>
<line x1="285.10" y1="68.50" x2="287.30" y2="68.50" stroke="#444" stroke-width="0.8"/>
<line x1="285.10" y1="100.50" x2="287.30" y2="100.50" stroke="#444" stroke-width="0.8"/>
<rect x="295.30" y="53.10" width="32.40" height="47.40" fill="#fff" stroke="#8a8a8a" stroke-width="1.4"/>
<rect x="343.40" y="87.00" width="32.40" height="13.50" fill="#fff" stroke="#8a8a8a" stroke-width="1.4"/>
<rect x="391.50" y="90.80" width="32.10" height="9.70" fill="#fff" stroke="#8a8a8a" stroke-width="1.4"/>
<line x1="311.60" y1="100.50" x2="311.60" y2="103.00" stroke="#444" stroke-width="0.8"/>
<line x1="359.60" y1="100.50" x2="359.60" y2="103.00" stroke="#444" stroke-width="0.8"/>
<line x1="407.60" y1="100.50" x2="407.60" y2="103.00" stroke="#444" stroke-width="0.8"/>
<circle cx="311.7" cy="5.2" r="1.85" fill="#000"/>
<circle cx="314.5" cy="19.6" r="1.85" fill="#000"/>
<circle cx="308.7" cy="22.4" r="1.85" fill="#000"/>
<circle cx="308.7" cy="31.7" r="1.85" fill="#000"/>
<circle cx="314.5" cy="32.3" r="1.85" fill="#000"/>
<circle cx="314.5" cy="38.8" r="1.85" fill="#000"/>
<circle cx="302.9" cy="43.3" r="1.85" fill="#000"/>
<circle cx="308.7" cy="42.2" r="1.85" fill="#000"/>
<circle cx="320.4" cy="45.2" r="1.85" fill="#000"/>
<circle cx="308.7" cy="48.6" r="1.85" fill="#000"/>
<circle cx="314.5" cy="48.6" r="1.85" fill="#000"/>
<circle cx="305.8" cy="55.6" r="1.85" fill="#000"/>
<circle cx="311.7" cy="58.8" r="1.85" fill="#000"/>
<circle cx="317.4" cy="57.2" r="1.85" fill="#000"/>
<circle cx="311.7" cy="71.3" r="1.85" fill="#000"/>
<circle cx="311.7" cy="80.5" r="1.85" fill="#000"/>
<circle cx="311.7" cy="88.1" r="1.85" fill="#000"/>
<circle cx="305.8" cy="91.7" r="1.85" fill="#000"/>
<circle cx="311.7" cy="93.9" r="1.85" fill="#000"/>
<circle cx="317.4" cy="93.9" r="1.85" fill="#000"/>
<rect x="357.85" y="42.85" width="3.50" height="3.50" fill="#000" stroke="none" stroke-width="0.8"/>
<rect x="354.85" y="69.65" width="3.50" height="3.50" fill="#000" stroke="none" stroke-width="0.8"/>
<rect x="360.65" y="70.55" width="3.50" height="3.50" fill="#000" stroke="none" stroke-width="0.8"/>
<rect x="346.25" y="78.55" width="3.50" height="3.50" fill="#000" stroke="none" stroke-width="0.8"/>
<rect x="366.45" y="76.55" width="3.50" height="3.50" fill="#000" stroke="none" stroke-width="0.8"/>
<rect x="352.05" y="81.65" width="3.50" height="3.50" fill="#000" stroke="none" stroke-width="0.8"/>
<rect x="360.65" y="79.65" width="3.50" height="3.50" fill="#000" stroke="none" stroke-width="0.8"/>
<rect x="354.85" y="85.15" width="3.50" height="3.50" fill="#000" stroke="none" stroke-width="0.8"/>
<rect x="360.65" y="88.85" width="3.50" height="3.50" fill="#000" stroke="none" stroke-width="0.8"/>
<rect x="344.25" y="91.25" width="3.50" height="3.50" fill="#000" stroke="none" stroke-width="0.8"/>
<rect x="347.05" y="91.45" width="3.50" height="3.50" fill="#000" stroke="none" stroke-width="0.8"/>
<rect x="369.75" y="91.25" width="3.50" height="3.50" fill="#000" stroke="none" stroke-width="0.8"/>
<rect x="371.25" y="91.65" width="3.50" height="3.50" fill="#000" stroke="none" stroke-width="0.8"/>
<rect x="349.85" y="94.25" width="3.50" height="3.50" fill="#000" stroke="none" stroke-width="0.8"/>
<rect x="352.65" y="95.85" width="3.50" height="3.50" fill="#000" stroke="none" stroke-width="0.8"/>
<rect x="355.45" y="96.85" width="3.50" height="3.50" fill="#000" stroke="none" stroke-width="0.8"/>
<rect x="358.25" y="97.05" width="3.50" height="3.50" fill="#000" stroke="none" stroke-width="0.8"/>
<rect x="361.05" y="96.65" width="3.50" height="3.50" fill="#000" stroke="none" stroke-width="0.8"/>
<rect x="363.85" y="95.65" width="3.50" height="3.50" fill="#000" stroke="none" stroke-width="0.8"/>
<rect x="366.65" y="94.05" width="3.50" height="3.50" fill="#000" stroke="none" stroke-width="0.8"/>
<path d="M405.60 67.60 L409.20 67.60 L407.40 64.30 Z" fill="#000" stroke="none" stroke-width="0.8"/>
<path d="M399.90 75.20 L403.50 75.20 L401.70 71.90 Z" fill="#000" stroke="none" stroke-width="0.8"/>
<path d="M411.50 75.20 L415.10 75.20 L413.30 71.90 Z" fill="#000" stroke="none" stroke-width="0.8"/>
<path d="M405.60 80.10 L409.20 80.10 L407.40 76.80 Z" fill="#000" stroke="none" stroke-width="0.8"/>
<path d="M408.60 82.60 L412.20 82.60 L410.40 79.30 Z" fill="#000" stroke="none" stroke-width="0.8"/>
<path d="M402.70 88.30 L406.30 88.30 L404.50 85.00 Z" fill="#000" stroke="none" stroke-width="0.8"/>
<path d="M411.50 93.20 L415.10 93.20 L413.30 89.90 Z" fill="#000" stroke="none" stroke-width="0.8"/>
<path d="M399.90 94.90 L403.50 94.90 L401.70 91.60 Z" fill="#000" stroke="none" stroke-width="0.8"/>
<path d="M405.60 95.40 L409.20 95.40 L407.40 92.10 Z" fill="#000" stroke="none" stroke-width="0.8"/>
<path d="M392.80 97.60 L396.40 97.60 L394.60 94.30 Z" fill="#000" stroke="none" stroke-width="0.8"/>
<path d="M395.70 99.50 L399.30 99.50 L397.50 96.20 Z" fill="#000" stroke="none" stroke-width="0.8"/>
<path d="M398.20 100.30 L401.80 100.30 L400.00 97.00 Z" fill="#000" stroke="none" stroke-width="0.8"/>
<path d="M400.70 100.70 L404.30 100.70 L402.50 97.40 Z" fill="#000" stroke="none" stroke-width="0.8"/>
<path d="M403.20 100.90 L406.80 100.90 L405.00 97.60 Z" fill="#000" stroke="none" stroke-width="0.8"/>
<path d="M408.20 100.90 L411.80 100.90 L410.00 97.60 Z" fill="#000" stroke="none" stroke-width="0.8"/>
<path d="M410.70 100.70 L414.30 100.70 L412.50 97.40 Z" fill="#000" stroke="none" stroke-width="0.8"/>
<path d="M413.20 100.30 L416.80 100.30 L415.00 97.00 Z" fill="#000" stroke="none" stroke-width="0.8"/>
<path d="M415.70 99.90 L419.30 99.90 L417.50 96.60 Z" fill="#000" stroke="none" stroke-width="0.8"/>
<path d="M418.20 99.50 L421.80 99.50 L420.00 96.20 Z" fill="#000" stroke="none" stroke-width="0.8"/>
<line x1="311.70" y1="27.40" x2="311.70" y2="100.50" stroke="#000" stroke-width="1.1"/>
<line x1="303.50" y1="27.40" x2="319.90" y2="27.40" stroke="#000" stroke-width="1.2"/>
<line x1="359.60" y1="73.90" x2="359.60" y2="100.50" stroke="#000" stroke-width="1.1"/>
<line x1="351.50" y1="73.90" x2="367.70" y2="73.90" stroke="#000" stroke-width="1.2"/>
<line x1="407.60" y1="80.30" x2="407.60" y2="100.50" stroke="#000" stroke-width="1.1"/>
<line x1="399.40" y1="80.30" x2="415.80" y2="80.30" stroke="#000" stroke-width="1.2"/>
<line x1="287.50" y1="135.40" x2="287.50" y2="258.30" stroke="#444" stroke-width="0.9"/>
<line x1="287.50" y1="258.30" x2="472.00" y2="258.30" stroke="#222" stroke-width="1.2"/>
<line x1="283.90" y1="258.30" x2="287.50" y2="258.30" stroke="#444" stroke-width="0.8"/>
<line x1="283.90" y1="227.60" x2="287.50" y2="227.60" stroke="#444" stroke-width="0.8"/>
<line x1="283.90" y1="196.90" x2="287.50" y2="196.90" stroke="#444" stroke-width="0.8"/>
<line x1="283.90" y1="166.20" x2="287.50" y2="166.20" stroke="#444" stroke-width="0.8"/>
<line x1="283.90" y1="135.50" x2="287.50" y2="135.50" stroke="#444" stroke-width="0.8"/>
<line x1="301.40" y1="171.40" x2="301.40" y2="178.40" stroke="#000" stroke-width="1.0"/>
<line x1="298.80" y1="171.40" x2="304.00" y2="171.40" stroke="#000" stroke-width="1.2"/>
<rect x="295.30" y="178.40" width="12.20" height="79.90" fill="#000" stroke="#000" stroke-width="1.0"/>
<line x1="318.05" y1="172.70" x2="318.05" y2="183.60" stroke="#000" stroke-width="1.0"/>
<line x1="315.45" y1="172.70" x2="320.65" y2="172.70" stroke="#000" stroke-width="1.2"/>
<rect x="312.50" y="183.60" width="11.10" height="74.70" fill="#959595" stroke="#000" stroke-width="1.1"/>
<line x1="334.95" y1="154.50" x2="334.95" y2="159.00" stroke="#000" stroke-width="1.0"/>
<line x1="332.35" y1="154.50" x2="337.55" y2="154.50" stroke="#000" stroke-width="1.2"/>
<rect x="329.20" y="159.00" width="11.50" height="99.30" fill="#fff" stroke="#000" stroke-width="1.4"/>
<line x1="362.85" y1="202.00" x2="362.85" y2="208.30" stroke="#000" stroke-width="1.0"/>
<line x1="360.25" y1="202.00" x2="365.45" y2="202.00" stroke="#000" stroke-width="1.2"/>
<rect x="356.70" y="208.30" width="12.30" height="50.00" fill="#000" stroke="#000" stroke-width="1.0"/>
<line x1="379.40" y1="192.20" x2="379.40" y2="202.60" stroke="#000" stroke-width="1.0"/>
<line x1="376.80" y1="192.20" x2="382.00" y2="192.20" stroke="#000" stroke-width="1.2"/>
<rect x="373.60" y="202.60" width="11.60" height="55.70" fill="#959595" stroke="#000" stroke-width="1.1"/>
<line x1="395.85" y1="244.50" x2="395.85" y2="247.20" stroke="#000" stroke-width="1.0"/>
<line x1="393.25" y1="244.50" x2="398.45" y2="244.50" stroke="#000" stroke-width="1.2"/>
<rect x="390.40" y="247.20" width="10.90" height="11.10" fill="#fff" stroke="#000" stroke-width="1.4"/>
<line x1="424.00" y1="249.60" x2="424.00" y2="251.50" stroke="#000" stroke-width="1.0"/>
<line x1="421.40" y1="249.60" x2="426.60" y2="249.60" stroke="#000" stroke-width="1.2"/>
<rect x="417.80" y="251.50" width="12.40" height="6.80" fill="#000" stroke="#000" stroke-width="1.0"/>
<line x1="440.70" y1="249.80" x2="440.70" y2="252.00" stroke="#000" stroke-width="1.0"/>
<line x1="438.10" y1="249.80" x2="443.30" y2="249.80" stroke="#000" stroke-width="1.2"/>
<rect x="434.80" y="252.00" width="11.80" height="6.30" fill="#959595" stroke="#000" stroke-width="1.1"/>
<rect x="451.40" y="217.60" width="11.90" height="40.70" fill="#fff" stroke="#000" stroke-width="1.4"/>
<line x1="317.90" y1="258.30" x2="317.90" y2="262.50" stroke="#111" stroke-width="1.1"/>
<line x1="379.50" y1="258.30" x2="379.50" y2="262.50" stroke="#111" stroke-width="1.1"/>
<line x1="440.70" y1="258.30" x2="440.70" y2="262.50" stroke="#111" stroke-width="1.1"/>
<path d="M301.40 165.90 L301.40 161.90 L317.00 161.90 L317.00 165.90" fill="none" stroke="#1a1a1a" stroke-width="0.9"/>
<path d="M301.40 158.20 L301.40 146.70 L334.90 146.70 L334.90 151.60" fill="none" stroke="#1a1a1a" stroke-width="0.9"/>
<path d="M363.60 183.50 L363.60 179.30 L379.60 179.30 L379.60 183.50" fill="none" stroke="#1a1a1a" stroke-width="0.9"/>
<path d="M363.60 195.20 L363.60 185.40 L395.50 185.40 L395.50 232.30" fill="none" stroke="#1a1a1a" stroke-width="0.9"/>
<path d="M424.10 248.00 L424.10 243.20 L440.40 243.20 L440.40 248.00" fill="none" stroke="#1a1a1a" stroke-width="0.9"/>
<path d="M424.10 243.20 L424.10 200.20 L456.60 200.20 L456.60 209.40" fill="none" stroke="#1a1a1a" stroke-width="0.9"/>
<rect x="401.00" y="131.50" width="9.60" height="4.10" fill="#000" stroke="#000" stroke-width="0.9"/>
<rect x="401.00" y="140.60" width="9.60" height="4.10" fill="#959595" stroke="#000" stroke-width="0.9"/>
<rect x="401.00" y="149.70" width="9.60" height="4.10" fill="#fff" stroke="#000" stroke-width="0.9"/>
<line x1="284.80" y1="291.50" x2="284.80" y2="444.20" stroke="#444" stroke-width="0.9"/>
<line x1="284.80" y1="444.20" x2="511.50" y2="444.20" stroke="#333" stroke-width="1.0"/>
<line x1="281.20" y1="444.20" x2="284.80" y2="444.20" stroke="#444" stroke-width="0.8"/>
<line x1="281.20" y1="367.92" x2="284.80" y2="367.92" stroke="#444" stroke-width="0.8"/>
<line x1="281.20" y1="291.65" x2="284.80" y2="291.65" stroke="#444" stroke-width="0.8"/>
<line x1="298.00" y1="335.80" x2="298.00" y2="351.40" stroke="#000" stroke-width="1.0"/>
<line x1="295.60" y1="335.80" x2="300.40" y2="335.80" stroke="#000" stroke-width="1.2"/>
<rect x="293.40" y="351.40" width="9.20" height="92.80" fill="#000" stroke="#000" stroke-width="1.0"/>
<line x1="307.80" y1="330.60" x2="307.80" y2="348.00" stroke="#000" stroke-width="1.0"/>
<line x1="305.40" y1="330.60" x2="310.20" y2="330.60" stroke="#000" stroke-width="1.2"/>
<rect x="303.20" y="348.00" width="9.20" height="96.20" fill="#959595" stroke="#000" stroke-width="1.0"/>
<line x1="318.50" y1="398.20" x2="318.50" y2="423.20" stroke="#000" stroke-width="1.0"/>
<line x1="316.10" y1="398.20" x2="320.90" y2="398.20" stroke="#000" stroke-width="1.2"/>
<rect x="313.90" y="423.20" width="9.20" height="21.00" fill="#fff" stroke="#000" stroke-width="1.3"/>
<line x1="345.00" y1="399.50" x2="345.00" y2="408.60" stroke="#000" stroke-width="1.0"/>
<line x1="342.60" y1="399.50" x2="347.40" y2="399.50" stroke="#000" stroke-width="1.2"/>
<rect x="340.40" y="408.60" width="9.20" height="35.60" fill="#000" stroke="#000" stroke-width="1.0"/>
<line x1="354.60" y1="408.60" x2="354.60" y2="414.30" stroke="#000" stroke-width="1.0"/>
<line x1="352.20" y1="408.60" x2="357.00" y2="408.60" stroke="#000" stroke-width="1.2"/>
<rect x="350.00" y="414.30" width="9.20" height="29.90" fill="#959595" stroke="#000" stroke-width="1.0"/>
<line x1="364.40" y1="294.30" x2="364.40" y2="308.60" stroke="#000" stroke-width="1.0"/>
<line x1="362.00" y1="294.30" x2="366.80" y2="294.30" stroke="#000" stroke-width="1.2"/>
<rect x="359.80" y="308.60" width="9.20" height="135.60" fill="#fff" stroke="#000" stroke-width="1.3"/>
<line x1="390.00" y1="318.40" x2="390.00" y2="323.60" stroke="#000" stroke-width="1.0"/>
<line x1="387.60" y1="318.40" x2="392.40" y2="318.40" stroke="#000" stroke-width="1.2"/>
<rect x="385.40" y="323.60" width="9.20" height="120.60" fill="#000" stroke="#000" stroke-width="1.0"/>
<line x1="399.60" y1="313.20" x2="399.60" y2="321.60" stroke="#000" stroke-width="1.0"/>
<line x1="397.20" y1="313.20" x2="402.00" y2="313.20" stroke="#000" stroke-width="1.2"/>
<rect x="395.00" y="321.60" width="9.20" height="122.60" fill="#959595" stroke="#000" stroke-width="1.0"/>
<line x1="410.00" y1="387.80" x2="410.00" y2="404.20" stroke="#000" stroke-width="1.0"/>
<line x1="407.60" y1="387.80" x2="412.40" y2="387.80" stroke="#000" stroke-width="1.2"/>
<rect x="405.40" y="404.20" width="9.20" height="40.00" fill="#fff" stroke="#000" stroke-width="1.3"/>
<line x1="435.80" y1="426.80" x2="435.80" y2="431.20" stroke="#000" stroke-width="1.0"/>
<line x1="433.40" y1="426.80" x2="438.20" y2="426.80" stroke="#000" stroke-width="1.2"/>
<rect x="431.20" y="431.20" width="9.20" height="13.00" fill="#000" stroke="#000" stroke-width="1.0"/>
<line x1="445.40" y1="430.00" x2="445.40" y2="435.80" stroke="#000" stroke-width="1.0"/>
<line x1="443.00" y1="430.00" x2="447.80" y2="430.00" stroke="#000" stroke-width="1.2"/>
<rect x="440.80" y="435.80" width="9.20" height="8.40" fill="#959595" stroke="#000" stroke-width="1.0"/>
<line x1="455.80" y1="354.80" x2="455.80" y2="377.40" stroke="#000" stroke-width="1.0"/>
<line x1="453.40" y1="354.80" x2="458.20" y2="354.80" stroke="#000" stroke-width="1.2"/>
<rect x="451.20" y="377.40" width="9.20" height="66.80" fill="#fff" stroke="#000" stroke-width="1.3"/>
<line x1="481.50" y1="424.30" x2="481.50" y2="429.80" stroke="#000" stroke-width="1.0"/>
<line x1="479.10" y1="424.30" x2="483.90" y2="424.30" stroke="#000" stroke-width="1.2"/>
<rect x="476.90" y="429.80" width="9.20" height="14.40" fill="#000" stroke="#000" stroke-width="1.0"/>
<line x1="491.80" y1="420.90" x2="491.80" y2="423.40" stroke="#000" stroke-width="1.0"/>
<line x1="489.40" y1="420.90" x2="494.20" y2="420.90" stroke="#000" stroke-width="1.2"/>
<rect x="487.20" y="423.40" width="9.20" height="20.80" fill="#959595" stroke="#000" stroke-width="1.0"/>
<line x1="502.00" y1="348.40" x2="502.00" y2="364.30" stroke="#000" stroke-width="1.0"/>
<line x1="499.60" y1="348.40" x2="504.40" y2="348.40" stroke="#000" stroke-width="1.2"/>
<rect x="497.40" y="364.30" width="9.20" height="79.90" fill="#fff" stroke="#000" stroke-width="1.3"/>
<line x1="308.00" y1="444.20" x2="308.00" y2="448.20" stroke="#333" stroke-width="0.9"/>
<line x1="353.80" y1="444.20" x2="353.80" y2="448.20" stroke="#333" stroke-width="0.9"/>
<line x1="400.30" y1="444.20" x2="400.30" y2="448.20" stroke="#333" stroke-width="0.9"/>
<line x1="445.50" y1="444.20" x2="445.50" y2="448.20" stroke="#333" stroke-width="0.9"/>
<line x1="491.60" y1="444.20" x2="491.60" y2="448.20" stroke="#333" stroke-width="0.9"/>
<path d="M297.90 326.20 L297.90 321.60 L307.00 321.60 L307.00 326.20" fill="none" stroke="#1a1a1a" stroke-width="0.9"/>
<path d="M301.80 321.60 L301.80 312.50 L317.90 312.50 L317.90 386.50" fill="none" stroke="#1a1a1a" stroke-width="0.9"/>
<path d="M345.40 383.90 L345.40 380.00 L355.00 380.00 L355.00 383.90" fill="none" stroke="#1a1a1a" stroke-width="0.9"/>
<path d="M349.80 380.00 L349.80 283.90 L363.60 283.90 L363.60 291.70" fill="none" stroke="#1a1a1a" stroke-width="0.9"/>
<path d="M391.60 310.80 L391.60 307.60 L401.00 307.60 L401.00 310.80" fill="none" stroke="#1a1a1a" stroke-width="0.9"/>
<path d="M392.80 307.60 L392.80 298.70 L408.40 298.70 L408.40 378.70" fill="none" stroke="#1a1a1a" stroke-width="0.9"/>
<path d="M437.00 412.50 L437.00 407.80 L446.00 407.80 L446.00 412.50" fill="none" stroke="#1a1a1a" stroke-width="0.9"/>
<path d="M440.80 407.80 L440.80 342.30 L455.10 342.30 L455.10 349.60" fill="none" stroke="#1a1a1a" stroke-width="0.9"/>
<path d="M481.90 405.30 L481.90 400.20 L491.60 400.20 L491.60 405.30" fill="none" stroke="#1a1a1a" stroke-width="0.9"/>
<path d="M486.70 400.20 L486.70 336.70 L500.90 336.70 L500.90 343.80" fill="none" stroke="#1a1a1a" stroke-width="0.9"/>
<rect x="432.40" y="304.10" width="9.60" height="4.10" fill="#000" stroke="#000" stroke-width="0.9"/>
<rect x="432.40" y="314.40" width="9.60" height="4.10" fill="#959595" stroke="#000" stroke-width="0.9"/>
<rect x="432.40" y="324.70" width="9.60" height="4.10" fill="#fff" stroke="#000" stroke-width="0.9"/>
<path d="M75.80 633.00 C75.80 630.67 75.35 621.58 75.80 619.00 C76.25 616.42 77.63 617.83 78.50 617.50 C79.37 617.17 80.17 617.75 81.00 617.00 C81.83 616.25 82.67 615.33 83.50 613.00 C84.33 610.67 85.20 607.07 86.00 603.00 C86.80 598.93 87.47 594.15 88.30 588.60 C89.13 583.05 90.10 576.43 91.00 569.70 C91.90 562.97 92.80 554.48 93.70 548.20 C94.60 541.92 95.50 537.40 96.40 532.00 C97.30 526.60 98.20 520.75 99.10 515.80 C100.00 510.85 100.90 505.67 101.80 502.30 C102.70 498.93 103.60 497.17 104.50 495.60 C105.40 494.03 106.30 492.67 107.20 492.90 C108.10 493.13 109.23 497.00 109.90 497.00 C110.57 497.00 110.53 493.35 111.20 492.90 C111.87 492.45 113.08 492.28 113.90 494.30 C114.72 496.32 115.42 504.55 116.10 505.00 C116.78 505.45 117.25 495.65 118.00 497.00 C118.75 498.35 119.72 508.17 120.60 513.10 C121.48 518.03 122.40 523.00 123.30 526.60 C124.20 530.20 125.32 530.65 126.00 534.70 C126.68 538.75 126.72 544.62 127.40 550.90 C128.08 557.18 129.20 565.67 130.10 572.40 C131.00 579.13 131.90 585.45 132.80 591.30 C133.70 597.15 134.60 602.57 135.50 607.50 C136.40 612.43 137.30 617.53 138.20 620.90 C139.10 624.27 139.78 625.90 140.90 627.70 C142.02 629.50 143.72 630.82 144.90 631.70 C146.08 632.58 147.48 632.78 148.00 633.00 Z" fill="#4a4a4a" stroke="none" stroke-width="0.8"/>
<path d="M152.00 633.00 C152.25 632.78 152.68 634.23 153.50 631.70 C154.32 629.17 155.87 622.82 156.90 617.80 C157.93 612.78 158.73 603.13 159.70 601.60 C160.67 600.07 161.82 608.20 162.70 608.60 C163.58 609.00 164.35 611.70 165.00 604.00 C165.65 596.30 166.10 575.12 166.60 562.40 C167.10 549.68 167.50 537.72 168.00 527.70 C168.50 517.68 168.95 508.25 169.60 502.30 C170.25 496.35 171.13 492.00 171.90 492.00 C172.67 492.00 173.42 494.42 174.20 502.30 C174.98 510.18 175.82 525.43 176.60 539.30 C177.38 553.17 178.13 572.42 178.90 585.50 C179.67 598.58 180.25 610.48 181.20 617.80 C182.15 625.12 183.25 627.08 184.60 629.40 C185.95 631.72 188.07 631.10 189.30 631.70 C190.53 632.30 191.55 632.78 192.00 633.00 Z" fill="#b3b3b3" stroke="none" stroke-width="0.8"/>
<path d="M77.00 616.00 C77.50 616.08 78.92 617.25 80.00 616.50 C81.08 615.75 82.42 614.25 83.50 611.50 C84.58 608.75 85.42 606.08 86.50 600.00 C87.58 593.92 88.92 582.83 90.00 575.00 C91.08 567.17 92.00 560.00 93.00 553.00 C94.00 546.00 95.00 539.50 96.00 533.00 C97.00 526.50 98.00 519.50 99.00 514.00 C100.00 508.50 101.00 503.67 102.00 500.00 C103.00 496.33 104.00 493.75 105.00 492.00 C106.00 490.25 107.00 489.83 108.00 489.50 C109.00 489.17 110.00 489.42 111.00 490.00 C112.00 490.58 113.00 491.33 114.00 493.00 C115.00 494.67 116.00 496.83 117.00 500.00 C118.00 503.17 119.00 508.00 120.00 512.00 C121.00 516.00 122.00 519.33 123.00 524.00 C124.00 528.67 125.00 533.67 126.00 540.00 C127.00 546.33 128.00 554.50 129.00 562.00 C130.00 569.50 131.00 578.17 132.00 585.00 C133.00 591.83 134.00 597.50 135.00 603.00 C136.00 608.50 137.00 614.17 138.00 618.00 C139.00 621.83 139.83 623.83 141.00 626.00 C142.17 628.17 144.33 630.17 145.00 631.00" fill="none" stroke="#000" stroke-width="1.0" stroke-dasharray="1 1"/>
<path d="M128.00 632.50 C128.80 632.37 131.55 633.63 132.80 631.70 C134.05 629.77 134.60 626.28 135.50 620.90 C136.40 615.52 137.40 606.58 138.20 599.40 C139.00 592.22 139.72 585.88 140.30 577.80 C140.88 569.72 141.15 559.88 141.70 550.90 C142.25 541.92 142.93 531.55 143.60 523.90 C144.27 516.25 145.03 509.72 145.70 505.00 C146.37 500.28 146.97 497.83 147.60 495.60 C148.23 493.37 148.83 491.37 149.50 491.60 C150.17 491.83 151.02 494.32 151.60 497.00 C152.18 499.68 152.45 504.57 153.00 507.70 C153.55 510.83 154.23 510.40 154.90 515.80 C155.57 521.20 156.20 530.67 157.00 540.10 C157.80 549.53 158.88 563.87 159.70 572.40 C160.52 580.93 161.22 585.45 161.90 591.30 C162.58 597.15 163.03 603.47 163.80 607.50 C164.57 611.53 165.38 613.27 166.50 615.50 C167.62 617.73 169.15 619.55 170.50 620.90 C171.85 622.25 173.25 622.25 174.60 623.60 C175.95 624.95 177.03 627.65 178.60 629.00 C180.17 630.35 181.77 631.03 184.00 631.70 C186.23 632.37 190.67 632.78 192.00 633.00" fill="none" stroke="#111" stroke-width="0.9"/>
<path d="M112.00 632.50 C113.33 632.25 117.50 631.58 120.00 631.00 C122.50 630.42 125.17 629.58 127.00 629.00 C128.83 628.42 129.83 628.33 131.00 627.50 C132.17 626.67 133.00 626.92 134.00 624.00 C135.00 621.08 136.08 616.00 137.00 610.00 C137.92 604.00 138.83 595.50 139.50 588.00 C140.17 580.50 140.50 573.00 141.00 565.00 C141.50 557.00 142.00 547.83 142.50 540.00 C143.00 532.17 143.42 524.17 144.00 518.00 C144.58 511.83 145.33 507.00 146.00 503.00 C146.67 499.00 147.33 495.75 148.00 494.00 C148.67 492.25 149.33 491.33 150.00 492.50 C150.67 493.67 151.33 497.75 152.00 501.00 C152.67 504.25 153.33 507.17 154.00 512.00 C154.67 516.83 155.33 522.67 156.00 530.00 C156.67 537.33 157.33 547.67 158.00 556.00 C158.67 564.33 159.33 573.00 160.00 580.00 C160.67 587.00 161.33 593.00 162.00 598.00 C162.67 603.00 163.17 606.67 164.00 610.00 C164.83 613.33 165.67 615.67 167.00 618.00 C168.33 620.33 170.17 622.17 172.00 624.00 C173.83 625.83 175.67 627.67 178.00 629.00 C180.33 630.33 184.67 631.50 186.00 632.00" fill="none" stroke="#000" stroke-width="0.9" stroke-dasharray="0.9 0.9"/>
<rect x="75.60" y="480.90" width="195.20" height="152.10" fill="none" stroke="#222" stroke-width="0.9"/>
<line x1="70.90" y1="633.00" x2="75.60" y2="633.00" stroke="#222" stroke-width="0.9"/>
<line x1="70.90" y1="604.04" x2="75.60" y2="604.04" stroke="#222" stroke-width="0.9"/>
<line x1="70.90" y1="575.08" x2="75.60" y2="575.08" stroke="#222" stroke-width="0.9"/>
<line x1="70.90" y1="546.12" x2="75.60" y2="546.12" stroke="#222" stroke-width="0.9"/>
<line x1="70.90" y1="517.16" x2="75.60" y2="517.16" stroke="#222" stroke-width="0.9"/>
<line x1="70.90" y1="488.20" x2="75.60" y2="488.20" stroke="#222" stroke-width="0.9"/>
<line x1="73.60" y1="625.76" x2="75.60" y2="625.76" stroke="#222" stroke-width="0.7"/>
<line x1="73.60" y1="618.52" x2="75.60" y2="618.52" stroke="#222" stroke-width="0.7"/>
<line x1="73.60" y1="611.28" x2="75.60" y2="611.28" stroke="#222" stroke-width="0.7"/>
<line x1="73.60" y1="596.80" x2="75.60" y2="596.80" stroke="#222" stroke-width="0.7"/>
<line x1="73.60" y1="589.56" x2="75.60" y2="589.56" stroke="#222" stroke-width="0.7"/>
<line x1="73.60" y1="582.32" x2="75.60" y2="582.32" stroke="#222" stroke-width="0.7"/>
<line x1="73.60" y1="567.84" x2="75.60" y2="567.84" stroke="#222" stroke-width="0.7"/>
<line x1="73.60" y1="560.60" x2="75.60" y2="560.60" stroke="#222" stroke-width="0.7"/>
<line x1="73.60" y1="553.36" x2="75.60" y2="553.36" stroke="#222" stroke-width="0.7"/>
<line x1="73.60" y1="538.88" x2="75.60" y2="538.88" stroke="#222" stroke-width="0.7"/>
<line x1="73.60" y1="531.64" x2="75.60" y2="531.64" stroke="#222" stroke-width="0.7"/>
<line x1="73.60" y1="524.40" x2="75.60" y2="524.40" stroke="#222" stroke-width="0.7"/>
<line x1="73.60" y1="509.92" x2="75.60" y2="509.92" stroke="#222" stroke-width="0.7"/>
<line x1="73.60" y1="502.68" x2="75.60" y2="502.68" stroke="#222" stroke-width="0.7"/>
<line x1="73.60" y1="495.44" x2="75.60" y2="495.44" stroke="#222" stroke-width="0.7"/>
<line x1="76.70" y1="633.00" x2="76.70" y2="636.20" stroke="#222" stroke-width="0.8"/>
<line x1="88.38" y1="633.00" x2="88.38" y2="634.80" stroke="#222" stroke-width="0.6"/>
<line x1="95.21" y1="633.00" x2="95.21" y2="634.80" stroke="#222" stroke-width="0.6"/>
<line x1="100.06" y1="633.00" x2="100.06" y2="634.80" stroke="#222" stroke-width="0.6"/>
<line x1="103.82" y1="633.00" x2="103.82" y2="634.80" stroke="#222" stroke-width="0.6"/>
<line x1="106.89" y1="633.00" x2="106.89" y2="634.80" stroke="#222" stroke-width="0.6"/>
<line x1="109.49" y1="633.00" x2="109.49" y2="634.80" stroke="#222" stroke-width="0.6"/>
<line x1="111.74" y1="633.00" x2="111.74" y2="634.80" stroke="#222" stroke-width="0.6"/>
<line x1="113.72" y1="633.00" x2="113.72" y2="634.80" stroke="#222" stroke-width="0.6"/>
<line x1="115.50" y1="633.00" x2="115.50" y2="636.20" stroke="#222" stroke-width="0.8"/>
<line x1="127.18" y1="633.00" x2="127.18" y2="634.80" stroke="#222" stroke-width="0.6"/>
<line x1="134.01" y1="633.00" x2="134.01" y2="634.80" stroke="#222" stroke-width="0.6"/>
<line x1="138.86" y1="633.00" x2="138.86" y2="634.80" stroke="#222" stroke-width="0.6"/>
<line x1="142.62" y1="633.00" x2="142.62" y2="634.80" stroke="#222" stroke-width="0.6"/>
<line x1="145.69" y1="633.00" x2="145.69" y2="634.80" stroke="#222" stroke-width="0.6"/>
<line x1="148.29" y1="633.00" x2="148.29" y2="634.80" stroke="#222" stroke-width="0.6"/>
<line x1="150.54" y1="633.00" x2="150.54" y2="634.80" stroke="#222" stroke-width="0.6"/>
<line x1="152.52" y1="633.00" x2="152.52" y2="634.80" stroke="#222" stroke-width="0.6"/>
<line x1="154.30" y1="633.00" x2="154.30" y2="636.20" stroke="#222" stroke-width="0.8"/>
<line x1="165.98" y1="633.00" x2="165.98" y2="634.80" stroke="#222" stroke-width="0.6"/>
<line x1="172.81" y1="633.00" x2="172.81" y2="634.80" stroke="#222" stroke-width="0.6"/>
<line x1="177.66" y1="633.00" x2="177.66" y2="634.80" stroke="#222" stroke-width="0.6"/>
<line x1="181.42" y1="633.00" x2="181.42" y2="634.80" stroke="#222" stroke-width="0.6"/>
<line x1="184.49" y1="633.00" x2="184.49" y2="634.80" stroke="#222" stroke-width="0.6"/>
<line x1="187.09" y1="633.00" x2="187.09" y2="634.80" stroke="#222" stroke-width="0.6"/>
<line x1="189.34" y1="633.00" x2="189.34" y2="634.80" stroke="#222" stroke-width="0.6"/>
<line x1="191.32" y1="633.00" x2="191.32" y2="634.80" stroke="#222" stroke-width="0.6"/>
<line x1="193.10" y1="633.00" x2="193.10" y2="636.20" stroke="#222" stroke-width="0.8"/>
<line x1="204.78" y1="633.00" x2="204.78" y2="634.80" stroke="#222" stroke-width="0.6"/>
<line x1="211.61" y1="633.00" x2="211.61" y2="634.80" stroke="#222" stroke-width="0.6"/>
<line x1="216.46" y1="633.00" x2="216.46" y2="634.80" stroke="#222" stroke-width="0.6"/>
<line x1="220.22" y1="633.00" x2="220.22" y2="634.80" stroke="#222" stroke-width="0.6"/>
<line x1="223.29" y1="633.00" x2="223.29" y2="634.80" stroke="#222" stroke-width="0.6"/>
<line x1="225.89" y1="633.00" x2="225.89" y2="634.80" stroke="#222" stroke-width="0.6"/>
<line x1="228.14" y1="633.00" x2="228.14" y2="634.80" stroke="#222" stroke-width="0.6"/>
<line x1="230.12" y1="633.00" x2="230.12" y2="634.80" stroke="#222" stroke-width="0.6"/>
<line x1="231.90" y1="633.00" x2="231.90" y2="636.20" stroke="#222" stroke-width="0.8"/>
<line x1="243.58" y1="633.00" x2="243.58" y2="634.80" stroke="#222" stroke-width="0.6"/>
<line x1="250.41" y1="633.00" x2="250.41" y2="634.80" stroke="#222" stroke-width="0.6"/>
<line x1="255.26" y1="633.00" x2="255.26" y2="634.80" stroke="#222" stroke-width="0.6"/>
<line x1="259.02" y1="633.00" x2="259.02" y2="634.80" stroke="#222" stroke-width="0.6"/>
<line x1="262.09" y1="633.00" x2="262.09" y2="634.80" stroke="#222" stroke-width="0.6"/>
<line x1="264.69" y1="633.00" x2="264.69" y2="634.80" stroke="#222" stroke-width="0.6"/>
<line x1="266.94" y1="633.00" x2="266.94" y2="634.80" stroke="#222" stroke-width="0.6"/>
<line x1="268.92" y1="633.00" x2="268.92" y2="634.80" stroke="#222" stroke-width="0.6"/>
<line x1="101.20" y1="640.50" x2="121.50" y2="640.50" stroke="#000" stroke-width="1.2"/>
<path d="M120.5 638.2 L120.5 642.8 L125.5 640.5 Z" fill="#000" stroke="none" stroke-width="0.8"/>
<line x1="98.00" y1="488.50" x2="104.00" y2="499.00" stroke="#333" stroke-width="0.5"/>
<line x1="106.50" y1="488.50" x2="105.00" y2="495.00" stroke="#333" stroke-width="0.5"/>
<line x1="121.00" y1="492.00" x2="116.00" y2="500.00" stroke="#333" stroke-width="0.5"/>
<line x1="120.50" y1="492.00" x2="113.50" y2="497.00" stroke="#333" stroke-width="0.5"/>
<line x1="159.50" y1="484.00" x2="153.00" y2="491.00" stroke="#333" stroke-width="0.5"/>
<line x1="159.00" y1="491.00" x2="152.50" y2="497.00" stroke="#333" stroke-width="0.5"/>
<line x1="180.00" y1="499.50" x2="174.00" y2="504.00" stroke="#333" stroke-width="0.5"/>
<line x1="66.61" y1="673.00" x2="70.59" y2="687.34" stroke="#a9a9bb" stroke-width="0.5"/>
<line x1="68.80" y1="676.10" x2="71.69" y2="687.34" stroke="#a9a9bb" stroke-width="0.5"/>
<line x1="49.71" y1="679.70" x2="70.13" y2="687.35" stroke="#a9a9bb" stroke-width="0.5"/>
<line x1="33.61" y1="686.40" x2="69.58" y2="687.36" stroke="#a9a9bb" stroke-width="0.5"/>
<line x1="30.21" y1="694.80" x2="68.57" y2="687.40" stroke="#a9a9bb" stroke-width="0.5"/>
<line x1="91.10" y1="681.40" x2="72.91" y2="687.37" stroke="#a9a9bb" stroke-width="0.5"/>
<line x1="102.20" y1="687.10" x2="75.98" y2="687.59" stroke="#a9a9bb" stroke-width="0.5"/>
<line x1="109.90" y1="693.50" x2="78.82" y2="687.97" stroke="#a9a9bb" stroke-width="0.5"/>
<line x1="116.70" y1="700.90" x2="80.48" y2="688.28" stroke="#a9a9bb" stroke-width="0.5"/>
<line x1="121.40" y1="707.00" x2="83.44" y2="688.98" stroke="#a9a9bb" stroke-width="0.5"/>
<line x1="124.80" y1="713.40" x2="85.10" y2="689.47" stroke="#a9a9bb" stroke-width="0.5"/>
<line x1="126.80" y1="720.40" x2="87.50" y2="690.29" stroke="#a9a9bb" stroke-width="0.5"/>
<line x1="128.10" y1="727.20" x2="90.36" y2="691.46" stroke="#a9a9bb" stroke-width="0.5"/>
<line x1="128.10" y1="733.90" x2="91.25" y2="691.86" stroke="#a9a9bb" stroke-width="0.5"/>
<line x1="128.10" y1="739.30" x2="91.74" y2="692.10" stroke="#a9a9bb" stroke-width="0.5"/>
<line x1="126.80" y1="745.30" x2="92.65" y2="692.55" stroke="#a9a9bb" stroke-width="0.5"/>
<line x1="125.80" y1="752.10" x2="93.41" y2="692.95" stroke="#a9a9bb" stroke-width="0.5"/>
<line x1="123.40" y1="758.80" x2="93.70" y2="693.11" stroke="#a9a9bb" stroke-width="0.5"/>
<line x1="121.40" y1="764.90" x2="94.00" y2="693.27" stroke="#a9a9bb" stroke-width="0.5"/>
<line x1="119.00" y1="770.60" x2="94.30" y2="693.44" stroke="#a9a9bb" stroke-width="0.5"/>
<line x1="113.30" y1="777.30" x2="94.59" y2="693.60" stroke="#a9a9bb" stroke-width="0.5"/>
<line x1="107.90" y1="784.10" x2="94.89" y2="693.77" stroke="#a9a9bb" stroke-width="0.5"/>
<line x1="87.70" y1="790.80" x2="95.18" y2="693.95" stroke="#a9a9bb" stroke-width="0.5"/>
<path d="M71.10 737.00 L67.80 685.91 A49.80 51.20 0 0 1 69.19 685.84 Z" fill="#3a3a48" stroke="#fff" stroke-width="0.35" stroke-linejoin="round"/>
<path d="M71.10 737.00 L69.19 685.84 A49.80 51.20 0 0 1 69.88 685.82 Z" fill="#a8b8d0" stroke="#fff" stroke-width="0.35" stroke-linejoin="round"/>
<path d="M71.10 737.00 L69.88 685.82 A49.80 51.20 0 0 1 70.32 685.81 Z" fill="#eeeef4" stroke="#fff" stroke-width="0.35" stroke-linejoin="round"/>
<path d="M71.10 737.00 L70.32 685.81 A49.80 51.20 0 0 1 70.84 685.80 Z" fill="#e0e0ea" stroke="#fff" stroke-width="0.35" stroke-linejoin="round"/>
<path d="M71.10 737.00 L70.84 685.80 A49.80 51.20 0 0 1 72.58 685.82 Z" fill="#b05a50" stroke="#fff" stroke-width="0.35" stroke-linejoin="round"/>
<path d="M71.10 737.00 L72.58 685.82 A49.80 51.20 0 0 1 73.36 685.85 Z" fill="#e8e8f0" stroke="#fff" stroke-width="0.35" stroke-linejoin="round"/>
<path d="M71.10 737.00 L73.36 685.85 A49.80 51.20 0 0 1 78.89 686.43 Z" fill="#62a8dc" stroke="#fff" stroke-width="0.35" stroke-linejoin="round"/>
<path d="M71.10 737.00 L78.89 686.43 A49.80 51.20 0 0 1 79.23 686.49 Z" fill="#f0f0f4" stroke="#fff" stroke-width="0.35" stroke-linejoin="round"/>
<path d="M71.10 737.00 L79.23 686.49 A49.80 51.20 0 0 1 82.30 687.11 Z" fill="#1c2450" stroke="#fff" stroke-width="0.35" stroke-linejoin="round"/>
<path d="M71.10 737.00 L82.30 687.11 A49.80 51.20 0 0 1 85.33 687.93 Z" fill="#e6d8f0" stroke="#fff" stroke-width="0.35" stroke-linejoin="round"/>
<path d="M71.10 737.00 L85.33 687.93 A49.80 51.20 0 0 1 85.74 688.06 Z" fill="#f4f4f8" stroke="#fff" stroke-width="0.35" stroke-linejoin="round"/>
<path d="M71.10 737.00 L85.74 688.06 A49.80 51.20 0 0 1 90.24 689.73 Z" fill="#2e2064" stroke="#fff" stroke-width="0.35" stroke-linejoin="round"/>
<path d="M71.10 737.00 L90.24 689.73 A49.80 51.20 0 0 1 91.67 690.37 Z" fill="#d0c0ec" stroke="#fff" stroke-width="0.35" stroke-linejoin="round"/>
<path d="M71.10 737.00 L91.67 690.37 A49.80 51.20 0 0 1 92.07 690.56 Z" fill="#f0f0f4" stroke="#fff" stroke-width="0.35" stroke-linejoin="round"/>
<path d="M71.10 737.00 L92.07 690.56 A49.80 51.20 0 0 1 92.70 690.86 Z" fill="#e0d0e8" stroke="#fff" stroke-width="0.35" stroke-linejoin="round"/>
<path d="M71.10 737.00 L92.70 690.86 A49.80 51.20 0 0 1 93.94 691.50 Z" fill="#a06a4a" stroke="#fff" stroke-width="0.35" stroke-linejoin="round"/>
<path d="M71.10 737.00 L93.94 691.50 A49.80 51.20 0 0 1 94.25 691.67 Z" fill="#d0d0d8" stroke="#fff" stroke-width="0.35" stroke-linejoin="round"/>
<path d="M71.10 737.00 L94.25 691.67 A49.80 51.20 0 0 1 94.56 691.84 Z" fill="#e8e8ee" stroke="#fff" stroke-width="0.35" stroke-linejoin="round"/>
<path d="M71.10 737.00 L94.56 691.84 A49.80 51.20 0 0 1 94.86 692.00 Z" fill="#d0d0d8" stroke="#fff" stroke-width="0.35" stroke-linejoin="round"/>
<path d="M71.10 737.00 L94.86 692.00 A49.80 51.20 0 0 1 95.17 692.18 Z" fill="#e8e8ee" stroke="#fff" stroke-width="0.35" stroke-linejoin="round"/>
<path d="M71.10 737.00 L95.17 692.18 A49.80 51.20 0 0 1 95.47 692.35 Z" fill="#d0d0d8" stroke="#fff" stroke-width="0.35" stroke-linejoin="round"/>
<path d="M71.10 737.00 L95.47 692.35 A49.80 51.20 0 0 1 95.77 692.53 Z" fill="#e8e8ee" stroke="#fff" stroke-width="0.35" stroke-linejoin="round"/>
<path d="M71.10 737.00 L95.77 692.53 A49.80 51.20 0 0 1 96.08 692.70 Z" fill="#d8d8e0" stroke="#fff" stroke-width="0.35" stroke-linejoin="round"/>
<path d="M71.10 737.00 L96.08 692.70 A49.80 51.20 0 1 1 67.80 685.91 Z" fill="#a6c45b" stroke="#fff" stroke-width="0.35" stroke-linejoin="round"/>
<line x1="60.50" y1="797.50" x2="62.50" y2="790.50" stroke="#a9a9bb" stroke-width="0.5"/>
<line x1="253.81" y1="679.40" x2="251.02" y2="689.88" stroke="#a9a9bb" stroke-width="0.5"/>
<line x1="258.00" y1="675.00" x2="258.06" y2="689.66" stroke="#a9a9bb" stroke-width="0.5"/>
<line x1="231.51" y1="682.70" x2="243.52" y2="691.18" stroke="#a9a9bb" stroke-width="0.5"/>
<line x1="218.11" y1="690.50" x2="239.61" y2="692.32" stroke="#a9a9bb" stroke-width="0.5"/>
<line x1="210.31" y1="696.80" x2="238.23" y2="692.81" stroke="#a9a9bb" stroke-width="0.5"/>
<line x1="205.01" y1="702.50" x2="237.24" y2="693.18" stroke="#a9a9bb" stroke-width="0.5"/>
<line x1="201.21" y1="709.50" x2="224.84" y2="700.12" stroke="#a9a9bb" stroke-width="0.5"/>
<line x1="196.51" y1="716.50" x2="208.44" y2="722.05" stroke="#a9a9bb" stroke-width="0.5"/>
<line x1="196.51" y1="734.30" x2="205.51" y2="742.47" stroke="#a9a9bb" stroke-width="0.5"/>
<line x1="195.51" y1="742.20" x2="206.67" y2="749.98" stroke="#a9a9bb" stroke-width="0.5"/>
<line x1="194.01" y1="751.20" x2="207.34" y2="752.48" stroke="#a9a9bb" stroke-width="0.5"/>
<line x1="196.51" y1="758.20" x2="208.29" y2="755.35" stroke="#a9a9bb" stroke-width="0.5"/>
<line x1="200.31" y1="763.90" x2="209.24" y2="757.76" stroke="#a9a9bb" stroke-width="0.5"/>
<line x1="206.11" y1="770.30" x2="210.91" y2="761.27" stroke="#a9a9bb" stroke-width="0.5"/>
<line x1="209.82" y1="777.20" x2="212.52" y2="764.09" stroke="#a9a9bb" stroke-width="0.5"/>
<line x1="217.31" y1="785.70" x2="213.57" y2="765.74" stroke="#a9a9bb" stroke-width="0.5"/>
<line x1="237.71" y1="792.40" x2="215.05" y2="767.83" stroke="#a9a9bb" stroke-width="0.5"/>
<line x1="258.71" y1="803.80" x2="245.24" y2="787.02" stroke="#a9a9bb" stroke-width="0.5"/>
<line x1="282.10" y1="683.50" x2="261.25" y2="689.87" stroke="#a9a9bb" stroke-width="0.5"/>
<line x1="294.10" y1="690.40" x2="269.27" y2="691.28" stroke="#a9a9bb" stroke-width="0.5"/>
<line x1="309.20" y1="706.50" x2="299.58" y2="713.23" stroke="#a9a9bb" stroke-width="0.5"/>
<line x1="309.20" y1="775.00" x2="298.80" y2="765.77" stroke="#a9a9bb" stroke-width="0.5"/>
<path d="M256.20 738.90 L255.47 688.10 A52.40 50.80 0 0 1 260.77 688.29 Z" fill="#4f80c8" stroke="#fff" stroke-width="0.55" stroke-linejoin="round"/>
<path d="M256.20 738.90 L260.77 688.29 A52.40 50.80 0 0 1 262.04 688.42 Z" fill="#e8ecd8" stroke="#fff" stroke-width="0.55" stroke-linejoin="round"/>
<path d="M256.20 738.90 L262.04 688.42 A52.40 50.80 0 0 1 277.01 692.28 Z" fill="#8bc455" stroke="#fff" stroke-width="0.55" stroke-linejoin="round"/>
<path d="M256.20 738.90 L277.01 692.28 A52.40 50.80 0 0 1 308.48 742.27 Z" fill="#8a1c1c" stroke="#fff" stroke-width="0.55" stroke-linejoin="round"/>
<path d="M256.20 738.90 L308.48 742.27 A52.40 50.80 0 0 1 280.56 783.88 Z" fill="#5fb3de" stroke="#fff" stroke-width="0.55" stroke-linejoin="round"/>
<path d="M256.20 738.90 L280.56 783.88 A52.40 50.80 0 0 1 214.57 769.75 Z" fill="#3d2b84" stroke="#fff" stroke-width="0.55" stroke-linejoin="round"/>
<path d="M256.20 738.90 L214.57 769.75 A52.40 50.80 0 0 1 213.02 767.67 Z" fill="#e9a884" stroke="#fff" stroke-width="0.55" stroke-linejoin="round"/>
<path d="M256.20 738.90 L213.02 767.67 A52.40 50.80 0 0 1 211.52 765.44 Z" fill="#a9a3d6" stroke="#fff" stroke-width="0.55" stroke-linejoin="round"/>
<path d="M256.20 738.90 L211.52 765.44 A52.40 50.80 0 0 1 210.82 764.30 Z" fill="#e6e6ee" stroke="#fff" stroke-width="0.55" stroke-linejoin="round"/>
<path d="M256.20 738.90 L210.82 764.30 A52.40 50.80 0 0 1 208.33 759.56 Z" fill="#cc2b26" stroke="#fff" stroke-width="0.55" stroke-linejoin="round"/>
<path d="M256.20 738.90 L208.33 759.56 A52.40 50.80 0 0 1 207.28 757.11 Z" fill="#8bc455" stroke="#fff" stroke-width="0.55" stroke-linejoin="round"/>
<path d="M256.20 738.90 L207.28 757.11 A52.40 50.80 0 0 1 206.36 754.60 Z" fill="#b9dc8e" stroke="#fff" stroke-width="0.55" stroke-linejoin="round"/>
<path d="M256.20 738.90 L206.36 754.60 A52.40 50.80 0 0 1 205.36 751.19 Z" fill="#6fae4a" stroke="#fff" stroke-width="0.55" stroke-linejoin="round"/>
<path d="M256.20 738.90 L205.36 751.19 A52.40 50.80 0 0 1 204.95 749.46 Z" fill="#d4ecf6" stroke="#fff" stroke-width="0.55" stroke-linejoin="round"/>
<path d="M256.20 738.90 L204.95 749.46 A52.40 50.80 0 0 1 203.91 735.62 Z" fill="#5fb3de" stroke="#fff" stroke-width="0.55" stroke-linejoin="round"/>
<path d="M256.20 738.90 L203.91 735.62 A52.40 50.80 0 0 1 213.97 708.83 Z" fill="#3d2b84" stroke="#fff" stroke-width="0.55" stroke-linejoin="round"/>
<path d="M256.20 738.90 L213.97 708.83 A52.40 50.80 0 0 1 236.15 691.97 Z" fill="#ea9440" stroke="#fff" stroke-width="0.55" stroke-linejoin="round"/>
<path d="M256.20 738.90 L236.15 691.97 A52.40 50.80 0 0 1 237.17 691.57 Z" fill="#f2e6cc" stroke="#fff" stroke-width="0.55" stroke-linejoin="round"/>
<path d="M256.20 738.90 L237.17 691.57 A52.40 50.80 0 0 1 238.19 691.19 Z" fill="#ece4b8" stroke="#fff" stroke-width="0.55" stroke-linejoin="round"/>
<path d="M256.20 738.90 L238.19 691.19 A52.40 50.80 0 0 1 240.01 690.59 Z" fill="#f4f4f4" stroke="#fff" stroke-width="0.55" stroke-linejoin="round"/>
<path d="M256.20 738.90 L240.01 690.59 A52.40 50.80 0 0 1 246.29 689.02 Z" fill="#4a7cc8" stroke="#fff" stroke-width="0.55" stroke-linejoin="round"/>
<path d="M256.20 738.90 L246.29 689.02 A52.40 50.80 0 0 1 255.47 688.10 Z" fill="#17202e" stroke="#fff" stroke-width="0.55" stroke-linejoin="round"/>
<line x1="426.61" y1="677.30" x2="426.08" y2="688.18" stroke="#a9a9bb" stroke-width="0.5"/>
<line x1="431.50" y1="678.90" x2="431.96" y2="688.07" stroke="#a9a9bb" stroke-width="0.5"/>
<line x1="405.41" y1="681.00" x2="418.55" y2="689.35" stroke="#a9a9bb" stroke-width="0.5"/>
<line x1="395.91" y1="686.90" x2="412.30" y2="691.24" stroke="#a9a9bb" stroke-width="0.5"/>
<line x1="388.91" y1="693.20" x2="409.28" y2="692.48" stroke="#a9a9bb" stroke-width="0.5"/>
<line x1="378.91" y1="700.00" x2="407.91" y2="693.13" stroke="#a9a9bb" stroke-width="0.5"/>
<line x1="378.91" y1="705.90" x2="406.55" y2="693.82" stroke="#a9a9bb" stroke-width="0.5"/>
<line x1="371.51" y1="714.40" x2="405.02" y2="694.66" stroke="#a9a9bb" stroke-width="0.5"/>
<line x1="371.51" y1="720.70" x2="391.68" y2="705.77" stroke="#a9a9bb" stroke-width="0.5"/>
<line x1="366.71" y1="731.50" x2="380.23" y2="733.27" stroke="#a9a9bb" stroke-width="0.5"/>
<line x1="366.91" y1="740.50" x2="382.63" y2="753.20" stroke="#a9a9bb" stroke-width="0.5"/>
<line x1="368.41" y1="749.00" x2="385.89" y2="760.72" stroke="#a9a9bb" stroke-width="0.5"/>
<line x1="369.01" y1="756.40" x2="387.18" y2="762.98" stroke="#a9a9bb" stroke-width="0.5"/>
<line x1="371.51" y1="763.80" x2="388.10" y2="764.44" stroke="#a9a9bb" stroke-width="0.5"/>
<line x1="375.31" y1="771.00" x2="391.18" y2="768.63" stroke="#a9a9bb" stroke-width="0.5"/>
<line x1="378.91" y1="776.90" x2="397.06" y2="774.69" stroke="#a9a9bb" stroke-width="0.5"/>
<line x1="385.82" y1="782.80" x2="400.71" y2="777.57" stroke="#a9a9bb" stroke-width="0.5"/>
<line x1="395.91" y1="789.20" x2="403.64" y2="779.52" stroke="#a9a9bb" stroke-width="0.5"/>
<line x1="405.81" y1="797.00" x2="409.64" y2="782.68" stroke="#a9a9bb" stroke-width="0.5"/>
<line x1="439.90" y1="799.30" x2="442.89" y2="785.30" stroke="#a9a9bb" stroke-width="0.5"/>
<line x1="451.90" y1="681.80" x2="434.35" y2="688.22" stroke="#a9a9bb" stroke-width="0.5"/>
<line x1="461.70" y1="690.90" x2="441.62" y2="689.39" stroke="#a9a9bb" stroke-width="0.5"/>
<line x1="483.60" y1="706.40" x2="472.62" y2="711.69" stroke="#a9a9bb" stroke-width="0.5"/>
<line x1="486.90" y1="764.30" x2="475.97" y2="756.87" stroke="#a9a9bb" stroke-width="0.5"/>
<path d="M430.00 737.50 L430.00 686.50 A51.50 51.00 0 0 1 434.04 686.66 Z" fill="#4f80c8" stroke="#fff" stroke-width="0.55" stroke-linejoin="round"/>
<path d="M430.00 737.50 L434.04 686.66 A51.50 51.00 0 0 1 434.94 686.73 Z" fill="#e8ecd8" stroke="#fff" stroke-width="0.55" stroke-linejoin="round"/>
<path d="M430.00 737.50 L434.94 686.73 A51.50 51.00 0 0 1 448.79 690.02 Z" fill="#8bc455" stroke="#fff" stroke-width="0.55" stroke-linejoin="round"/>
<path d="M430.00 737.50 L448.79 690.02 A51.50 51.00 0 0 1 481.25 742.57 Z" fill="#8a1c1c" stroke="#fff" stroke-width="0.55" stroke-linejoin="round"/>
<path d="M430.00 737.50 L481.25 742.57 A51.50 51.00 0 0 1 469.22 770.55 Z" fill="#5fb3de" stroke="#fff" stroke-width="0.55" stroke-linejoin="round"/>
<path d="M430.00 737.50 L469.22 770.55 A51.50 51.00 0 0 1 412.64 785.51 Z" fill="#3d2b84" stroke="#fff" stroke-width="0.55" stroke-linejoin="round"/>
<path d="M430.00 737.50 L412.64 785.51 A51.50 51.00 0 0 1 405.51 782.36 Z" fill="#ea9440" stroke="#fff" stroke-width="0.55" stroke-linejoin="round"/>
<path d="M430.00 737.50 L405.51 782.36 A51.50 51.00 0 0 1 400.24 779.12 Z" fill="#7ea6dd" stroke="#fff" stroke-width="0.55" stroke-linejoin="round"/>
<path d="M430.00 737.50 L400.24 779.12 A51.50 51.00 0 0 1 399.37 778.50 Z" fill="#eee" stroke="#fff" stroke-width="0.55" stroke-linejoin="round"/>
<path d="M430.00 737.50 L399.37 778.50 A51.50 51.00 0 0 1 392.95 772.93 Z" fill="#cc2b26" stroke="#fff" stroke-width="0.55" stroke-linejoin="round"/>
<path d="M430.00 737.50 L392.95 772.93 A51.50 51.00 0 0 1 387.30 766.02 Z" fill="#8bc455" stroke="#fff" stroke-width="0.55" stroke-linejoin="round"/>
<path d="M430.00 737.50 L387.30 766.02 A51.50 51.00 0 0 1 386.33 764.53 Z" fill="#e8f0d8" stroke="#fff" stroke-width="0.55" stroke-linejoin="round"/>
<path d="M430.00 737.50 L386.33 764.53 A51.50 51.00 0 0 1 385.40 763.00 Z" fill="#151515" stroke="#fff" stroke-width="0.55" stroke-linejoin="round"/>
<path d="M430.00 737.50 L385.40 763.00 A51.50 51.00 0 0 1 383.71 759.86 Z" fill="#8bc455" stroke="#fff" stroke-width="0.55" stroke-linejoin="round"/>
<path d="M430.00 737.50 L383.71 759.86 A51.50 51.00 0 0 1 379.45 747.23 Z" fill="#5fb3de" stroke="#fff" stroke-width="0.55" stroke-linejoin="round"/>
<path d="M430.00 737.50 L379.45 747.23 A51.50 51.00 0 0 1 381.86 719.39 Z" fill="#3d2b84" stroke="#fff" stroke-width="0.55" stroke-linejoin="round"/>
<path d="M430.00 737.50 L381.86 719.39 A51.50 51.00 0 0 1 406.62 692.06 Z" fill="#ea9440" stroke="#fff" stroke-width="0.55" stroke-linejoin="round"/>
<path d="M430.00 737.50 L406.62 692.06 A51.50 51.00 0 0 1 407.83 691.47 Z" fill="#f4eee0" stroke="#fff" stroke-width="0.55" stroke-linejoin="round"/>
<path d="M430.00 737.50 L407.83 691.47 A51.50 51.00 0 0 1 409.46 690.73 Z" fill="#eeeeee" stroke="#fff" stroke-width="0.55" stroke-linejoin="round"/>
<path d="M430.00 737.50 L409.46 690.73 A51.50 51.00 0 0 1 414.09 689.00 Z" fill="#151a22" stroke="#fff" stroke-width="0.55" stroke-linejoin="round"/>
<path d="M430.00 737.50 L414.09 689.00 A51.50 51.00 0 0 1 422.39 687.06 Z" fill="#8bc455" stroke="#fff" stroke-width="0.55" stroke-linejoin="round"/>
<path d="M430.00 737.50 L422.39 687.06 A51.50 51.00 0 0 1 429.55 686.50 Z" fill="#8a1c1c" stroke="#fff" stroke-width="0.55" stroke-linejoin="round"/>
<path d="M430.00 737.50 L429.55 686.50 A51.50 51.00 0 0 1 430.00 686.50 Z" fill="#fff" stroke="#fff" stroke-width="0.55" stroke-linejoin="round"/>
<g filter="url(#gs)"><text x="3.30" y="8.50" font-size="10.2" font-weight="bold" text-anchor="start" fill="#000" stroke="#000" stroke-width="0.2" style="stroke-width:0.3">A</text>
<text x="58.60" y="7.50" font-size="7.05" font-weight="bold" text-anchor="start" fill="#000" stroke="#000" stroke-width="0.2">Glucosyl (<tspan font-weight="normal">β</tspan>) Ceramide (d18:1/22:0)</text>
<text x="66.60" y="26.00" font-size="6.8" font-weight="normal" text-anchor="start" fill="#000" stroke="#000" stroke-width="0.2">OH</text>
<text x="80.80" y="34.50" font-size="6.8" font-weight="normal" text-anchor="start" fill="#000" stroke="#000" stroke-width="0.2">O</text>
<text x="37.60" y="36.70" font-size="6.8" font-weight="normal" text-anchor="start" fill="#000" stroke="#000" stroke-width="0.2">HO</text>
<text x="47.90" y="47.00" font-size="6.8" font-weight="normal" text-anchor="start" fill="#000" stroke="#000" stroke-width="0.2">HO</text>
<text x="79.00" y="50.60" font-size="6.8" font-weight="normal" text-anchor="start" fill="#000" stroke="#000" stroke-width="0.2">OH</text>
<text x="99.20" y="43.10" font-size="6.8" font-weight="normal" text-anchor="start" fill="#000" stroke="#000" stroke-width="0.2">O</text>
<text x="115.30" y="36.90" font-size="6.8" font-weight="normal" text-anchor="start" fill="#000" stroke="#000" stroke-width="0.2">HN</text>
<text x="128.30" y="19.60" font-size="6.8" font-weight="normal" text-anchor="start" fill="#000" stroke="#000" stroke-width="0.2">O</text>
<text x="138.20" y="33.00" font-size="7.3" font-weight="normal" text-anchor="start" fill="#000" stroke="#000" stroke-width="0.2">C<tspan font-size="5.2" dy="1.6">21</tspan><tspan dy="-1.6">H</tspan><tspan font-size="5.2" dy="1.6">43</tspan></text>
<text x="128.40" y="55.70" font-size="6.8" font-weight="normal" text-anchor="start" fill="#000" stroke="#000" stroke-width="0.2">OH</text>
<text x="141.20" y="46.20" font-size="7.3" font-weight="normal" text-anchor="start" fill="#000" stroke="#000" stroke-width="0.2">C<tspan font-size="5.2" dy="1.6">13</tspan><tspan dy="-1.6">H</tspan><tspan font-size="5.2" dy="1.6">27</tspan></text>
<text x="56.90" y="65.00" font-size="7.2" font-weight="bold" text-anchor="start" fill="#000" stroke="#000" stroke-width="0.2">Glucosylsphingosine</text>
<text x="56.90" y="73.20" font-size="7.1" font-weight="bold" text-anchor="start" fill="#000" stroke="#000" stroke-width="0.2">Lyso-glucocerebroside</text>
<text x="65.50" y="80.20" font-size="4.9" font-weight="normal" text-anchor="start" fill="#000" stroke="#000" stroke-width="0.2">OH</text>
<text x="82.00" y="91.00" font-size="4.9" font-weight="normal" text-anchor="start" fill="#000" stroke="#000" stroke-width="0.2">O</text>
<text x="38.00" y="93.40" font-size="4.9" font-weight="normal" text-anchor="start" fill="#000" stroke="#000" stroke-width="0.2">HO</text>
<text x="44.60" y="106.30" font-size="4.9" font-weight="normal" text-anchor="start" fill="#000" stroke="#000" stroke-width="0.2">HO</text>
<text x="80.80" y="111.40" font-size="4.9" font-weight="normal" text-anchor="start" fill="#000" stroke="#000" stroke-width="0.2">OH</text>
<text x="104.60" y="103.70" font-size="4.9" font-weight="normal" text-anchor="start" fill="#000" stroke="#000" stroke-width="0.2">O</text>
<text x="129.50" y="93.90" font-size="4.9" font-weight="normal" text-anchor="start" fill="#000" stroke="#000" stroke-width="0.2">NH<tspan font-size="3.5" dy="1.1">2</tspan></text>
<text x="137.30" y="115.50" font-size="4.9" font-weight="normal" text-anchor="start" fill="#000" stroke="#000" stroke-width="0.2">OH</text>
<text x="155.30" y="103.80" font-size="4.9" font-weight="normal" text-anchor="start" fill="#000" stroke="#000" stroke-width="0.2">C<tspan font-size="3.5" dy="1.1">13</tspan><tspan dy="-1.1">H</tspan><tspan font-size="3.5" dy="1.1">27</tspan></text>
<text x="2.80" y="138.00" font-size="11" font-weight="bold" text-anchor="start" fill="#000" stroke="#000" stroke-width="0.2" style="stroke-width:0.3">B</text>
<text x="7.40" y="155.50" font-size="7.65" font-weight="normal" text-anchor="start" fill="#000" stroke="#000" stroke-width="0.2">Tetramer</text>
<text x="3.20" y="192.70" font-size="7.65" font-weight="normal" text-anchor="start" fill="#000" stroke="#000" stroke-width="0.2">Unloaded</text>
<text x="3.50" y="252.70" font-size="7.65" font-weight="normal" text-anchor="start" fill="#000" stroke="#000" stroke-width="0.2">α-GalCer</text>
<text x="7.60" y="313.80" font-size="7.65" font-weight="normal" text-anchor="start" fill="#000" stroke="#000" stroke-width="0.2">βGL1-22</text>
<text x="19.60" y="372.20" font-size="7.65" font-weight="normal" text-anchor="start" fill="#000" stroke="#000" stroke-width="0.2">LGL1</text>
<text x="46.30" y="163.50" font-size="6.0" font-weight="normal" text-anchor="start" fill="#000" stroke="#000" stroke-width="0.2">96</text>
<text x="73.80" y="167.50" font-size="6.0" font-weight="normal" text-anchor="start" fill="#000" stroke="#000" stroke-width="0.2">2.6e-3</text>
<text x="46.30" y="224.60" font-size="6.0" font-weight="normal" text-anchor="start" fill="#000" stroke="#000" stroke-width="0.2">94</text>
<text x="68.00" y="232.50" font-size="6.0" font-weight="normal" text-anchor="start" fill="#000" stroke="#000" stroke-width="0.2">0.011</text>
<text x="46.30" y="286.30" font-size="6.0" font-weight="normal" text-anchor="start" fill="#000" stroke="#000" stroke-width="0.2">93</text>
<text x="76.30" y="290.00" font-size="6.0" font-weight="normal" text-anchor="start" fill="#000" stroke="#000" stroke-width="0.2">0.71</text>
<text x="46.30" y="347.50" font-size="6.0" font-weight="normal" text-anchor="start" fill="#000" stroke="#000" stroke-width="0.2">90</text>
<text x="77.00" y="351.30" font-size="6.0" font-weight="normal" text-anchor="start" fill="#000" stroke="#000" stroke-width="0.2">0.14</text>
<text x="33.00" y="404.00" font-size="7.4" font-weight="normal" text-anchor="start" fill="#000" stroke="#000" stroke-width="0.2" transform="rotate(-90 33.0 404.0)">CD3</text>
<text x="37.30" y="410.60" font-size="7.5" font-weight="normal" text-anchor="start" fill="#000" stroke="#000" stroke-width="0.2">CD1d tet</text>
<text x="118.50" y="154.60" font-size="6.8" font-weight="normal" text-anchor="start" fill="#000" stroke="#000" stroke-width="0.2">Gated on CD3<tspan font-size="4.2" dy="-2.52">+</tspan><tspan dy="2.52"> Tet-</tspan></text>
<text x="185.40" y="154.60" font-size="6.8" font-weight="normal" text-anchor="start" fill="#000" stroke="#000" stroke-width="0.2">Gated on CD3<tspan font-size="4.2" dy="-2.52">+</tspan><tspan dy="2.52"> Tet</tspan><tspan font-size="4.2" dy="-2.52">+</tspan></text>
<text x="119.40" y="164.30" font-size="6.4" font-weight="normal" text-anchor="start" fill="#000" stroke="#000" stroke-width="0.2">0.11</text>
<text x="180.50" y="164.30" font-size="6.4" font-weight="normal" text-anchor="end" fill="#000" stroke="#000" stroke-width="0.2">3.7e-3</text>
<text x="119.40" y="216.40" font-size="6.4" font-weight="normal" text-anchor="start" fill="#000" stroke="#000" stroke-width="0.2">99</text>
<text x="180.50" y="216.40" font-size="6.4" font-weight="normal" text-anchor="end" fill="#000" stroke="#000" stroke-width="0.2">0.43</text>
<text x="184.30" y="164.30" font-size="6.4" font-weight="normal" text-anchor="start" fill="#000" stroke="#000" stroke-width="0.2">0</text>
<text x="246.70" y="164.30" font-size="6.4" font-weight="normal" text-anchor="end" fill="#000" stroke="#000" stroke-width="0.2">0</text>
<text x="184.30" y="216.40" font-size="6.4" font-weight="normal" text-anchor="start" fill="#000" stroke="#000" stroke-width="0.2">100</text>
<text x="246.70" y="216.40" font-size="6.4" font-weight="normal" text-anchor="end" fill="#000" stroke="#000" stroke-width="0.2">0</text>
<text x="119.40" y="225.20" font-size="6.4" font-weight="normal" text-anchor="start" fill="#000" stroke="#000" stroke-width="0.2">0.14</text>
<text x="180.50" y="225.20" font-size="6.4" font-weight="normal" text-anchor="end" fill="#000" stroke="#000" stroke-width="0.2">1.4e-3</text>
<text x="119.40" y="278.00" font-size="6.4" font-weight="normal" text-anchor="start" fill="#000" stroke="#000" stroke-width="0.2">99</text>
<text x="180.50" y="278.00" font-size="6.4" font-weight="normal" text-anchor="end" fill="#000" stroke="#000" stroke-width="0.2">0.41</text>
<text x="184.30" y="225.20" font-size="6.4" font-weight="normal" text-anchor="start" fill="#000" stroke="#000" stroke-width="0.2">0</text>
<text x="246.70" y="225.20" font-size="6.4" font-weight="normal" text-anchor="end" fill="#000" stroke="#000" stroke-width="0.2">73</text>
<text x="184.30" y="278.00" font-size="6.4" font-weight="normal" text-anchor="start" fill="#000" stroke="#000" stroke-width="0.2">24</text>
<text x="246.70" y="278.00" font-size="6.4" font-weight="normal" text-anchor="end" fill="#000" stroke="#000" stroke-width="0.2">3</text>
<text x="119.40" y="286.90" font-size="6.4" font-weight="normal" text-anchor="start" fill="#000" stroke="#000" stroke-width="0.2">0.11</text>
<text x="180.50" y="286.90" font-size="6.4" font-weight="normal" text-anchor="end" fill="#000" stroke="#000" stroke-width="0.2">6.6e-3</text>
<text x="119.40" y="339.30" font-size="6.4" font-weight="normal" text-anchor="start" fill="#000" stroke="#000" stroke-width="0.2">99</text>
<text x="180.50" y="339.30" font-size="6.4" font-weight="normal" text-anchor="end" fill="#000" stroke="#000" stroke-width="0.2">0.39</text>
<text x="184.30" y="286.90" font-size="6.4" font-weight="normal" text-anchor="start" fill="#000" stroke="#000" stroke-width="0.2">0.53</text>
<text x="246.70" y="286.90" font-size="6.4" font-weight="normal" text-anchor="end" fill="#000" stroke="#000" stroke-width="0.2">0.048</text>
<text x="184.30" y="339.30" font-size="6.4" font-weight="normal" text-anchor="start" fill="#000" stroke="#000" stroke-width="0.2">99</text>
<text x="246.70" y="339.30" font-size="6.4" font-weight="normal" text-anchor="end" fill="#000" stroke="#000" stroke-width="0.2">0.43</text>
<text x="119.40" y="348.10" font-size="6.4" font-weight="normal" text-anchor="start" fill="#000" stroke="#000" stroke-width="0.2">0.11</text>
<text x="180.50" y="348.10" font-size="6.4" font-weight="normal" text-anchor="end" fill="#000" stroke="#000" stroke-width="0.2">6.2e-3</text>
<text x="119.40" y="401.20" font-size="6.4" font-weight="normal" text-anchor="start" fill="#000" stroke="#000" stroke-width="0.2">99</text>
<text x="180.50" y="401.20" font-size="6.4" font-weight="normal" text-anchor="end" fill="#000" stroke="#000" stroke-width="0.2">0.4</text>
<text x="184.30" y="348.10" font-size="6.4" font-weight="normal" text-anchor="start" fill="#000" stroke="#000" stroke-width="0.2">0.48</text>
<text x="246.70" y="348.10" font-size="6.4" font-weight="normal" text-anchor="end" fill="#000" stroke="#000" stroke-width="0.2">0</text>
<text x="184.30" y="401.20" font-size="6.4" font-weight="normal" text-anchor="start" fill="#000" stroke="#000" stroke-width="0.2">100</text>
<text x="246.70" y="401.20" font-size="6.4" font-weight="normal" text-anchor="end" fill="#000" stroke="#000" stroke-width="0.2">0.48</text>
<text x="109.60" y="404.60" font-size="7.0" font-weight="normal" text-anchor="start" fill="#000" stroke="#000" stroke-width="0.2" transform="rotate(-90 109.6 404.6)">Vβ11</text>
<text x="112.30" y="410.80" font-size="7.0" font-weight="normal" text-anchor="start" fill="#000" stroke="#000" stroke-width="0.2">Vα24</text>
<text x="260.70" y="8.70" font-size="11.2" font-weight="bold" text-anchor="start" fill="#000" stroke="#000" stroke-width="0.2" style="stroke-width:0.3">C</text>
<text x="284.50" y="6.60" font-size="5.9" font-weight="normal" text-anchor="end" fill="#444" stroke="#444" stroke-width="0.2">1.5</text>
<text x="284.50" y="38.60" font-size="5.9" font-weight="normal" text-anchor="end" fill="#444" stroke="#444" stroke-width="0.2">1.0</text>
<text x="284.50" y="70.60" font-size="5.9" font-weight="normal" text-anchor="end" fill="#444" stroke="#444" stroke-width="0.2">0.5</text>
<text x="284.50" y="102.60" font-size="5.9" font-weight="normal" text-anchor="end" fill="#444" stroke="#444" stroke-width="0.2">0.0</text>
<text x="271.60" y="50.50" font-size="7.6" font-weight="normal" text-anchor="middle" fill="#222" stroke="#222" stroke-width="0.2" transform="rotate(-90 271.6 50.5)">% of lymphocytes</text>
<text x="311.60" y="110.30" font-size="6.4" font-weight="normal" text-anchor="middle" fill="#000" stroke="#000" stroke-width="0.2">βGL1-22</text>
<text x="359.60" y="110.30" font-size="6.4" font-weight="normal" text-anchor="middle" fill="#000" stroke="#000" stroke-width="0.2">LGL1</text>
<text x="406.00" y="110.30" font-size="6.4" font-weight="normal" text-anchor="middle" fill="#000" stroke="#000" stroke-width="0.2" textLength="29.6" lengthAdjust="spacingAndGlyphs">α-GalCer</text>
<text x="260.40" y="137.50" font-size="10.9" font-weight="bold" text-anchor="start" fill="#000" stroke="#000" stroke-width="0.2" style="stroke-width:0.3">D</text>
<text x="284.10" y="260.40" font-size="5.9" font-weight="normal" text-anchor="end" fill="#444" stroke="#444" stroke-width="0.2">0</text>
<text x="284.10" y="229.70" font-size="5.9" font-weight="normal" text-anchor="end" fill="#444" stroke="#444" stroke-width="0.2">20</text>
<text x="284.10" y="199.00" font-size="5.9" font-weight="normal" text-anchor="end" fill="#444" stroke="#444" stroke-width="0.2">40</text>
<text x="284.10" y="168.30" font-size="5.9" font-weight="normal" text-anchor="end" fill="#444" stroke="#444" stroke-width="0.2">60</text>
<text x="284.10" y="137.60" font-size="5.9" font-weight="normal" text-anchor="end" fill="#444" stroke="#444" stroke-width="0.2">80</text>
<text x="267.10" y="190.40" font-size="7.7" font-weight="normal" text-anchor="middle" fill="#222" stroke="#222" stroke-width="0.2" transform="rotate(-90 267.1 190.4)">Mean % of Tet<tspan font-size="4.6" dy="-2.76">+</tspan><tspan dy="2.76"> T cells</tspan></text>
<text x="317.40" y="270.00" font-size="7.0" font-weight="normal" text-anchor="middle" fill="#000" stroke="#000" stroke-width="0.2">CD4</text>
<text x="379.00" y="270.00" font-size="7.0" font-weight="normal" text-anchor="middle" fill="#000" stroke="#000" stroke-width="0.2">CD8</text>
<text x="440.20" y="270.00" font-size="7.0" font-weight="normal" text-anchor="middle" fill="#000" stroke="#000" stroke-width="0.2">DN</text>
<text x="309.40" y="159.40" font-size="6.8" font-weight="normal" text-anchor="middle" fill="#333" stroke="#333" stroke-width="0.2">ns</text>
<text x="318.20" y="147.00" font-size="5.8" font-weight="normal" text-anchor="middle" fill="#444" stroke="#444" stroke-width="0.2">**</text>
<text x="371.30" y="177.60" font-size="6.8" font-weight="normal" text-anchor="middle" fill="#333" stroke="#333" stroke-width="0.2">ns</text>
<text x="388.50" y="185.90" font-size="5.8" font-weight="normal" text-anchor="middle" fill="#444" stroke="#444" stroke-width="0.2">***</text>
<text x="431.30" y="241.60" font-size="6.8" font-weight="normal" text-anchor="middle" fill="#333" stroke="#333" stroke-width="0.2">ns</text>
<text x="438.80" y="200.60" font-size="5.8" font-weight="normal" text-anchor="middle" fill="#444" stroke="#444" stroke-width="0.2">***</text>
<text x="414.60" y="135.50" font-size="6.8" font-weight="normal" text-anchor="start" fill="#000" stroke="#000" stroke-width="0.2">βGL1-22</text>
<text x="414.60" y="144.60" font-size="6.8" font-weight="normal" text-anchor="start" fill="#000" stroke="#000" stroke-width="0.2">LGL1</text>
<text x="414.60" y="153.70" font-size="6.8" font-weight="normal" text-anchor="start" fill="#000" stroke="#000" stroke-width="0.2">α-GalCer</text>
<text x="259.90" y="288.50" font-size="10.9" font-weight="bold" text-anchor="start" fill="#000" stroke="#000" stroke-width="0.2" style="stroke-width:0.4">E</text>
<text x="281.40" y="446.30" font-size="5.9" font-weight="normal" text-anchor="end" fill="#444" stroke="#444" stroke-width="0.2">0</text>
<text x="281.40" y="370.02" font-size="5.9" font-weight="normal" text-anchor="end" fill="#444" stroke="#444" stroke-width="0.2">50</text>
<text x="281.40" y="293.75" font-size="5.9" font-weight="normal" text-anchor="end" fill="#444" stroke="#444" stroke-width="0.2">100</text>
<text x="270.20" y="359.10" font-size="7.7" font-weight="normal" text-anchor="middle" fill="#222" stroke="#222" stroke-width="0.2" transform="rotate(-90 270.2 359.1)">Mean % of Tet<tspan font-size="4.6" dy="-2.76">+</tspan><tspan dy="2.76"> T cells</tspan></text>
<text x="304.70" y="455.80" font-size="7.4" font-weight="normal" text-anchor="middle" fill="#000" stroke="#000" stroke-width="0.2">CD45RA</text>
<text x="350.80" y="455.80" font-size="7.4" font-weight="normal" text-anchor="middle" fill="#000" stroke="#000" stroke-width="0.2">CD45RO</text>
<text x="442.20" y="455.80" font-size="7.4" font-weight="normal" text-anchor="middle" fill="#000" stroke="#000" stroke-width="0.2">CD69</text>
<text x="386.00" y="455.80" font-size="7.2" font-weight="normal" text-anchor="start" fill="#000" stroke="#000" stroke-width="0.2">CD62L<tspan font-size="3.8" dy="-2.28">hi</tspan></text>
<text x="467.60" y="455.80" font-size="7.2" font-weight="normal" text-anchor="start" fill="#000" stroke="#000" stroke-width="0.2">CD56<tspan font-size="3.8" dy="-2.28">hi</tspan><tspan dy="2.28"> CD161</tspan><tspan font-size="3.8" dy="-2.28">hi</tspan></text>
<text x="294.80" y="320.30" font-size="6.8" font-weight="normal" text-anchor="middle" fill="#333" stroke="#333" stroke-width="0.2">ns</text>
<text x="309.85" y="312.90" font-size="5.8" font-weight="normal" text-anchor="middle" fill="#444" stroke="#444" stroke-width="0.2">***</text>
<text x="341.60" y="376.00" font-size="6.8" font-weight="normal" text-anchor="middle" fill="#333" stroke="#333" stroke-width="0.2">ns</text>
<text x="356.70" y="284.30" font-size="5.8" font-weight="normal" text-anchor="middle" fill="#444" stroke="#444" stroke-width="0.2">***</text>
<text x="383.60" y="306.20" font-size="6.8" font-weight="normal" text-anchor="middle" fill="#333" stroke="#333" stroke-width="0.2">ns</text>
<text x="400.60" y="299.10" font-size="5.8" font-weight="normal" text-anchor="middle" fill="#444" stroke="#444" stroke-width="0.2">***</text>
<text x="433.00" y="404.50" font-size="6.8" font-weight="normal" text-anchor="middle" fill="#333" stroke="#333" stroke-width="0.2">ns</text>
<text x="447.95" y="342.70" font-size="5.8" font-weight="normal" text-anchor="middle" fill="#444" stroke="#444" stroke-width="0.2">***</text>
<text x="478.30" y="399.30" font-size="6.8" font-weight="normal" text-anchor="middle" fill="#333" stroke="#333" stroke-width="0.2">ns</text>
<text x="493.80" y="337.10" font-size="5.8" font-weight="normal" text-anchor="middle" fill="#444" stroke="#444" stroke-width="0.2">***</text>
<text x="446.00" y="308.10" font-size="6.8" font-weight="normal" text-anchor="start" fill="#000" stroke="#000" stroke-width="0.2">βGL1-22</text>
<text x="446.00" y="318.40" font-size="6.8" font-weight="normal" text-anchor="start" fill="#000" stroke="#000" stroke-width="0.2">LGL1</text>
<text x="446.00" y="328.70" font-size="6.8" font-weight="normal" text-anchor="start" fill="#000" stroke="#000" stroke-width="0.2">α-GalCer</text>
<text x="-0.90" y="489.10" font-size="10.6" font-weight="bold" text-anchor="start" fill="#000" stroke="#000" stroke-width="0.2" style="stroke-width:0.3">F</text>
<text x="67.20" y="635.60" font-size="7.4" font-weight="normal" text-anchor="end" fill="#222" stroke="#222" stroke-width="0.2">0</text>
<text x="67.20" y="606.64" font-size="7.4" font-weight="normal" text-anchor="end" fill="#222" stroke="#222" stroke-width="0.2">20</text>
<text x="67.20" y="577.68" font-size="7.4" font-weight="normal" text-anchor="end" fill="#222" stroke="#222" stroke-width="0.2">40</text>
<text x="67.20" y="548.72" font-size="7.4" font-weight="normal" text-anchor="end" fill="#222" stroke="#222" stroke-width="0.2">60</text>
<text x="67.20" y="519.76" font-size="7.4" font-weight="normal" text-anchor="end" fill="#222" stroke="#222" stroke-width="0.2">80</text>
<text x="67.20" y="490.80" font-size="7.4" font-weight="normal" text-anchor="end" fill="#222" stroke="#222" stroke-width="0.2">100</text>
<text x="43.60" y="556.30" font-size="9.2" font-weight="bold" text-anchor="middle" fill="#000" stroke="#000" stroke-width="0.2" transform="rotate(-90 43.6 556.3)">% of Max</text>
<text x="78.80" y="642.30" font-size="8.2" font-weight="normal" text-anchor="start" fill="#000" stroke="#000" stroke-width="0.2">PLZF</text>
<text x="78.30" y="486.60" font-size="7.4" font-weight="bold" text-anchor="start" fill="#000" stroke="#000" stroke-width="0.2">CD3<tspan font-size="4.4" dy="-2.64">+</tspan><tspan dy="2.64"> Tet</tspan></text>
<text x="119.80" y="491.00" font-size="7.4" font-weight="bold" text-anchor="start" fill="#000" stroke="#000" stroke-width="0.2">Isotype</text>
<text x="160.20" y="486.00" font-size="7.4" font-weight="bold" text-anchor="start" fill="#000" stroke="#000" stroke-width="0.2">LGL1<tspan font-size="4.4" dy="-2.64">+</tspan><tspan dy="2.64">Tet</tspan></text>
<text x="159.60" y="493.80" font-size="7.4" font-weight="bold" text-anchor="start" fill="#000" stroke="#000" stroke-width="0.2">βGL1-22 <tspan font-size="4.4" dy="-2.64">+</tspan><tspan dy="2.64">Tet</tspan></text>
<text x="181.00" y="502.00" font-size="7.4" font-weight="bold" text-anchor="start" fill="#000" stroke="#000" stroke-width="0.2">α-GalCer<tspan font-size="4.4" dy="-2.64">+</tspan><tspan dy="2.64"> Tet</tspan></text>
<text x="-0.40" y="665.20" font-size="11" font-weight="bold" text-anchor="start" fill="#000" stroke="#000" stroke-width="0.2" style="stroke-width:0.3">G</text>
<text x="49.80" y="661.80" font-size="7.5" font-weight="bold" text-anchor="start" fill="#000" stroke="#000" stroke-width="0.2">α-GalCer Tet<tspan font-size="4.5" dy="-2.70">+</tspan></text>
<text x="36.40" y="675.30" font-size="6.6" font-weight="normal" text-anchor="start" fill="#000" stroke="#000" stroke-width="0.2">TCRBV30</text>
<text x="67.30" y="675.30" font-size="6.6" font-weight="normal" text-anchor="start" fill="#000" stroke="#000" stroke-width="0.2">TCRBV02</text>
<text x="19.50" y="682.00" font-size="6.6" font-weight="normal" text-anchor="start" fill="#000" stroke="#000" stroke-width="0.2">TCRBV29</text>
<text x="3.40" y="688.70" font-size="6.6" font-weight="normal" text-anchor="start" fill="#000" stroke="#000" stroke-width="0.2">TCRBV28</text>
<text x="0.00" y="697.10" font-size="6.6" font-weight="normal" text-anchor="start" fill="#000" stroke="#000" stroke-width="0.2">TCRBV27</text>
<text x="91.60" y="683.70" font-size="6.6" font-weight="normal" text-anchor="start" fill="#000" stroke="#000" stroke-width="0.2">TCRBV03</text>
<text x="102.70" y="689.40" font-size="6.6" font-weight="normal" text-anchor="start" fill="#000" stroke="#000" stroke-width="0.2">TCRBV04</text>
<text x="110.40" y="695.80" font-size="6.6" font-weight="normal" text-anchor="start" fill="#000" stroke="#000" stroke-width="0.2">TCRBV05</text>
<text x="117.20" y="703.20" font-size="6.6" font-weight="normal" text-anchor="start" fill="#000" stroke="#000" stroke-width="0.2">TCRBV06</text>
<text x="121.90" y="709.30" font-size="6.6" font-weight="normal" text-anchor="start" fill="#000" stroke="#000" stroke-width="0.2">TCRBV07</text>
<text x="125.30" y="715.70" font-size="6.6" font-weight="normal" text-anchor="start" fill="#000" stroke="#000" stroke-width="0.2">TCRBV09</text>
<text x="127.30" y="722.70" font-size="6.6" font-weight="normal" text-anchor="start" fill="#000" stroke="#000" stroke-width="0.2">TCRBV10</text>
<text x="128.60" y="729.50" font-size="6.6" font-weight="normal" text-anchor="start" fill="#000" stroke="#000" stroke-width="0.2">TCRBV11</text>
<text x="128.60" y="736.20" font-size="6.6" font-weight="normal" text-anchor="start" fill="#000" stroke="#000" stroke-width="0.2">TCRBV12</text>
<text x="128.60" y="741.60" font-size="6.6" font-weight="normal" text-anchor="start" fill="#000" stroke="#000" stroke-width="0.2">TCRBV13</text>
<text x="127.30" y="747.60" font-size="6.6" font-weight="normal" text-anchor="start" fill="#000" stroke="#000" stroke-width="0.2">TCRBV14</text>
<text x="126.30" y="754.40" font-size="6.6" font-weight="normal" text-anchor="start" fill="#000" stroke="#000" stroke-width="0.2">TCRBV15</text>
<text x="123.90" y="761.10" font-size="6.6" font-weight="normal" text-anchor="start" fill="#000" stroke="#000" stroke-width="0.2">TCRBV16</text>
<text x="121.90" y="767.20" font-size="6.6" font-weight="normal" text-anchor="start" fill="#000" stroke="#000" stroke-width="0.2">TCRBV18</text>
<text x="119.50" y="772.90" font-size="6.6" font-weight="normal" text-anchor="start" fill="#000" stroke="#000" stroke-width="0.2">TCRBV19</text>
<text x="113.80" y="779.60" font-size="6.6" font-weight="normal" text-anchor="start" fill="#000" stroke="#000" stroke-width="0.2">TCRBV20</text>
<text x="108.40" y="786.40" font-size="6.6" font-weight="normal" text-anchor="start" fill="#000" stroke="#000" stroke-width="0.2">TCRBV23</text>
<text x="88.20" y="793.10" font-size="6.6" font-weight="normal" text-anchor="start" fill="#000" stroke="#000" stroke-width="0.2">TCRBV24</text>
<text x="42.10" y="803.20" font-size="6.7" font-weight="bold" text-anchor="start" fill="#000" stroke="#000" stroke-width="0.2">TCRBV25</text>
<text x="47.10" y="811.20" font-size="6.7" font-weight="bold" text-anchor="start" fill="#000" stroke="#000" stroke-width="0.2">(Vβ11)</text>
<text x="229.40" y="664.20" font-size="7.5" font-weight="bold" text-anchor="start" fill="#000" stroke="#000" stroke-width="0.2">βGL1-22 Tet<tspan font-size="4.5" dy="-2.70">+</tspan></text>
<text x="225.60" y="678.60" font-size="6.6" font-weight="normal" text-anchor="start" fill="#000" stroke="#000" stroke-width="0.2">TCRBV30</text>
<text x="258.50" y="677.30" font-size="6.6" font-weight="normal" text-anchor="start" fill="#000" stroke="#000" stroke-width="0.2">TCRBV02</text>
<text x="201.30" y="685.00" font-size="6.6" font-weight="normal" text-anchor="start" fill="#000" stroke="#000" stroke-width="0.2">TCRBV29</text>
<text x="187.90" y="692.80" font-size="6.6" font-weight="normal" text-anchor="start" fill="#000" stroke="#000" stroke-width="0.2">TCRBV28</text>
<text x="180.10" y="699.10" font-size="6.6" font-weight="normal" text-anchor="start" fill="#000" stroke="#000" stroke-width="0.2">TCRBV27</text>
<text x="174.80" y="704.80" font-size="6.6" font-weight="normal" text-anchor="start" fill="#000" stroke="#000" stroke-width="0.2">TCRBV23</text>
<text x="171.00" y="711.80" font-size="6.6" font-weight="normal" text-anchor="start" fill="#000" stroke="#000" stroke-width="0.2">TCRBV20</text>
<text x="166.30" y="718.80" font-size="6.6" font-weight="normal" text-anchor="start" fill="#000" stroke="#000" stroke-width="0.2">TCRBV19</text>
<text x="166.30" y="736.60" font-size="6.6" font-weight="normal" text-anchor="start" fill="#000" stroke="#000" stroke-width="0.2">TCRBV18</text>
<text x="165.30" y="744.50" font-size="6.6" font-weight="normal" text-anchor="start" fill="#000" stroke="#000" stroke-width="0.2">TCRBV16</text>
<text x="163.80" y="753.50" font-size="6.6" font-weight="normal" text-anchor="start" fill="#000" stroke="#000" stroke-width="0.2">TCRBV15</text>
<text x="166.30" y="760.50" font-size="6.6" font-weight="normal" text-anchor="start" fill="#000" stroke="#000" stroke-width="0.2">TCRBV14</text>
<text x="170.10" y="766.20" font-size="6.6" font-weight="normal" text-anchor="start" fill="#000" stroke="#000" stroke-width="0.2">TCRBV13</text>
<text x="175.90" y="772.60" font-size="6.6" font-weight="normal" text-anchor="start" fill="#000" stroke="#000" stroke-width="0.2">TCRBV12</text>
<text x="180.10" y="779.50" font-size="6.6" font-weight="normal" text-anchor="start" fill="#000" stroke="#000" stroke-width="0.2">TCRBV11</text>
<text x="187.10" y="788.00" font-size="6.6" font-weight="normal" text-anchor="start" fill="#000" stroke="#000" stroke-width="0.2">TCRBV10</text>
<text x="207.50" y="794.70" font-size="6.6" font-weight="normal" text-anchor="start" fill="#000" stroke="#000" stroke-width="0.2">TCRBV09</text>
<text x="230.50" y="803.00" font-size="6.6" font-weight="normal" text-anchor="start" fill="#000" stroke="#000" stroke-width="0.2">TCRBV07</text>
<text x="282.60" y="685.80" font-size="6.6" font-weight="normal" text-anchor="start" fill="#000" stroke="#000" stroke-width="0.2">TCRBV03</text>
<text x="294.60" y="692.70" font-size="6.6" font-weight="normal" text-anchor="start" fill="#000" stroke="#000" stroke-width="0.2">TCRBV04</text>
<text x="309.70" y="708.80" font-size="6.6" font-weight="normal" text-anchor="start" fill="#000" stroke="#000" stroke-width="0.2">TCRBV05</text>
<text x="309.70" y="777.30" font-size="6.6" font-weight="normal" text-anchor="start" fill="#000" stroke="#000" stroke-width="0.2">TCRBV06</text>
<text x="413.20" y="665.90" font-size="7.5" font-weight="bold" text-anchor="start" fill="#000" stroke="#000" stroke-width="0.2">LGL1 Tet<tspan font-size="4.5" dy="-2.70">+</tspan></text>
<text x="398.40" y="676.50" font-size="6.6" font-weight="normal" text-anchor="start" fill="#000" stroke="#000" stroke-width="0.2">TCRBV30</text>
<text x="430.00" y="678.10" font-size="6.6" font-weight="normal" text-anchor="start" fill="#000" stroke="#000" stroke-width="0.2">TCRBV02</text>
<text x="375.20" y="683.30" font-size="6.6" font-weight="normal" text-anchor="start" fill="#000" stroke="#000" stroke-width="0.2">TCRBV29</text>
<text x="365.70" y="689.20" font-size="6.6" font-weight="normal" text-anchor="start" fill="#000" stroke="#000" stroke-width="0.2">TCRBV28</text>
<text x="358.70" y="695.50" font-size="6.6" font-weight="normal" text-anchor="start" fill="#000" stroke="#000" stroke-width="0.2">TCRBV27</text>
<text x="348.70" y="702.30" font-size="6.6" font-weight="normal" text-anchor="start" fill="#000" stroke="#000" stroke-width="0.2">TCRBV25</text>
<text x="348.70" y="708.20" font-size="6.6" font-weight="normal" text-anchor="start" fill="#000" stroke="#000" stroke-width="0.2">TCRBV24</text>
<text x="341.30" y="716.70" font-size="6.6" font-weight="normal" text-anchor="start" fill="#000" stroke="#000" stroke-width="0.2">TCRBV23</text>
<text x="341.30" y="723.00" font-size="6.6" font-weight="normal" text-anchor="start" fill="#000" stroke="#000" stroke-width="0.2">TCRBV20</text>
<text x="336.50" y="733.80" font-size="6.6" font-weight="normal" text-anchor="start" fill="#000" stroke="#000" stroke-width="0.2">TCRBV19</text>
<text x="336.70" y="742.80" font-size="6.6" font-weight="normal" text-anchor="start" fill="#000" stroke="#000" stroke-width="0.2">TCRBV18</text>
<text x="338.20" y="751.30" font-size="6.6" font-weight="normal" text-anchor="start" fill="#000" stroke="#000" stroke-width="0.2">TCRBV16</text>
<text x="338.80" y="758.70" font-size="6.6" font-weight="normal" text-anchor="start" fill="#000" stroke="#000" stroke-width="0.2">TCRBV15</text>
<text x="341.30" y="766.10" font-size="6.6" font-weight="normal" text-anchor="start" fill="#000" stroke="#000" stroke-width="0.2">TCRBV14</text>
<text x="345.10" y="773.30" font-size="6.6" font-weight="normal" text-anchor="start" fill="#000" stroke="#000" stroke-width="0.2">TCRBV13</text>
<text x="348.70" y="779.20" font-size="6.6" font-weight="normal" text-anchor="start" fill="#000" stroke="#000" stroke-width="0.2">TCRBV12</text>
<text x="356.10" y="785.10" font-size="6.6" font-weight="normal" text-anchor="start" fill="#000" stroke="#000" stroke-width="0.2">TCRBV11</text>
<text x="365.70" y="791.50" font-size="6.6" font-weight="normal" text-anchor="start" fill="#000" stroke="#000" stroke-width="0.2">TCRBV10</text>
<text x="375.60" y="799.30" font-size="6.6" font-weight="normal" text-anchor="start" fill="#000" stroke="#000" stroke-width="0.2">TCRBV09</text>
<text x="440.40" y="801.60" font-size="6.6" font-weight="normal" text-anchor="start" fill="#000" stroke="#000" stroke-width="0.2">TCRBV07</text>
<text x="452.40" y="684.10" font-size="6.6" font-weight="normal" text-anchor="start" fill="#000" stroke="#000" stroke-width="0.2">TCRBV03</text>
<text x="462.20" y="693.20" font-size="6.6" font-weight="normal" text-anchor="start" fill="#000" stroke="#000" stroke-width="0.2">TCRBV04</text>
<text x="484.10" y="708.70" font-size="6.6" font-weight="normal" text-anchor="start" fill="#000" stroke="#000" stroke-width="0.2">TCRBV05</text>
<text x="487.40" y="766.60" font-size="6.6" font-weight="normal" text-anchor="start" fill="#000" stroke="#000" stroke-width="0.2">TCRBV06</text></g>
</svg></body></html>
